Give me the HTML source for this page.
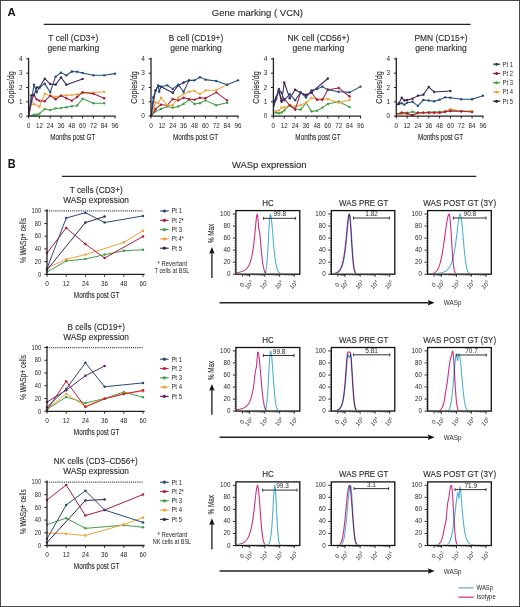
<!DOCTYPE html>
<html><head><meta charset="utf-8"><style>
html,body{margin:0;padding:0;background:#fff;}
svg{display:block;font-family:"Liberation Sans", sans-serif;}
text{opacity:0.999;}
text.b{stroke:#222;stroke-width:0.1px;}
</style></head><body>
<svg width="520" height="607" viewBox="0 0 520 607">
<rect width="520" height="607" fill="#fff"/>
<text x="7.60" y="16.10" font-size="11.2" text-anchor="start" fill="#111" font-weight="bold" textLength="8.20" lengthAdjust="spacingAndGlyphs" >A</text>
<text x="211.80" y="16.10" font-size="9.6" text-anchor="start" fill="#262626" textLength="91.20" lengthAdjust="spacingAndGlyphs" class="b" >Gene marking ( VCN)</text>
<line x1="43.80" y1="24.40" x2="470.60" y2="24.40" stroke="#222" stroke-width="1.2" />
<text x="73.30" y="41.00" font-size="9.0" text-anchor="middle" fill="#262626" textLength="50.00" lengthAdjust="spacingAndGlyphs" class="b" >T cell (CD3+)</text>
<text x="73.30" y="51.30" font-size="9.0" text-anchor="middle" fill="#262626" textLength="51.70" lengthAdjust="spacingAndGlyphs" class="b" >gene marking</text>
<polyline points="28.60,116.10 34.00,114.81 36.70,114.67 39.40,113.67 44.80,108.95 50.20,109.95 55.60,108.38 61.00,108.09 66.40,107.23 71.80,106.23 77.20,105.52 82.60,98.80 93.40,103.23 104.20,103.23" fill="none" stroke="#3f9f45" stroke-width="1.05" stroke-linejoin="round" />
<circle cx="34.00" cy="114.81" r="1.2" fill="#3f9f45"/>
<circle cx="36.70" cy="114.67" r="1.2" fill="#3f9f45"/>
<circle cx="39.40" cy="113.67" r="1.2" fill="#3f9f45"/>
<circle cx="44.80" cy="108.95" r="1.2" fill="#3f9f45"/>
<circle cx="50.20" cy="109.95" r="1.2" fill="#3f9f45"/>
<circle cx="55.60" cy="108.38" r="1.2" fill="#3f9f45"/>
<circle cx="61.00" cy="108.09" r="1.2" fill="#3f9f45"/>
<circle cx="66.40" cy="107.23" r="1.2" fill="#3f9f45"/>
<circle cx="71.80" cy="106.23" r="1.2" fill="#3f9f45"/>
<circle cx="77.20" cy="105.52" r="1.2" fill="#3f9f45"/>
<circle cx="82.60" cy="98.80" r="1.2" fill="#3f9f45"/>
<circle cx="93.40" cy="103.23" r="1.2" fill="#3f9f45"/>
<circle cx="104.20" cy="103.23" r="1.2" fill="#3f9f45"/>
<polyline points="28.60,116.10 31.30,104.66 34.00,103.94 39.40,106.80 44.80,93.79 50.20,95.65 55.60,96.65 61.00,95.65 66.40,95.36 71.80,95.08 77.20,94.22 82.60,93.22 104.20,91.79" fill="none" stroke="#f0a23a" stroke-width="1.05" stroke-linejoin="round" />
<circle cx="31.30" cy="104.66" r="1.2" fill="#f0a23a"/>
<circle cx="34.00" cy="103.94" r="1.2" fill="#f0a23a"/>
<circle cx="39.40" cy="106.80" r="1.2" fill="#f0a23a"/>
<circle cx="44.80" cy="93.79" r="1.2" fill="#f0a23a"/>
<circle cx="50.20" cy="95.65" r="1.2" fill="#f0a23a"/>
<circle cx="55.60" cy="96.65" r="1.2" fill="#f0a23a"/>
<circle cx="61.00" cy="95.65" r="1.2" fill="#f0a23a"/>
<circle cx="66.40" cy="95.36" r="1.2" fill="#f0a23a"/>
<circle cx="71.80" cy="95.08" r="1.2" fill="#f0a23a"/>
<circle cx="77.20" cy="94.22" r="1.2" fill="#f0a23a"/>
<circle cx="82.60" cy="93.22" r="1.2" fill="#f0a23a"/>
<circle cx="104.20" cy="91.79" r="1.2" fill="#f0a23a"/>
<polyline points="28.60,116.10 31.30,101.80 34.00,95.08 36.70,99.37 39.40,100.66 44.80,101.23 50.20,95.65 55.60,99.23 61.00,95.65 66.40,98.22 71.80,100.66 77.20,96.94 82.60,92.22 93.40,93.65 104.20,98.22" fill="none" stroke="#a81c3c" stroke-width="1.05" stroke-linejoin="round" />
<circle cx="31.30" cy="101.80" r="1.2" fill="#a81c3c"/>
<circle cx="34.00" cy="95.08" r="1.2" fill="#a81c3c"/>
<circle cx="36.70" cy="99.37" r="1.2" fill="#a81c3c"/>
<circle cx="39.40" cy="100.66" r="1.2" fill="#a81c3c"/>
<circle cx="44.80" cy="101.23" r="1.2" fill="#a81c3c"/>
<circle cx="50.20" cy="95.65" r="1.2" fill="#a81c3c"/>
<circle cx="55.60" cy="99.23" r="1.2" fill="#a81c3c"/>
<circle cx="61.00" cy="95.65" r="1.2" fill="#a81c3c"/>
<circle cx="66.40" cy="98.22" r="1.2" fill="#a81c3c"/>
<circle cx="71.80" cy="100.66" r="1.2" fill="#a81c3c"/>
<circle cx="77.20" cy="96.94" r="1.2" fill="#a81c3c"/>
<circle cx="82.60" cy="92.22" r="1.2" fill="#a81c3c"/>
<circle cx="93.40" cy="93.65" r="1.2" fill="#a81c3c"/>
<circle cx="104.20" cy="98.22" r="1.2" fill="#a81c3c"/>
<polyline points="28.60,116.10 31.30,95.36 34.00,95.08 36.70,87.50 39.40,87.50 44.80,78.63 50.20,84.07 55.60,84.64 61.00,77.49 66.40,84.64 82.60,78.92" fill="none" stroke="#3a2452" stroke-width="1.05" stroke-linejoin="round" />
<circle cx="31.30" cy="95.36" r="1.2" fill="#3a2452"/>
<circle cx="34.00" cy="95.08" r="1.2" fill="#3a2452"/>
<circle cx="36.70" cy="87.50" r="1.2" fill="#3a2452"/>
<circle cx="39.40" cy="87.50" r="1.2" fill="#3a2452"/>
<circle cx="44.80" cy="78.63" r="1.2" fill="#3a2452"/>
<circle cx="50.20" cy="84.07" r="1.2" fill="#3a2452"/>
<circle cx="55.60" cy="84.64" r="1.2" fill="#3a2452"/>
<circle cx="61.00" cy="77.49" r="1.2" fill="#3a2452"/>
<circle cx="66.40" cy="84.64" r="1.2" fill="#3a2452"/>
<circle cx="82.60" cy="78.92" r="1.2" fill="#3a2452"/>
<polyline points="28.60,116.10 31.30,101.80 34.00,84.64 36.70,92.22 39.40,87.50 44.80,83.64 50.20,92.22 55.60,76.63 61.00,72.63 66.40,75.34 71.80,71.48 77.20,71.77 82.60,72.91 93.40,75.34 104.20,75.34 115.00,73.63" fill="none" stroke="#264a7c" stroke-width="1.05" stroke-linejoin="round" />
<circle cx="31.30" cy="101.80" r="1.2" fill="#264a7c"/>
<circle cx="34.00" cy="84.64" r="1.2" fill="#264a7c"/>
<circle cx="36.70" cy="92.22" r="1.2" fill="#264a7c"/>
<circle cx="39.40" cy="87.50" r="1.2" fill="#264a7c"/>
<circle cx="44.80" cy="83.64" r="1.2" fill="#264a7c"/>
<circle cx="50.20" cy="92.22" r="1.2" fill="#264a7c"/>
<circle cx="55.60" cy="76.63" r="1.2" fill="#264a7c"/>
<circle cx="61.00" cy="72.63" r="1.2" fill="#264a7c"/>
<circle cx="66.40" cy="75.34" r="1.2" fill="#264a7c"/>
<circle cx="71.80" cy="71.48" r="1.2" fill="#264a7c"/>
<circle cx="77.20" cy="71.77" r="1.2" fill="#264a7c"/>
<circle cx="82.60" cy="72.91" r="1.2" fill="#264a7c"/>
<circle cx="93.40" cy="75.34" r="1.2" fill="#264a7c"/>
<circle cx="104.20" cy="75.34" r="1.2" fill="#264a7c"/>
<circle cx="115.00" cy="73.63" r="1.2" fill="#264a7c"/>
<line x1="28.60" y1="57.70" x2="28.60" y2="116.70" stroke="#222" stroke-width="1.3" />
<line x1="28.00" y1="116.10" x2="115.60" y2="116.10" stroke="#222" stroke-width="1.3" />
<line x1="26.20" y1="116.10" x2="28.60" y2="116.10" stroke="#222" stroke-width="1.0" />
<text x="20.70" y="118.10" font-size="6.6" text-anchor="middle" fill="#262626" textLength="3.60" lengthAdjust="spacingAndGlyphs" >0</text>
<line x1="26.20" y1="101.80" x2="28.60" y2="101.80" stroke="#222" stroke-width="1.0" />
<text x="20.70" y="103.80" font-size="6.6" text-anchor="middle" fill="#262626" textLength="3.60" lengthAdjust="spacingAndGlyphs" >1</text>
<line x1="26.20" y1="87.50" x2="28.60" y2="87.50" stroke="#222" stroke-width="1.0" />
<text x="20.70" y="89.50" font-size="6.6" text-anchor="middle" fill="#262626" textLength="3.60" lengthAdjust="spacingAndGlyphs" >2</text>
<line x1="26.20" y1="73.20" x2="28.60" y2="73.20" stroke="#222" stroke-width="1.0" />
<text x="20.70" y="75.20" font-size="6.6" text-anchor="middle" fill="#262626" textLength="3.60" lengthAdjust="spacingAndGlyphs" >3</text>
<line x1="26.20" y1="58.90" x2="28.60" y2="58.90" stroke="#222" stroke-width="1.0" />
<text x="20.70" y="60.90" font-size="6.6" text-anchor="middle" fill="#262626" textLength="3.60" lengthAdjust="spacingAndGlyphs" >4</text>
<line x1="28.60" y1="116.10" x2="28.60" y2="118.50" stroke="#222" stroke-width="1.0" />
<text x="28.60" y="127.90" font-size="6.6" text-anchor="middle" fill="#262626" textLength="3.60" lengthAdjust="spacingAndGlyphs" >0</text>
<line x1="39.40" y1="116.10" x2="39.40" y2="118.50" stroke="#222" stroke-width="1.0" />
<text x="39.40" y="127.90" font-size="6.6" text-anchor="middle" fill="#262626" textLength="7.00" lengthAdjust="spacingAndGlyphs" >12</text>
<line x1="50.20" y1="116.10" x2="50.20" y2="118.50" stroke="#222" stroke-width="1.0" />
<text x="50.20" y="127.90" font-size="6.6" text-anchor="middle" fill="#262626" textLength="7.00" lengthAdjust="spacingAndGlyphs" >24</text>
<line x1="61.00" y1="116.10" x2="61.00" y2="118.50" stroke="#222" stroke-width="1.0" />
<text x="61.00" y="127.90" font-size="6.6" text-anchor="middle" fill="#262626" textLength="7.00" lengthAdjust="spacingAndGlyphs" >36</text>
<line x1="71.80" y1="116.10" x2="71.80" y2="118.50" stroke="#222" stroke-width="1.0" />
<text x="71.80" y="127.90" font-size="6.6" text-anchor="middle" fill="#262626" textLength="7.00" lengthAdjust="spacingAndGlyphs" >48</text>
<line x1="82.60" y1="116.10" x2="82.60" y2="118.50" stroke="#222" stroke-width="1.0" />
<text x="82.60" y="127.90" font-size="6.6" text-anchor="middle" fill="#262626" textLength="7.00" lengthAdjust="spacingAndGlyphs" >60</text>
<line x1="93.40" y1="116.10" x2="93.40" y2="118.50" stroke="#222" stroke-width="1.0" />
<text x="93.40" y="127.90" font-size="6.6" text-anchor="middle" fill="#262626" textLength="7.00" lengthAdjust="spacingAndGlyphs" >72</text>
<line x1="104.20" y1="116.10" x2="104.20" y2="118.50" stroke="#222" stroke-width="1.0" />
<text x="104.20" y="127.90" font-size="6.6" text-anchor="middle" fill="#262626" textLength="7.00" lengthAdjust="spacingAndGlyphs" >84</text>
<line x1="115.00" y1="116.10" x2="115.00" y2="118.50" stroke="#222" stroke-width="1.0" />
<text x="115.00" y="127.90" font-size="6.6" text-anchor="middle" fill="#262626" textLength="7.00" lengthAdjust="spacingAndGlyphs" >96</text>
<text x="72.80" y="140.00" font-size="8.8" text-anchor="middle" fill="#262626" textLength="45.20" lengthAdjust="spacingAndGlyphs" class="b" >Months post GT</text>
<text x="14.20" y="87.40" font-size="8.6" text-anchor="middle" fill="#262626" textLength="32.60" lengthAdjust="spacingAndGlyphs" transform="rotate(-90 14.20 87.40)" class="b" >Copies/dg</text>
<text x="196.00" y="41.00" font-size="9.0" text-anchor="middle" fill="#262626" textLength="54.50" lengthAdjust="spacingAndGlyphs" class="b" >B cell (CD19+)</text>
<text x="196.00" y="51.30" font-size="9.0" text-anchor="middle" fill="#262626" textLength="51.70" lengthAdjust="spacingAndGlyphs" class="b" >gene marking</text>
<polyline points="151.00,116.10 155.53,111.38 160.97,108.95 167.31,106.52 172.75,107.66 178.19,106.52 183.62,103.94 189.06,99.66 194.50,103.94 199.94,103.23 205.38,100.37 216.25,105.23 227.12,102.80" fill="none" stroke="#3f9f45" stroke-width="1.05" stroke-linejoin="round" />
<circle cx="155.53" cy="111.38" r="1.2" fill="#3f9f45"/>
<circle cx="160.97" cy="108.95" r="1.2" fill="#3f9f45"/>
<circle cx="167.31" cy="106.52" r="1.2" fill="#3f9f45"/>
<circle cx="172.75" cy="107.66" r="1.2" fill="#3f9f45"/>
<circle cx="178.19" cy="106.52" r="1.2" fill="#3f9f45"/>
<circle cx="183.62" cy="103.94" r="1.2" fill="#3f9f45"/>
<circle cx="189.06" cy="99.66" r="1.2" fill="#3f9f45"/>
<circle cx="194.50" cy="103.94" r="1.2" fill="#3f9f45"/>
<circle cx="199.94" cy="103.23" r="1.2" fill="#3f9f45"/>
<circle cx="205.38" cy="100.37" r="1.2" fill="#3f9f45"/>
<circle cx="216.25" cy="105.23" r="1.2" fill="#3f9f45"/>
<circle cx="227.12" cy="102.80" r="1.2" fill="#3f9f45"/>
<polyline points="151.00,116.10 155.53,108.95 160.97,104.66 167.31,105.23 172.75,98.94 178.19,100.37 183.62,97.80 189.06,98.94 194.50,99.66 199.94,97.80 205.38,98.22 216.25,92.36 227.12,100.37" fill="none" stroke="#a81c3c" stroke-width="1.05" stroke-linejoin="round" />
<circle cx="155.53" cy="108.95" r="1.2" fill="#a81c3c"/>
<circle cx="160.97" cy="104.66" r="1.2" fill="#a81c3c"/>
<circle cx="167.31" cy="105.23" r="1.2" fill="#a81c3c"/>
<circle cx="172.75" cy="98.94" r="1.2" fill="#a81c3c"/>
<circle cx="178.19" cy="100.37" r="1.2" fill="#a81c3c"/>
<circle cx="183.62" cy="97.80" r="1.2" fill="#a81c3c"/>
<circle cx="189.06" cy="98.94" r="1.2" fill="#a81c3c"/>
<circle cx="194.50" cy="99.66" r="1.2" fill="#a81c3c"/>
<circle cx="199.94" cy="97.80" r="1.2" fill="#a81c3c"/>
<circle cx="205.38" cy="98.22" r="1.2" fill="#a81c3c"/>
<circle cx="216.25" cy="92.36" r="1.2" fill="#a81c3c"/>
<circle cx="227.12" cy="100.37" r="1.2" fill="#a81c3c"/>
<polyline points="151.00,116.10 153.72,107.52 155.53,102.23 158.25,103.23 160.97,97.80 167.31,105.23 172.75,105.23 178.19,97.80 183.62,94.08 189.06,91.65 194.50,90.79 199.94,94.08 205.38,90.36 216.25,89.93 227.12,84.64" fill="none" stroke="#f0a23a" stroke-width="1.05" stroke-linejoin="round" />
<circle cx="153.72" cy="107.52" r="1.2" fill="#f0a23a"/>
<circle cx="155.53" cy="102.23" r="1.2" fill="#f0a23a"/>
<circle cx="158.25" cy="103.23" r="1.2" fill="#f0a23a"/>
<circle cx="160.97" cy="97.80" r="1.2" fill="#f0a23a"/>
<circle cx="167.31" cy="105.23" r="1.2" fill="#f0a23a"/>
<circle cx="172.75" cy="105.23" r="1.2" fill="#f0a23a"/>
<circle cx="178.19" cy="97.80" r="1.2" fill="#f0a23a"/>
<circle cx="183.62" cy="94.08" r="1.2" fill="#f0a23a"/>
<circle cx="189.06" cy="91.65" r="1.2" fill="#f0a23a"/>
<circle cx="194.50" cy="90.79" r="1.2" fill="#f0a23a"/>
<circle cx="199.94" cy="94.08" r="1.2" fill="#f0a23a"/>
<circle cx="205.38" cy="90.36" r="1.2" fill="#f0a23a"/>
<circle cx="216.25" cy="89.93" r="1.2" fill="#f0a23a"/>
<circle cx="227.12" cy="84.64" r="1.2" fill="#f0a23a"/>
<polyline points="151.00,116.10 155.53,90.36 158.25,86.07 160.97,86.78 172.75,92.79 178.19,85.35 183.62,82.50 189.06,80.35" fill="none" stroke="#3a2452" stroke-width="1.05" stroke-linejoin="round" />
<circle cx="155.53" cy="90.36" r="1.2" fill="#3a2452"/>
<circle cx="158.25" cy="86.07" r="1.2" fill="#3a2452"/>
<circle cx="160.97" cy="86.78" r="1.2" fill="#3a2452"/>
<circle cx="172.75" cy="92.79" r="1.2" fill="#3a2452"/>
<circle cx="178.19" cy="85.35" r="1.2" fill="#3a2452"/>
<circle cx="183.62" cy="82.50" r="1.2" fill="#3a2452"/>
<circle cx="189.06" cy="80.35" r="1.2" fill="#3a2452"/>
<polyline points="151.00,116.10 153.27,97.51 155.53,90.79 158.25,85.35 159.16,91.79 160.97,86.78 167.31,85.35 172.75,88.93 178.19,84.64 183.62,91.79 189.06,80.35 194.50,80.35 199.94,77.20 205.38,79.63 216.25,81.06 227.12,84.64 238.00,80.35" fill="none" stroke="#264a7c" stroke-width="1.05" stroke-linejoin="round" />
<circle cx="153.27" cy="97.51" r="1.2" fill="#264a7c"/>
<circle cx="155.53" cy="90.79" r="1.2" fill="#264a7c"/>
<circle cx="158.25" cy="85.35" r="1.2" fill="#264a7c"/>
<circle cx="159.16" cy="91.79" r="1.2" fill="#264a7c"/>
<circle cx="160.97" cy="86.78" r="1.2" fill="#264a7c"/>
<circle cx="167.31" cy="85.35" r="1.2" fill="#264a7c"/>
<circle cx="172.75" cy="88.93" r="1.2" fill="#264a7c"/>
<circle cx="178.19" cy="84.64" r="1.2" fill="#264a7c"/>
<circle cx="183.62" cy="91.79" r="1.2" fill="#264a7c"/>
<circle cx="189.06" cy="80.35" r="1.2" fill="#264a7c"/>
<circle cx="194.50" cy="80.35" r="1.2" fill="#264a7c"/>
<circle cx="199.94" cy="77.20" r="1.2" fill="#264a7c"/>
<circle cx="205.38" cy="79.63" r="1.2" fill="#264a7c"/>
<circle cx="216.25" cy="81.06" r="1.2" fill="#264a7c"/>
<circle cx="227.12" cy="84.64" r="1.2" fill="#264a7c"/>
<circle cx="238.00" cy="80.35" r="1.2" fill="#264a7c"/>
<line x1="151.00" y1="57.70" x2="151.00" y2="116.70" stroke="#222" stroke-width="1.3" />
<line x1="150.40" y1="116.10" x2="238.60" y2="116.10" stroke="#222" stroke-width="1.3" />
<line x1="148.60" y1="116.10" x2="151.00" y2="116.10" stroke="#222" stroke-width="1.0" />
<text x="143.10" y="118.10" font-size="6.6" text-anchor="middle" fill="#262626" textLength="3.60" lengthAdjust="spacingAndGlyphs" >0</text>
<line x1="148.60" y1="101.80" x2="151.00" y2="101.80" stroke="#222" stroke-width="1.0" />
<text x="143.10" y="103.80" font-size="6.6" text-anchor="middle" fill="#262626" textLength="3.60" lengthAdjust="spacingAndGlyphs" >1</text>
<line x1="148.60" y1="87.50" x2="151.00" y2="87.50" stroke="#222" stroke-width="1.0" />
<text x="143.10" y="89.50" font-size="6.6" text-anchor="middle" fill="#262626" textLength="3.60" lengthAdjust="spacingAndGlyphs" >2</text>
<line x1="148.60" y1="73.20" x2="151.00" y2="73.20" stroke="#222" stroke-width="1.0" />
<text x="143.10" y="75.20" font-size="6.6" text-anchor="middle" fill="#262626" textLength="3.60" lengthAdjust="spacingAndGlyphs" >3</text>
<line x1="148.60" y1="58.90" x2="151.00" y2="58.90" stroke="#222" stroke-width="1.0" />
<text x="143.10" y="60.90" font-size="6.6" text-anchor="middle" fill="#262626" textLength="3.60" lengthAdjust="spacingAndGlyphs" >4</text>
<line x1="151.00" y1="116.10" x2="151.00" y2="118.50" stroke="#222" stroke-width="1.0" />
<text x="151.00" y="127.90" font-size="6.6" text-anchor="middle" fill="#262626" textLength="3.60" lengthAdjust="spacingAndGlyphs" >0</text>
<line x1="161.88" y1="116.10" x2="161.88" y2="118.50" stroke="#222" stroke-width="1.0" />
<text x="161.88" y="127.90" font-size="6.6" text-anchor="middle" fill="#262626" textLength="7.00" lengthAdjust="spacingAndGlyphs" >12</text>
<line x1="172.75" y1="116.10" x2="172.75" y2="118.50" stroke="#222" stroke-width="1.0" />
<text x="172.75" y="127.90" font-size="6.6" text-anchor="middle" fill="#262626" textLength="7.00" lengthAdjust="spacingAndGlyphs" >24</text>
<line x1="183.62" y1="116.10" x2="183.62" y2="118.50" stroke="#222" stroke-width="1.0" />
<text x="183.62" y="127.90" font-size="6.6" text-anchor="middle" fill="#262626" textLength="7.00" lengthAdjust="spacingAndGlyphs" >36</text>
<line x1="194.50" y1="116.10" x2="194.50" y2="118.50" stroke="#222" stroke-width="1.0" />
<text x="194.50" y="127.90" font-size="6.6" text-anchor="middle" fill="#262626" textLength="7.00" lengthAdjust="spacingAndGlyphs" >48</text>
<line x1="205.38" y1="116.10" x2="205.38" y2="118.50" stroke="#222" stroke-width="1.0" />
<text x="205.38" y="127.90" font-size="6.6" text-anchor="middle" fill="#262626" textLength="7.00" lengthAdjust="spacingAndGlyphs" >60</text>
<line x1="216.25" y1="116.10" x2="216.25" y2="118.50" stroke="#222" stroke-width="1.0" />
<text x="216.25" y="127.90" font-size="6.6" text-anchor="middle" fill="#262626" textLength="7.00" lengthAdjust="spacingAndGlyphs" >72</text>
<line x1="227.12" y1="116.10" x2="227.12" y2="118.50" stroke="#222" stroke-width="1.0" />
<text x="227.12" y="127.90" font-size="6.6" text-anchor="middle" fill="#262626" textLength="7.00" lengthAdjust="spacingAndGlyphs" >84</text>
<line x1="238.00" y1="116.10" x2="238.00" y2="118.50" stroke="#222" stroke-width="1.0" />
<text x="238.00" y="127.90" font-size="6.6" text-anchor="middle" fill="#262626" textLength="7.00" lengthAdjust="spacingAndGlyphs" >96</text>
<text x="195.50" y="140.00" font-size="8.8" text-anchor="middle" fill="#262626" textLength="45.20" lengthAdjust="spacingAndGlyphs" class="b" >Months post GT</text>
<text x="136.60" y="87.40" font-size="8.6" text-anchor="middle" fill="#262626" textLength="32.60" lengthAdjust="spacingAndGlyphs" transform="rotate(-90 136.60 87.40)" class="b" >Copies/dg</text>
<text x="318.40" y="41.00" font-size="9.0" text-anchor="middle" fill="#262626" textLength="62.00" lengthAdjust="spacingAndGlyphs" class="b" >NK cell (CD56+)</text>
<text x="318.40" y="51.30" font-size="9.0" text-anchor="middle" fill="#262626" textLength="51.70" lengthAdjust="spacingAndGlyphs" class="b" >gene marking</text>
<polyline points="273.40,113.24 276.12,112.52 278.84,113.24 281.57,112.52 284.29,110.38 289.73,105.23 295.17,108.95 300.62,109.66 306.06,102.80 311.51,111.38 316.95,110.67 322.39,107.66 327.84,103.94 338.73,101.51 349.61,106.95" fill="none" stroke="#3f9f45" stroke-width="1.05" stroke-linejoin="round" />
<circle cx="276.12" cy="112.52" r="1.2" fill="#3f9f45"/>
<circle cx="278.84" cy="113.24" r="1.2" fill="#3f9f45"/>
<circle cx="281.57" cy="112.52" r="1.2" fill="#3f9f45"/>
<circle cx="284.29" cy="110.38" r="1.2" fill="#3f9f45"/>
<circle cx="289.73" cy="105.23" r="1.2" fill="#3f9f45"/>
<circle cx="295.17" cy="108.95" r="1.2" fill="#3f9f45"/>
<circle cx="300.62" cy="109.66" r="1.2" fill="#3f9f45"/>
<circle cx="306.06" cy="102.80" r="1.2" fill="#3f9f45"/>
<circle cx="311.51" cy="111.38" r="1.2" fill="#3f9f45"/>
<circle cx="316.95" cy="110.67" r="1.2" fill="#3f9f45"/>
<circle cx="322.39" cy="107.66" r="1.2" fill="#3f9f45"/>
<circle cx="327.84" cy="103.94" r="1.2" fill="#3f9f45"/>
<circle cx="338.73" cy="101.51" r="1.2" fill="#3f9f45"/>
<circle cx="349.61" cy="106.95" r="1.2" fill="#3f9f45"/>
<polyline points="273.40,111.09 278.84,110.38 281.57,107.52 284.29,107.52 289.73,105.23 295.17,106.52 300.62,105.23 306.06,102.80 311.51,97.80 316.95,98.94 322.39,98.94 327.84,98.94 338.73,102.80 349.61,99.80" fill="none" stroke="#f0a23a" stroke-width="1.05" stroke-linejoin="round" />
<circle cx="278.84" cy="110.38" r="1.2" fill="#f0a23a"/>
<circle cx="281.57" cy="107.52" r="1.2" fill="#f0a23a"/>
<circle cx="284.29" cy="107.52" r="1.2" fill="#f0a23a"/>
<circle cx="289.73" cy="105.23" r="1.2" fill="#f0a23a"/>
<circle cx="295.17" cy="106.52" r="1.2" fill="#f0a23a"/>
<circle cx="300.62" cy="105.23" r="1.2" fill="#f0a23a"/>
<circle cx="306.06" cy="102.80" r="1.2" fill="#f0a23a"/>
<circle cx="311.51" cy="97.80" r="1.2" fill="#f0a23a"/>
<circle cx="316.95" cy="98.94" r="1.2" fill="#f0a23a"/>
<circle cx="322.39" cy="98.94" r="1.2" fill="#f0a23a"/>
<circle cx="327.84" cy="98.94" r="1.2" fill="#f0a23a"/>
<circle cx="338.73" cy="102.80" r="1.2" fill="#f0a23a"/>
<circle cx="349.61" cy="99.80" r="1.2" fill="#f0a23a"/>
<polyline points="273.40,107.52 276.12,98.94 278.84,90.36 281.57,100.37 284.29,98.94 289.73,105.23 295.17,109.66 300.62,92.79 306.06,94.79 311.51,92.79 316.95,99.80 322.39,99.80 327.84,89.79 338.73,87.93 349.61,96.51" fill="none" stroke="#a81c3c" stroke-width="1.05" stroke-linejoin="round" />
<circle cx="276.12" cy="98.94" r="1.2" fill="#a81c3c"/>
<circle cx="278.84" cy="90.36" r="1.2" fill="#a81c3c"/>
<circle cx="281.57" cy="100.37" r="1.2" fill="#a81c3c"/>
<circle cx="284.29" cy="98.94" r="1.2" fill="#a81c3c"/>
<circle cx="289.73" cy="105.23" r="1.2" fill="#a81c3c"/>
<circle cx="295.17" cy="109.66" r="1.2" fill="#a81c3c"/>
<circle cx="300.62" cy="92.79" r="1.2" fill="#a81c3c"/>
<circle cx="306.06" cy="94.79" r="1.2" fill="#a81c3c"/>
<circle cx="311.51" cy="92.79" r="1.2" fill="#a81c3c"/>
<circle cx="316.95" cy="99.80" r="1.2" fill="#a81c3c"/>
<circle cx="322.39" cy="99.80" r="1.2" fill="#a81c3c"/>
<circle cx="327.84" cy="89.79" r="1.2" fill="#a81c3c"/>
<circle cx="338.73" cy="87.93" r="1.2" fill="#a81c3c"/>
<circle cx="349.61" cy="96.51" r="1.2" fill="#a81c3c"/>
<polyline points="273.40,103.23 276.12,97.51 278.84,90.79 281.57,101.80 284.29,82.50 289.73,98.22 295.17,89.79 300.62,92.79 306.06,95.36 311.51,92.36 327.84,78.49" fill="none" stroke="#3a2452" stroke-width="1.05" stroke-linejoin="round" />
<circle cx="276.12" cy="97.51" r="1.2" fill="#3a2452"/>
<circle cx="278.84" cy="90.79" r="1.2" fill="#3a2452"/>
<circle cx="281.57" cy="101.80" r="1.2" fill="#3a2452"/>
<circle cx="284.29" cy="82.50" r="1.2" fill="#3a2452"/>
<circle cx="289.73" cy="98.22" r="1.2" fill="#3a2452"/>
<circle cx="295.17" cy="89.79" r="1.2" fill="#3a2452"/>
<circle cx="300.62" cy="92.79" r="1.2" fill="#3a2452"/>
<circle cx="306.06" cy="95.36" r="1.2" fill="#3a2452"/>
<circle cx="311.51" cy="92.36" r="1.2" fill="#3a2452"/>
<circle cx="327.84" cy="78.49" r="1.2" fill="#3a2452"/>
<polyline points="273.40,107.52 275.21,100.37 278.84,88.93 281.57,92.79 284.29,100.37 289.73,94.08 295.17,100.37 300.62,92.36 306.06,97.51 311.51,90.36 316.95,89.07 322.39,86.64 327.84,89.79 338.73,91.79 349.61,92.36 360.50,86.64" fill="none" stroke="#264a7c" stroke-width="1.05" stroke-linejoin="round" />
<circle cx="275.21" cy="100.37" r="1.2" fill="#264a7c"/>
<circle cx="278.84" cy="88.93" r="1.2" fill="#264a7c"/>
<circle cx="281.57" cy="92.79" r="1.2" fill="#264a7c"/>
<circle cx="284.29" cy="100.37" r="1.2" fill="#264a7c"/>
<circle cx="289.73" cy="94.08" r="1.2" fill="#264a7c"/>
<circle cx="295.17" cy="100.37" r="1.2" fill="#264a7c"/>
<circle cx="300.62" cy="92.36" r="1.2" fill="#264a7c"/>
<circle cx="306.06" cy="97.51" r="1.2" fill="#264a7c"/>
<circle cx="311.51" cy="90.36" r="1.2" fill="#264a7c"/>
<circle cx="316.95" cy="89.07" r="1.2" fill="#264a7c"/>
<circle cx="322.39" cy="86.64" r="1.2" fill="#264a7c"/>
<circle cx="327.84" cy="89.79" r="1.2" fill="#264a7c"/>
<circle cx="338.73" cy="91.79" r="1.2" fill="#264a7c"/>
<circle cx="349.61" cy="92.36" r="1.2" fill="#264a7c"/>
<circle cx="360.50" cy="86.64" r="1.2" fill="#264a7c"/>
<line x1="273.40" y1="57.70" x2="273.40" y2="116.70" stroke="#222" stroke-width="1.3" />
<line x1="272.80" y1="116.10" x2="361.10" y2="116.10" stroke="#222" stroke-width="1.3" />
<line x1="271.00" y1="116.10" x2="273.40" y2="116.10" stroke="#222" stroke-width="1.0" />
<text x="265.50" y="118.10" font-size="6.6" text-anchor="middle" fill="#262626" textLength="3.60" lengthAdjust="spacingAndGlyphs" >0</text>
<line x1="271.00" y1="101.80" x2="273.40" y2="101.80" stroke="#222" stroke-width="1.0" />
<text x="265.50" y="103.80" font-size="6.6" text-anchor="middle" fill="#262626" textLength="3.60" lengthAdjust="spacingAndGlyphs" >1</text>
<line x1="271.00" y1="87.50" x2="273.40" y2="87.50" stroke="#222" stroke-width="1.0" />
<text x="265.50" y="89.50" font-size="6.6" text-anchor="middle" fill="#262626" textLength="3.60" lengthAdjust="spacingAndGlyphs" >2</text>
<line x1="271.00" y1="73.20" x2="273.40" y2="73.20" stroke="#222" stroke-width="1.0" />
<text x="265.50" y="75.20" font-size="6.6" text-anchor="middle" fill="#262626" textLength="3.60" lengthAdjust="spacingAndGlyphs" >3</text>
<line x1="271.00" y1="58.90" x2="273.40" y2="58.90" stroke="#222" stroke-width="1.0" />
<text x="265.50" y="60.90" font-size="6.6" text-anchor="middle" fill="#262626" textLength="3.60" lengthAdjust="spacingAndGlyphs" >4</text>
<line x1="273.40" y1="116.10" x2="273.40" y2="118.50" stroke="#222" stroke-width="1.0" />
<text x="273.40" y="127.90" font-size="6.6" text-anchor="middle" fill="#262626" textLength="3.60" lengthAdjust="spacingAndGlyphs" >0</text>
<line x1="284.29" y1="116.10" x2="284.29" y2="118.50" stroke="#222" stroke-width="1.0" />
<text x="284.29" y="127.90" font-size="6.6" text-anchor="middle" fill="#262626" textLength="7.00" lengthAdjust="spacingAndGlyphs" >12</text>
<line x1="295.17" y1="116.10" x2="295.17" y2="118.50" stroke="#222" stroke-width="1.0" />
<text x="295.17" y="127.90" font-size="6.6" text-anchor="middle" fill="#262626" textLength="7.00" lengthAdjust="spacingAndGlyphs" >24</text>
<line x1="306.06" y1="116.10" x2="306.06" y2="118.50" stroke="#222" stroke-width="1.0" />
<text x="306.06" y="127.90" font-size="6.6" text-anchor="middle" fill="#262626" textLength="7.00" lengthAdjust="spacingAndGlyphs" >36</text>
<line x1="316.95" y1="116.10" x2="316.95" y2="118.50" stroke="#222" stroke-width="1.0" />
<text x="316.95" y="127.90" font-size="6.6" text-anchor="middle" fill="#262626" textLength="7.00" lengthAdjust="spacingAndGlyphs" >48</text>
<line x1="327.84" y1="116.10" x2="327.84" y2="118.50" stroke="#222" stroke-width="1.0" />
<text x="327.84" y="127.90" font-size="6.6" text-anchor="middle" fill="#262626" textLength="7.00" lengthAdjust="spacingAndGlyphs" >60</text>
<line x1="338.73" y1="116.10" x2="338.73" y2="118.50" stroke="#222" stroke-width="1.0" />
<text x="338.73" y="127.90" font-size="6.6" text-anchor="middle" fill="#262626" textLength="7.00" lengthAdjust="spacingAndGlyphs" >72</text>
<line x1="349.61" y1="116.10" x2="349.61" y2="118.50" stroke="#222" stroke-width="1.0" />
<text x="349.61" y="127.90" font-size="6.6" text-anchor="middle" fill="#262626" textLength="7.00" lengthAdjust="spacingAndGlyphs" >84</text>
<line x1="360.50" y1="116.10" x2="360.50" y2="118.50" stroke="#222" stroke-width="1.0" />
<text x="360.50" y="127.90" font-size="6.6" text-anchor="middle" fill="#262626" textLength="7.00" lengthAdjust="spacingAndGlyphs" >96</text>
<text x="317.95" y="140.00" font-size="8.8" text-anchor="middle" fill="#262626" textLength="45.20" lengthAdjust="spacingAndGlyphs" class="b" >Months post GT</text>
<text x="259.00" y="87.40" font-size="8.6" text-anchor="middle" fill="#262626" textLength="32.60" lengthAdjust="spacingAndGlyphs" transform="rotate(-90 259.00 87.40)" class="b" >Copies/dg</text>
<text x="441.00" y="41.00" font-size="9.0" text-anchor="middle" fill="#262626" textLength="53.00" lengthAdjust="spacingAndGlyphs" class="b" >PMN (CD15+)</text>
<text x="441.00" y="51.30" font-size="9.0" text-anchor="middle" fill="#262626" textLength="51.70" lengthAdjust="spacingAndGlyphs" class="b" >gene marking</text>
<polyline points="396.30,113.95 401.71,112.67 407.12,112.67 412.54,111.81 417.95,112.67 423.36,112.67 428.77,112.10 434.19,112.10 439.60,111.81 445.01,111.81 450.43,111.24 461.25,111.24 472.07,111.24" fill="none" stroke="#3f9f45" stroke-width="1.05" stroke-linejoin="round" />
<circle cx="401.71" cy="112.67" r="1.2" fill="#3f9f45"/>
<circle cx="407.12" cy="112.67" r="1.2" fill="#3f9f45"/>
<circle cx="412.54" cy="111.81" r="1.2" fill="#3f9f45"/>
<circle cx="417.95" cy="112.67" r="1.2" fill="#3f9f45"/>
<circle cx="423.36" cy="112.67" r="1.2" fill="#3f9f45"/>
<circle cx="428.77" cy="112.10" r="1.2" fill="#3f9f45"/>
<circle cx="434.19" cy="112.10" r="1.2" fill="#3f9f45"/>
<circle cx="439.60" cy="111.81" r="1.2" fill="#3f9f45"/>
<circle cx="445.01" cy="111.81" r="1.2" fill="#3f9f45"/>
<circle cx="450.43" cy="111.24" r="1.2" fill="#3f9f45"/>
<circle cx="461.25" cy="111.24" r="1.2" fill="#3f9f45"/>
<circle cx="472.07" cy="111.24" r="1.2" fill="#3f9f45"/>
<polyline points="396.30,115.24 401.71,113.95 407.12,113.95 412.54,114.81 417.95,113.38 423.36,112.67 428.77,112.67 434.19,112.67 439.60,112.67 445.01,111.24 450.43,109.09 461.25,111.24 472.07,110.81" fill="none" stroke="#f0a23a" stroke-width="1.05" stroke-linejoin="round" />
<circle cx="401.71" cy="113.95" r="1.2" fill="#f0a23a"/>
<circle cx="407.12" cy="113.95" r="1.2" fill="#f0a23a"/>
<circle cx="412.54" cy="114.81" r="1.2" fill="#f0a23a"/>
<circle cx="417.95" cy="113.38" r="1.2" fill="#f0a23a"/>
<circle cx="423.36" cy="112.67" r="1.2" fill="#f0a23a"/>
<circle cx="428.77" cy="112.67" r="1.2" fill="#f0a23a"/>
<circle cx="434.19" cy="112.67" r="1.2" fill="#f0a23a"/>
<circle cx="439.60" cy="112.67" r="1.2" fill="#f0a23a"/>
<circle cx="445.01" cy="111.24" r="1.2" fill="#f0a23a"/>
<circle cx="450.43" cy="109.09" r="1.2" fill="#f0a23a"/>
<circle cx="461.25" cy="111.24" r="1.2" fill="#f0a23a"/>
<circle cx="472.07" cy="110.81" r="1.2" fill="#f0a23a"/>
<polyline points="396.30,113.95 401.71,112.67 407.12,113.38 412.54,115.24 417.95,112.67 423.36,112.67 428.77,112.67 434.19,112.67 439.60,112.67 445.01,111.81 450.43,110.81 461.25,111.24 472.07,112.10" fill="none" stroke="#a81c3c" stroke-width="1.05" stroke-linejoin="round" />
<circle cx="401.71" cy="112.67" r="1.2" fill="#a81c3c"/>
<circle cx="407.12" cy="113.38" r="1.2" fill="#a81c3c"/>
<circle cx="412.54" cy="115.24" r="1.2" fill="#a81c3c"/>
<circle cx="417.95" cy="112.67" r="1.2" fill="#a81c3c"/>
<circle cx="423.36" cy="112.67" r="1.2" fill="#a81c3c"/>
<circle cx="428.77" cy="112.67" r="1.2" fill="#a81c3c"/>
<circle cx="434.19" cy="112.67" r="1.2" fill="#a81c3c"/>
<circle cx="439.60" cy="112.67" r="1.2" fill="#a81c3c"/>
<circle cx="445.01" cy="111.81" r="1.2" fill="#a81c3c"/>
<circle cx="450.43" cy="110.81" r="1.2" fill="#a81c3c"/>
<circle cx="461.25" cy="111.24" r="1.2" fill="#a81c3c"/>
<circle cx="472.07" cy="112.10" r="1.2" fill="#a81c3c"/>
<polyline points="396.30,104.66 399.01,103.94 401.71,103.23 404.42,104.66 407.12,102.66 412.54,101.80 417.95,105.95 423.36,99.94 428.77,100.51 434.19,101.37 439.60,99.66 445.01,97.37 450.43,97.80 461.25,99.23 472.07,99.23 482.90,95.65" fill="none" stroke="#264a7c" stroke-width="1.05" stroke-linejoin="round" />
<circle cx="399.01" cy="103.94" r="1.2" fill="#264a7c"/>
<circle cx="401.71" cy="103.23" r="1.2" fill="#264a7c"/>
<circle cx="404.42" cy="104.66" r="1.2" fill="#264a7c"/>
<circle cx="407.12" cy="102.66" r="1.2" fill="#264a7c"/>
<circle cx="412.54" cy="101.80" r="1.2" fill="#264a7c"/>
<circle cx="417.95" cy="105.95" r="1.2" fill="#264a7c"/>
<circle cx="423.36" cy="99.94" r="1.2" fill="#264a7c"/>
<circle cx="428.77" cy="100.51" r="1.2" fill="#264a7c"/>
<circle cx="434.19" cy="101.37" r="1.2" fill="#264a7c"/>
<circle cx="439.60" cy="99.66" r="1.2" fill="#264a7c"/>
<circle cx="445.01" cy="97.37" r="1.2" fill="#264a7c"/>
<circle cx="450.43" cy="97.80" r="1.2" fill="#264a7c"/>
<circle cx="461.25" cy="99.23" r="1.2" fill="#264a7c"/>
<circle cx="472.07" cy="99.23" r="1.2" fill="#264a7c"/>
<circle cx="482.90" cy="95.65" r="1.2" fill="#264a7c"/>
<polyline points="396.30,105.38 399.01,103.23 401.71,97.80 404.42,100.51 407.12,99.94 412.54,98.65 417.95,95.65 423.36,94.65 428.77,87.07 434.19,91.93 450.43,91.07" fill="none" stroke="#3a2452" stroke-width="1.05" stroke-linejoin="round" />
<circle cx="399.01" cy="103.23" r="1.2" fill="#3a2452"/>
<circle cx="401.71" cy="97.80" r="1.2" fill="#3a2452"/>
<circle cx="404.42" cy="100.51" r="1.2" fill="#3a2452"/>
<circle cx="407.12" cy="99.94" r="1.2" fill="#3a2452"/>
<circle cx="412.54" cy="98.65" r="1.2" fill="#3a2452"/>
<circle cx="417.95" cy="95.65" r="1.2" fill="#3a2452"/>
<circle cx="423.36" cy="94.65" r="1.2" fill="#3a2452"/>
<circle cx="428.77" cy="87.07" r="1.2" fill="#3a2452"/>
<circle cx="434.19" cy="91.93" r="1.2" fill="#3a2452"/>
<circle cx="450.43" cy="91.07" r="1.2" fill="#3a2452"/>
<line x1="396.30" y1="57.70" x2="396.30" y2="116.70" stroke="#222" stroke-width="1.3" />
<line x1="395.70" y1="116.10" x2="483.50" y2="116.10" stroke="#222" stroke-width="1.3" />
<line x1="393.90" y1="116.10" x2="396.30" y2="116.10" stroke="#222" stroke-width="1.0" />
<text x="388.40" y="118.10" font-size="6.6" text-anchor="middle" fill="#262626" textLength="3.60" lengthAdjust="spacingAndGlyphs" >0</text>
<line x1="393.90" y1="101.80" x2="396.30" y2="101.80" stroke="#222" stroke-width="1.0" />
<text x="388.40" y="103.80" font-size="6.6" text-anchor="middle" fill="#262626" textLength="3.60" lengthAdjust="spacingAndGlyphs" >1</text>
<line x1="393.90" y1="87.50" x2="396.30" y2="87.50" stroke="#222" stroke-width="1.0" />
<text x="388.40" y="89.50" font-size="6.6" text-anchor="middle" fill="#262626" textLength="3.60" lengthAdjust="spacingAndGlyphs" >2</text>
<line x1="393.90" y1="73.20" x2="396.30" y2="73.20" stroke="#222" stroke-width="1.0" />
<text x="388.40" y="75.20" font-size="6.6" text-anchor="middle" fill="#262626" textLength="3.60" lengthAdjust="spacingAndGlyphs" >3</text>
<line x1="393.90" y1="58.90" x2="396.30" y2="58.90" stroke="#222" stroke-width="1.0" />
<text x="388.40" y="60.90" font-size="6.6" text-anchor="middle" fill="#262626" textLength="3.60" lengthAdjust="spacingAndGlyphs" >4</text>
<line x1="396.30" y1="116.10" x2="396.30" y2="118.50" stroke="#222" stroke-width="1.0" />
<text x="396.30" y="127.90" font-size="6.6" text-anchor="middle" fill="#262626" textLength="3.60" lengthAdjust="spacingAndGlyphs" >0</text>
<line x1="407.12" y1="116.10" x2="407.12" y2="118.50" stroke="#222" stroke-width="1.0" />
<text x="407.12" y="127.90" font-size="6.6" text-anchor="middle" fill="#262626" textLength="7.00" lengthAdjust="spacingAndGlyphs" >12</text>
<line x1="417.95" y1="116.10" x2="417.95" y2="118.50" stroke="#222" stroke-width="1.0" />
<text x="417.95" y="127.90" font-size="6.6" text-anchor="middle" fill="#262626" textLength="7.00" lengthAdjust="spacingAndGlyphs" >24</text>
<line x1="428.77" y1="116.10" x2="428.77" y2="118.50" stroke="#222" stroke-width="1.0" />
<text x="428.77" y="127.90" font-size="6.6" text-anchor="middle" fill="#262626" textLength="7.00" lengthAdjust="spacingAndGlyphs" >36</text>
<line x1="439.60" y1="116.10" x2="439.60" y2="118.50" stroke="#222" stroke-width="1.0" />
<text x="439.60" y="127.90" font-size="6.6" text-anchor="middle" fill="#262626" textLength="7.00" lengthAdjust="spacingAndGlyphs" >48</text>
<line x1="450.43" y1="116.10" x2="450.43" y2="118.50" stroke="#222" stroke-width="1.0" />
<text x="450.43" y="127.90" font-size="6.6" text-anchor="middle" fill="#262626" textLength="7.00" lengthAdjust="spacingAndGlyphs" >60</text>
<line x1="461.25" y1="116.10" x2="461.25" y2="118.50" stroke="#222" stroke-width="1.0" />
<text x="461.25" y="127.90" font-size="6.6" text-anchor="middle" fill="#262626" textLength="7.00" lengthAdjust="spacingAndGlyphs" >72</text>
<line x1="472.07" y1="116.10" x2="472.07" y2="118.50" stroke="#222" stroke-width="1.0" />
<text x="472.07" y="127.90" font-size="6.6" text-anchor="middle" fill="#262626" textLength="7.00" lengthAdjust="spacingAndGlyphs" >84</text>
<line x1="482.90" y1="116.10" x2="482.90" y2="118.50" stroke="#222" stroke-width="1.0" />
<text x="482.90" y="127.90" font-size="6.6" text-anchor="middle" fill="#262626" textLength="7.00" lengthAdjust="spacingAndGlyphs" >96</text>
<text x="440.60" y="140.00" font-size="8.8" text-anchor="middle" fill="#262626" textLength="45.20" lengthAdjust="spacingAndGlyphs" class="b" >Months post GT</text>
<text x="381.90" y="87.40" font-size="8.6" text-anchor="middle" fill="#262626" textLength="32.60" lengthAdjust="spacingAndGlyphs" transform="rotate(-90 381.90 87.40)" class="b" >Copies/dg</text>
<line x1="493.00" y1="64.20" x2="500.20" y2="64.20" stroke="#1f3f5e" stroke-width="1.2" />
<circle cx="496.60" cy="64.20" r="1.5" fill="#1f3f5e"/>
<text x="502.60" y="66.50" font-size="7.0" text-anchor="start" fill="#262626" textLength="10.40" lengthAdjust="spacingAndGlyphs" >Pt 1</text>
<line x1="493.00" y1="73.45" x2="500.20" y2="73.45" stroke="#8c1c2c" stroke-width="1.2" />
<circle cx="496.60" cy="73.45" r="1.5" fill="#8c1c2c"/>
<text x="502.60" y="75.75" font-size="7.0" text-anchor="start" fill="#262626" textLength="10.40" lengthAdjust="spacingAndGlyphs" >Pt 2</text>
<line x1="493.00" y1="82.70" x2="500.20" y2="82.70" stroke="#3f9f45" stroke-width="1.2" />
<circle cx="496.60" cy="82.70" r="1.5" fill="#3f9f45"/>
<text x="502.60" y="85.00" font-size="7.0" text-anchor="start" fill="#262626" textLength="10.40" lengthAdjust="spacingAndGlyphs" >Pt 3</text>
<line x1="493.00" y1="91.95" x2="500.20" y2="91.95" stroke="#f0a23a" stroke-width="1.2" />
<circle cx="496.60" cy="91.95" r="1.5" fill="#f0a23a"/>
<text x="502.60" y="94.25" font-size="7.0" text-anchor="start" fill="#262626" textLength="10.40" lengthAdjust="spacingAndGlyphs" >Pt 4</text>
<line x1="493.00" y1="101.20" x2="500.20" y2="101.20" stroke="#231a33" stroke-width="1.2" />
<circle cx="496.60" cy="101.20" r="1.5" fill="#231a33"/>
<text x="502.60" y="103.50" font-size="7.0" text-anchor="start" fill="#262626" textLength="10.40" lengthAdjust="spacingAndGlyphs" >Pt 5</text>
<text x="7.70" y="168.00" font-size="13.0" text-anchor="start" fill="#111" font-weight="bold" textLength="7.90" lengthAdjust="spacingAndGlyphs" >B</text>
<text x="232.00" y="168.30" font-size="9.6" text-anchor="start" fill="#262626" textLength="74.50" lengthAdjust="spacingAndGlyphs" class="b" >WASp expression</text>
<line x1="62.00" y1="176.30" x2="476.20" y2="176.30" stroke="#222" stroke-width="1.2" />
<text x="96.30" y="193.00" font-size="9.0" text-anchor="middle" fill="#262626" textLength="53.10" lengthAdjust="spacingAndGlyphs" class="b" >T cells (CD3+)</text>
<text x="96.10" y="203.10" font-size="9.0" text-anchor="middle" fill="#262626" textLength="65.80" lengthAdjust="spacingAndGlyphs" class="b" >WASp expression</text>
<line x1="47.00" y1="210.80" x2="143.2" y2="210.80" stroke="#333" stroke-width="1.25" stroke-dasharray="1.0 1.1"/>
<polyline points="47.00,272.08 66.20,260.97 85.40,259.06 104.60,254.62 123.80,250.81 143.00,249.73" fill="none" stroke="#3f9f45" stroke-width="1.0" stroke-linejoin="round" />
<circle cx="47.00" cy="272.08" r="1.25" fill="#3f9f45"/>
<circle cx="66.20" cy="260.97" r="1.25" fill="#3f9f45"/>
<circle cx="85.40" cy="259.06" r="1.25" fill="#3f9f45"/>
<circle cx="104.60" cy="254.62" r="1.25" fill="#3f9f45"/>
<circle cx="123.80" cy="250.81" r="1.25" fill="#3f9f45"/>
<circle cx="143.00" cy="249.73" r="1.25" fill="#3f9f45"/>
<polyline points="47.00,267.95 66.20,259.31 85.40,254.62 123.80,242.36 143.00,230.74" fill="none" stroke="#f0a23a" stroke-width="1.0" stroke-linejoin="round" />
<circle cx="47.00" cy="267.95" r="1.25" fill="#f0a23a"/>
<circle cx="66.20" cy="259.31" r="1.25" fill="#f0a23a"/>
<circle cx="85.40" cy="254.62" r="1.25" fill="#f0a23a"/>
<circle cx="123.80" cy="242.36" r="1.25" fill="#f0a23a"/>
<circle cx="143.00" cy="230.74" r="1.25" fill="#f0a23a"/>
<polyline points="47.00,253.03 66.20,227.95 85.40,244.07 104.60,258.04 143.00,236.45" fill="none" stroke="#a81c3c" stroke-width="1.0" stroke-linejoin="round" />
<circle cx="47.00" cy="253.03" r="1.25" fill="#a81c3c"/>
<circle cx="66.20" cy="227.95" r="1.25" fill="#a81c3c"/>
<circle cx="85.40" cy="244.07" r="1.25" fill="#a81c3c"/>
<circle cx="104.60" cy="258.04" r="1.25" fill="#a81c3c"/>
<circle cx="143.00" cy="236.45" r="1.25" fill="#a81c3c"/>
<polyline points="47.00,269.86 85.40,222.55 104.60,216.52" fill="none" stroke="#3a2452" stroke-width="1.0" stroke-linejoin="round" />
<circle cx="47.00" cy="269.86" r="1.25" fill="#3a2452"/>
<circle cx="85.40" cy="222.55" r="1.25" fill="#3a2452"/>
<circle cx="104.60" cy="216.52" r="1.25" fill="#3a2452"/>
<polyline points="47.00,268.59 66.20,218.04 85.40,212.71 104.60,222.55 143.00,215.94" fill="none" stroke="#264a7c" stroke-width="1.0" stroke-linejoin="round" />
<circle cx="47.00" cy="268.59" r="1.25" fill="#264a7c"/>
<circle cx="66.20" cy="218.04" r="1.25" fill="#264a7c"/>
<circle cx="85.40" cy="212.71" r="1.25" fill="#264a7c"/>
<circle cx="104.60" cy="222.55" r="1.25" fill="#264a7c"/>
<circle cx="143.00" cy="215.94" r="1.25" fill="#264a7c"/>
<line x1="47.00" y1="209.30" x2="47.00" y2="274.90" stroke="#222" stroke-width="1.3" />
<line x1="46.40" y1="274.30" x2="144.60" y2="274.30" stroke="#222" stroke-width="1.3" />
<line x1="44.40" y1="274.30" x2="47.00" y2="274.30" stroke="#222" stroke-width="1.0" />
<text x="41.20" y="276.50" font-size="6.3" text-anchor="end" fill="#262626" textLength="3.20" lengthAdjust="spacingAndGlyphs" >0</text>
<line x1="44.40" y1="261.60" x2="47.00" y2="261.60" stroke="#222" stroke-width="1.0" />
<text x="41.20" y="263.80" font-size="6.3" text-anchor="end" fill="#262626" textLength="6.40" lengthAdjust="spacingAndGlyphs" >20</text>
<line x1="44.40" y1="248.90" x2="47.00" y2="248.90" stroke="#222" stroke-width="1.0" />
<text x="41.20" y="251.10" font-size="6.3" text-anchor="end" fill="#262626" textLength="6.40" lengthAdjust="spacingAndGlyphs" >40</text>
<line x1="44.40" y1="236.20" x2="47.00" y2="236.20" stroke="#222" stroke-width="1.0" />
<text x="41.20" y="238.40" font-size="6.3" text-anchor="end" fill="#262626" textLength="6.40" lengthAdjust="spacingAndGlyphs" >60</text>
<line x1="44.40" y1="223.50" x2="47.00" y2="223.50" stroke="#222" stroke-width="1.0" />
<text x="41.20" y="225.70" font-size="6.3" text-anchor="end" fill="#262626" textLength="6.40" lengthAdjust="spacingAndGlyphs" >80</text>
<line x1="44.40" y1="210.80" x2="47.00" y2="210.80" stroke="#222" stroke-width="1.0" />
<text x="41.20" y="213.00" font-size="6.3" text-anchor="end" fill="#262626" textLength="9.60" lengthAdjust="spacingAndGlyphs" >100</text>
<line x1="47.00" y1="274.30" x2="47.00" y2="276.70" stroke="#222" stroke-width="1.0" />
<text x="47.00" y="285.90" font-size="6.5" text-anchor="middle" fill="#262626" textLength="3.60" lengthAdjust="spacingAndGlyphs" >0</text>
<line x1="66.20" y1="274.30" x2="66.20" y2="276.70" stroke="#222" stroke-width="1.0" />
<text x="66.20" y="285.90" font-size="6.5" text-anchor="middle" fill="#262626" textLength="7.00" lengthAdjust="spacingAndGlyphs" >12</text>
<line x1="85.40" y1="274.30" x2="85.40" y2="276.70" stroke="#222" stroke-width="1.0" />
<text x="85.40" y="285.90" font-size="6.5" text-anchor="middle" fill="#262626" textLength="7.00" lengthAdjust="spacingAndGlyphs" >24</text>
<line x1="104.60" y1="274.30" x2="104.60" y2="276.70" stroke="#222" stroke-width="1.0" />
<text x="104.60" y="285.90" font-size="6.5" text-anchor="middle" fill="#262626" textLength="7.00" lengthAdjust="spacingAndGlyphs" >36</text>
<line x1="123.80" y1="274.30" x2="123.80" y2="276.70" stroke="#222" stroke-width="1.0" />
<text x="123.80" y="285.90" font-size="6.5" text-anchor="middle" fill="#262626" textLength="7.00" lengthAdjust="spacingAndGlyphs" >48</text>
<line x1="143.00" y1="274.30" x2="143.00" y2="276.70" stroke="#222" stroke-width="1.0" />
<text x="143.00" y="285.90" font-size="6.5" text-anchor="middle" fill="#262626" textLength="7.00" lengthAdjust="spacingAndGlyphs" >60</text>
<text x="96.60" y="297.90" font-size="8.8" text-anchor="middle" fill="#262626" textLength="45.60" lengthAdjust="spacingAndGlyphs" class="b" >Months post GT</text>
<text x="25.60" y="240.55" font-size="8.6" text-anchor="middle" fill="#262626" textLength="45.00" lengthAdjust="spacingAndGlyphs" transform="rotate(-90 25.60 240.55)" class="b" >% WASp+ cells</text>
<line x1="160.20" y1="211.00" x2="168.60" y2="211.00" stroke="#264a7c" stroke-width="1.2" />
<circle cx="164.40" cy="211.00" r="1.6" fill="#264a7c"/>
<text x="171.40" y="213.30" font-size="7.0" text-anchor="start" fill="#262626" textLength="10.60" lengthAdjust="spacingAndGlyphs" >Pt 1</text>
<line x1="160.20" y1="220.30" x2="168.60" y2="220.30" stroke="#a81c3c" stroke-width="1.2" />
<circle cx="164.40" cy="220.30" r="1.6" fill="#a81c3c"/>
<text x="171.40" y="222.60" font-size="7.0" text-anchor="start" fill="#262626" textLength="12.40" lengthAdjust="spacingAndGlyphs" >Pt 2*</text>
<line x1="160.20" y1="229.60" x2="168.60" y2="229.60" stroke="#3f9f45" stroke-width="1.2" />
<circle cx="164.40" cy="229.60" r="1.6" fill="#3f9f45"/>
<text x="171.40" y="231.90" font-size="7.0" text-anchor="start" fill="#262626" textLength="10.60" lengthAdjust="spacingAndGlyphs" >Pt 3</text>
<line x1="160.20" y1="238.90" x2="168.60" y2="238.90" stroke="#f0a23a" stroke-width="1.2" />
<circle cx="164.40" cy="238.90" r="1.6" fill="#f0a23a"/>
<text x="171.40" y="241.20" font-size="7.0" text-anchor="start" fill="#262626" textLength="12.40" lengthAdjust="spacingAndGlyphs" >Pt 4*</text>
<line x1="160.20" y1="248.20" x2="168.60" y2="248.20" stroke="#3a2452" stroke-width="1.2" />
<circle cx="164.40" cy="248.20" r="1.6" fill="#3a2452"/>
<text x="171.40" y="250.50" font-size="7.0" text-anchor="start" fill="#262626" textLength="10.60" lengthAdjust="spacingAndGlyphs" >Pt 5</text>
<text x="172.40" y="265.80" font-size="6.9" text-anchor="middle" fill="#262626" textLength="29.60" lengthAdjust="spacingAndGlyphs" >* Revertant</text>
<text x="172.00" y="272.60" font-size="6.9" text-anchor="middle" fill="#262626" textLength="35.00" lengthAdjust="spacingAndGlyphs" >T cells at BSL</text>
<text x="96.30" y="329.80" font-size="9.0" text-anchor="middle" fill="#262626" textLength="57.50" lengthAdjust="spacingAndGlyphs" class="b" >B cells (CD19+)</text>
<text x="96.10" y="339.90" font-size="9.0" text-anchor="middle" fill="#262626" textLength="65.80" lengthAdjust="spacingAndGlyphs" class="b" >WASp expression</text>
<line x1="47.00" y1="347.50" x2="143.2" y2="347.50" stroke="#333" stroke-width="1.25" stroke-dasharray="1.0 1.1"/>
<polyline points="47.00,409.39 66.20,396.94 85.40,403.01 104.60,398.54 123.80,392.03 143.00,397.33" fill="none" stroke="#3f9f45" stroke-width="1.0" stroke-linejoin="round" />
<circle cx="47.00" cy="409.39" r="1.25" fill="#3f9f45"/>
<circle cx="66.20" cy="396.94" r="1.25" fill="#3f9f45"/>
<circle cx="85.40" cy="403.01" r="1.25" fill="#3f9f45"/>
<circle cx="104.60" cy="398.54" r="1.25" fill="#3f9f45"/>
<circle cx="123.80" cy="392.03" r="1.25" fill="#3f9f45"/>
<circle cx="143.00" cy="397.33" r="1.25" fill="#3f9f45"/>
<polyline points="47.00,408.75 66.20,393.75 85.40,406.20 104.60,398.54 123.80,393.44 143.00,391.20" fill="none" stroke="#f0a23a" stroke-width="1.0" stroke-linejoin="round" />
<circle cx="47.00" cy="408.75" r="1.25" fill="#f0a23a"/>
<circle cx="66.20" cy="393.75" r="1.25" fill="#f0a23a"/>
<circle cx="85.40" cy="406.20" r="1.25" fill="#f0a23a"/>
<circle cx="104.60" cy="398.54" r="1.25" fill="#f0a23a"/>
<circle cx="123.80" cy="393.44" r="1.25" fill="#f0a23a"/>
<circle cx="143.00" cy="391.20" r="1.25" fill="#f0a23a"/>
<polyline points="47.00,410.02 66.20,381.31 85.40,407.03 104.60,398.80 123.80,394.07 143.00,390.31" fill="none" stroke="#c41e34" stroke-width="1.0" stroke-linejoin="round" />
<circle cx="47.00" cy="410.02" r="1.25" fill="#c41e34"/>
<circle cx="66.20" cy="381.31" r="1.25" fill="#c41e34"/>
<circle cx="85.40" cy="407.03" r="1.25" fill="#c41e34"/>
<circle cx="104.60" cy="398.80" r="1.25" fill="#c41e34"/>
<circle cx="123.80" cy="394.07" r="1.25" fill="#c41e34"/>
<circle cx="143.00" cy="390.31" r="1.25" fill="#c41e34"/>
<polyline points="47.00,402.05 66.20,390.25 85.40,375.76 104.60,366.00" fill="none" stroke="#58286e" stroke-width="1.0" stroke-linejoin="round" />
<circle cx="47.00" cy="402.05" r="1.25" fill="#58286e"/>
<circle cx="66.20" cy="390.25" r="1.25" fill="#58286e"/>
<circle cx="85.40" cy="375.76" r="1.25" fill="#58286e"/>
<circle cx="104.60" cy="366.00" r="1.25" fill="#58286e"/>
<polyline points="47.00,407.15 66.20,388.97 85.40,362.81 104.60,386.74 143.00,382.91" fill="none" stroke="#264a7c" stroke-width="1.0" stroke-linejoin="round" />
<circle cx="47.00" cy="407.15" r="1.25" fill="#264a7c"/>
<circle cx="66.20" cy="388.97" r="1.25" fill="#264a7c"/>
<circle cx="85.40" cy="362.81" r="1.25" fill="#264a7c"/>
<circle cx="104.60" cy="386.74" r="1.25" fill="#264a7c"/>
<circle cx="143.00" cy="382.91" r="1.25" fill="#264a7c"/>
<line x1="47.00" y1="346.00" x2="47.00" y2="411.90" stroke="#222" stroke-width="1.3" />
<line x1="46.40" y1="411.30" x2="144.60" y2="411.30" stroke="#222" stroke-width="1.3" />
<line x1="44.40" y1="411.30" x2="47.00" y2="411.30" stroke="#222" stroke-width="1.0" />
<text x="41.20" y="413.50" font-size="6.3" text-anchor="end" fill="#262626" textLength="3.20" lengthAdjust="spacingAndGlyphs" >0</text>
<line x1="44.40" y1="398.54" x2="47.00" y2="398.54" stroke="#222" stroke-width="1.0" />
<text x="41.20" y="400.74" font-size="6.3" text-anchor="end" fill="#262626" textLength="6.40" lengthAdjust="spacingAndGlyphs" >20</text>
<line x1="44.40" y1="385.78" x2="47.00" y2="385.78" stroke="#222" stroke-width="1.0" />
<text x="41.20" y="387.98" font-size="6.3" text-anchor="end" fill="#262626" textLength="6.40" lengthAdjust="spacingAndGlyphs" >40</text>
<line x1="44.40" y1="373.02" x2="47.00" y2="373.02" stroke="#222" stroke-width="1.0" />
<text x="41.20" y="375.22" font-size="6.3" text-anchor="end" fill="#262626" textLength="6.40" lengthAdjust="spacingAndGlyphs" >60</text>
<line x1="44.40" y1="360.26" x2="47.00" y2="360.26" stroke="#222" stroke-width="1.0" />
<text x="41.20" y="362.46" font-size="6.3" text-anchor="end" fill="#262626" textLength="6.40" lengthAdjust="spacingAndGlyphs" >80</text>
<line x1="44.40" y1="347.50" x2="47.00" y2="347.50" stroke="#222" stroke-width="1.0" />
<text x="41.20" y="349.70" font-size="6.3" text-anchor="end" fill="#262626" textLength="9.60" lengthAdjust="spacingAndGlyphs" >100</text>
<line x1="47.00" y1="411.30" x2="47.00" y2="413.70" stroke="#222" stroke-width="1.0" />
<text x="47.00" y="422.90" font-size="6.5" text-anchor="middle" fill="#262626" textLength="3.60" lengthAdjust="spacingAndGlyphs" >0</text>
<line x1="66.20" y1="411.30" x2="66.20" y2="413.70" stroke="#222" stroke-width="1.0" />
<text x="66.20" y="422.90" font-size="6.5" text-anchor="middle" fill="#262626" textLength="7.00" lengthAdjust="spacingAndGlyphs" >12</text>
<line x1="85.40" y1="411.30" x2="85.40" y2="413.70" stroke="#222" stroke-width="1.0" />
<text x="85.40" y="422.90" font-size="6.5" text-anchor="middle" fill="#262626" textLength="7.00" lengthAdjust="spacingAndGlyphs" >24</text>
<line x1="104.60" y1="411.30" x2="104.60" y2="413.70" stroke="#222" stroke-width="1.0" />
<text x="104.60" y="422.90" font-size="6.5" text-anchor="middle" fill="#262626" textLength="7.00" lengthAdjust="spacingAndGlyphs" >36</text>
<line x1="123.80" y1="411.30" x2="123.80" y2="413.70" stroke="#222" stroke-width="1.0" />
<text x="123.80" y="422.90" font-size="6.5" text-anchor="middle" fill="#262626" textLength="7.00" lengthAdjust="spacingAndGlyphs" >48</text>
<line x1="143.00" y1="411.30" x2="143.00" y2="413.70" stroke="#222" stroke-width="1.0" />
<text x="143.00" y="422.90" font-size="6.5" text-anchor="middle" fill="#262626" textLength="7.00" lengthAdjust="spacingAndGlyphs" >60</text>
<text x="96.60" y="434.90" font-size="8.8" text-anchor="middle" fill="#262626" textLength="45.60" lengthAdjust="spacingAndGlyphs" class="b" >Months post GT</text>
<text x="25.60" y="377.40" font-size="8.6" text-anchor="middle" fill="#262626" textLength="45.00" lengthAdjust="spacingAndGlyphs" transform="rotate(-90 25.60 377.40)" class="b" >% WASp+ cells</text>
<line x1="160.20" y1="359.20" x2="168.60" y2="359.20" stroke="#264a7c" stroke-width="1.2" />
<circle cx="164.40" cy="359.20" r="1.6" fill="#264a7c"/>
<text x="171.40" y="361.50" font-size="7.0" text-anchor="start" fill="#262626" textLength="10.60" lengthAdjust="spacingAndGlyphs" >Pt 1</text>
<line x1="160.20" y1="368.50" x2="168.60" y2="368.50" stroke="#c41e34" stroke-width="1.2" />
<circle cx="164.40" cy="368.50" r="1.6" fill="#c41e34"/>
<text x="171.40" y="370.80" font-size="7.0" text-anchor="start" fill="#262626" textLength="10.60" lengthAdjust="spacingAndGlyphs" >Pt 2</text>
<line x1="160.20" y1="377.80" x2="168.60" y2="377.80" stroke="#3f9f45" stroke-width="1.2" />
<circle cx="164.40" cy="377.80" r="1.6" fill="#3f9f45"/>
<text x="171.40" y="380.10" font-size="7.0" text-anchor="start" fill="#262626" textLength="10.60" lengthAdjust="spacingAndGlyphs" >Pt 3</text>
<line x1="160.20" y1="387.10" x2="168.60" y2="387.10" stroke="#f0a23a" stroke-width="1.2" />
<circle cx="164.40" cy="387.10" r="1.6" fill="#f0a23a"/>
<text x="171.40" y="389.40" font-size="7.0" text-anchor="start" fill="#262626" textLength="10.60" lengthAdjust="spacingAndGlyphs" >Pt 4</text>
<line x1="160.20" y1="396.40" x2="168.60" y2="396.40" stroke="#58286e" stroke-width="1.2" />
<circle cx="164.40" cy="396.40" r="1.6" fill="#58286e"/>
<text x="171.40" y="398.70" font-size="7.0" text-anchor="start" fill="#262626" textLength="10.60" lengthAdjust="spacingAndGlyphs" >Pt 5</text>
<text x="53.80" y="464.20" font-size="9.0" text-anchor="start" fill="#262626" textLength="84.00" lengthAdjust="spacingAndGlyphs" class="b" >NK cells (CD3–CD56+)</text>
<text x="96.10" y="474.30" font-size="9.0" text-anchor="middle" fill="#262626" textLength="65.80" lengthAdjust="spacingAndGlyphs" class="b" >WASp expression</text>
<line x1="47.00" y1="482.00" x2="143.2" y2="482.00" stroke="#333" stroke-width="1.25" stroke-dasharray="1.0 1.1"/>
<polyline points="47.00,524.54 66.20,518.20 85.40,528.36 123.80,525.18 143.00,527.28" fill="none" stroke="#3f9f45" stroke-width="1.0" stroke-linejoin="round" />
<circle cx="47.00" cy="524.54" r="1.25" fill="#3f9f45"/>
<circle cx="66.20" cy="518.20" r="1.25" fill="#3f9f45"/>
<circle cx="85.40" cy="528.36" r="1.25" fill="#3f9f45"/>
<circle cx="123.80" cy="525.18" r="1.25" fill="#3f9f45"/>
<circle cx="143.00" cy="527.28" r="1.25" fill="#3f9f45"/>
<polyline points="47.00,532.99 66.20,533.75 85.40,535.53 123.80,524.54 143.00,517.56" fill="none" stroke="#f0a23a" stroke-width="1.0" stroke-linejoin="round" />
<circle cx="47.00" cy="532.99" r="1.25" fill="#f0a23a"/>
<circle cx="66.20" cy="533.75" r="1.25" fill="#f0a23a"/>
<circle cx="85.40" cy="535.53" r="1.25" fill="#f0a23a"/>
<circle cx="123.80" cy="524.54" r="1.25" fill="#f0a23a"/>
<circle cx="143.00" cy="517.56" r="1.25" fill="#f0a23a"/>
<polyline points="47.00,500.03 66.20,484.98 85.40,515.53 104.60,510.00 143.00,494.51" fill="none" stroke="#a81c3c" stroke-width="1.0" stroke-linejoin="round" />
<circle cx="47.00" cy="500.03" r="1.25" fill="#a81c3c"/>
<circle cx="66.20" cy="484.98" r="1.25" fill="#a81c3c"/>
<circle cx="85.40" cy="515.53" r="1.25" fill="#a81c3c"/>
<circle cx="104.60" cy="510.00" r="1.25" fill="#a81c3c"/>
<circle cx="143.00" cy="494.51" r="1.25" fill="#a81c3c"/>
<polyline points="47.00,542.52 85.40,500.48 104.60,499.53" fill="none" stroke="#3a2452" stroke-width="1.0" stroke-linejoin="round" />
<circle cx="47.00" cy="542.52" r="1.25" fill="#3a2452"/>
<circle cx="85.40" cy="500.48" r="1.25" fill="#3a2452"/>
<circle cx="104.60" cy="499.53" r="1.25" fill="#3a2452"/>
<polyline points="47.00,538.77 66.20,504.99 85.40,490.76 104.60,510.00 143.00,522.39" fill="none" stroke="#264a7c" stroke-width="1.0" stroke-linejoin="round" />
<circle cx="47.00" cy="538.77" r="1.25" fill="#264a7c"/>
<circle cx="66.20" cy="504.99" r="1.25" fill="#264a7c"/>
<circle cx="85.40" cy="490.76" r="1.25" fill="#264a7c"/>
<circle cx="104.60" cy="510.00" r="1.25" fill="#264a7c"/>
<circle cx="143.00" cy="522.39" r="1.25" fill="#264a7c"/>
<line x1="47.00" y1="480.50" x2="47.00" y2="546.10" stroke="#222" stroke-width="1.3" />
<line x1="46.40" y1="545.50" x2="144.60" y2="545.50" stroke="#222" stroke-width="1.3" />
<line x1="44.40" y1="545.50" x2="47.00" y2="545.50" stroke="#222" stroke-width="1.0" />
<text x="41.20" y="547.70" font-size="6.3" text-anchor="end" fill="#262626" textLength="3.20" lengthAdjust="spacingAndGlyphs" >0</text>
<line x1="44.40" y1="532.80" x2="47.00" y2="532.80" stroke="#222" stroke-width="1.0" />
<text x="41.20" y="535.00" font-size="6.3" text-anchor="end" fill="#262626" textLength="6.40" lengthAdjust="spacingAndGlyphs" >20</text>
<line x1="44.40" y1="520.10" x2="47.00" y2="520.10" stroke="#222" stroke-width="1.0" />
<text x="41.20" y="522.30" font-size="6.3" text-anchor="end" fill="#262626" textLength="6.40" lengthAdjust="spacingAndGlyphs" >40</text>
<line x1="44.40" y1="507.40" x2="47.00" y2="507.40" stroke="#222" stroke-width="1.0" />
<text x="41.20" y="509.60" font-size="6.3" text-anchor="end" fill="#262626" textLength="6.40" lengthAdjust="spacingAndGlyphs" >60</text>
<line x1="44.40" y1="494.70" x2="47.00" y2="494.70" stroke="#222" stroke-width="1.0" />
<text x="41.20" y="496.90" font-size="6.3" text-anchor="end" fill="#262626" textLength="6.40" lengthAdjust="spacingAndGlyphs" >80</text>
<line x1="44.40" y1="482.00" x2="47.00" y2="482.00" stroke="#222" stroke-width="1.0" />
<text x="41.20" y="484.20" font-size="6.3" text-anchor="end" fill="#262626" textLength="9.60" lengthAdjust="spacingAndGlyphs" >100</text>
<line x1="47.00" y1="545.50" x2="47.00" y2="547.90" stroke="#222" stroke-width="1.0" />
<text x="47.00" y="557.10" font-size="6.5" text-anchor="middle" fill="#262626" textLength="3.60" lengthAdjust="spacingAndGlyphs" >0</text>
<line x1="66.20" y1="545.50" x2="66.20" y2="547.90" stroke="#222" stroke-width="1.0" />
<text x="66.20" y="557.10" font-size="6.5" text-anchor="middle" fill="#262626" textLength="7.00" lengthAdjust="spacingAndGlyphs" >12</text>
<line x1="85.40" y1="545.50" x2="85.40" y2="547.90" stroke="#222" stroke-width="1.0" />
<text x="85.40" y="557.10" font-size="6.5" text-anchor="middle" fill="#262626" textLength="7.00" lengthAdjust="spacingAndGlyphs" >24</text>
<line x1="104.60" y1="545.50" x2="104.60" y2="547.90" stroke="#222" stroke-width="1.0" />
<text x="104.60" y="557.10" font-size="6.5" text-anchor="middle" fill="#262626" textLength="7.00" lengthAdjust="spacingAndGlyphs" >36</text>
<line x1="123.80" y1="545.50" x2="123.80" y2="547.90" stroke="#222" stroke-width="1.0" />
<text x="123.80" y="557.10" font-size="6.5" text-anchor="middle" fill="#262626" textLength="7.00" lengthAdjust="spacingAndGlyphs" >48</text>
<line x1="143.00" y1="545.50" x2="143.00" y2="547.90" stroke="#222" stroke-width="1.0" />
<text x="143.00" y="557.10" font-size="6.5" text-anchor="middle" fill="#262626" textLength="7.00" lengthAdjust="spacingAndGlyphs" >60</text>
<text x="96.60" y="569.10" font-size="8.8" text-anchor="middle" fill="#262626" textLength="45.60" lengthAdjust="spacingAndGlyphs" class="b" >Months post GT</text>
<text x="25.60" y="511.75" font-size="8.6" text-anchor="middle" fill="#262626" textLength="45.00" lengthAdjust="spacingAndGlyphs" transform="rotate(-90 25.60 511.75)" class="b" >% WASp+ cells</text>
<line x1="160.20" y1="482.20" x2="168.60" y2="482.20" stroke="#264a7c" stroke-width="1.2" />
<circle cx="164.40" cy="482.20" r="1.6" fill="#264a7c"/>
<text x="171.40" y="484.50" font-size="7.0" text-anchor="start" fill="#262626" textLength="10.60" lengthAdjust="spacingAndGlyphs" >Pt 1</text>
<line x1="160.20" y1="491.50" x2="168.60" y2="491.50" stroke="#a81c3c" stroke-width="1.2" />
<circle cx="164.40" cy="491.50" r="1.6" fill="#a81c3c"/>
<text x="171.40" y="493.80" font-size="7.0" text-anchor="start" fill="#262626" textLength="12.40" lengthAdjust="spacingAndGlyphs" >Pt 2*</text>
<line x1="160.20" y1="500.80" x2="168.60" y2="500.80" stroke="#3f9f45" stroke-width="1.2" />
<circle cx="164.40" cy="500.80" r="1.6" fill="#3f9f45"/>
<text x="171.40" y="503.10" font-size="7.0" text-anchor="start" fill="#262626" textLength="10.60" lengthAdjust="spacingAndGlyphs" >Pt 3</text>
<line x1="160.20" y1="510.10" x2="168.60" y2="510.10" stroke="#f0a23a" stroke-width="1.2" />
<circle cx="164.40" cy="510.10" r="1.6" fill="#f0a23a"/>
<text x="171.40" y="512.40" font-size="7.0" text-anchor="start" fill="#262626" textLength="10.60" lengthAdjust="spacingAndGlyphs" >Pt 4</text>
<line x1="160.20" y1="519.40" x2="168.60" y2="519.40" stroke="#3a2452" stroke-width="1.2" />
<circle cx="164.40" cy="519.40" r="1.6" fill="#3a2452"/>
<text x="171.40" y="521.70" font-size="7.0" text-anchor="start" fill="#262626" textLength="10.60" lengthAdjust="spacingAndGlyphs" >Pt 5</text>
<text x="172.40" y="536.80" font-size="6.9" text-anchor="middle" fill="#262626" textLength="29.60" lengthAdjust="spacingAndGlyphs" >* Revertant</text>
<text x="172.00" y="543.60" font-size="6.9" text-anchor="middle" fill="#262626" textLength="38.40" lengthAdjust="spacingAndGlyphs" >NK cells at BSL</text>
<text x="262.20" y="205.60" font-size="8.3" text-anchor="start" fill="#262626" textLength="11.60" lengthAdjust="spacingAndGlyphs" class="b" >HC</text>
<clipPath id="clip00"><rect x="235.90" y="210.60" width="63.90" height="62.70"/></clipPath>
<g clip-path="url(#clip00)">
<polyline points="236.70,272.71 237.27,272.63 237.83,272.54 238.40,272.44 238.97,272.32 239.53,272.20 240.10,272.07 240.66,271.92 241.23,271.75 241.80,271.56 242.36,271.35 242.93,271.12 243.50,270.85 244.06,270.56 244.63,270.22 245.20,269.83 245.76,269.39 246.33,268.88 246.89,268.29 247.46,267.61 248.03,266.82 248.59,265.90 249.16,264.81 249.73,263.53 250.29,262.01 250.86,260.20 251.43,258.06 251.99,255.50 252.56,252.45 253.12,248.83 253.69,244.56 254.26,239.62 254.82,234.03 255.39,227.99 255.96,221.96 256.52,216.83 257.09,214.13 257.66,215.50 258.22,221.97 258.79,228.98 259.35,230.75 259.92,234.67 260.49,241.18 261.05,247.82 261.62,253.87 262.19,259.08 262.75,263.34 263.32,266.68 263.89,269.17 264.45,270.96 265.02,272.18 265.58,272.99 266.15,273.50 266.72,273.81 267.28,273.99 267.85,274.09 268.42,274.14 268.98,274.17 269.55,274.19 270.12,274.19 270.68,274.20 271.25,274.20 271.81,274.20 272.38,274.20 272.95,274.20 273.51,274.20 274.08,274.20 274.65,274.20 275.21,274.20 275.78,274.20 276.35,274.20 276.91,274.20 277.48,274.20 278.04,274.20 278.61,274.20 279.18,274.20 279.74,274.20 280.31,274.20 280.88,274.20 281.44,274.20 282.01,274.20 282.58,274.20 283.14,274.20 283.71,274.20 284.27,274.20 284.84,274.20 285.41,274.20 285.97,274.20 286.54,274.20 287.11,274.20 287.67,274.20 288.24,274.20 288.81,274.20 289.37,274.20 289.94,274.20 290.50,274.20 291.07,274.20 291.64,274.20 292.20,274.20 292.77,274.20 293.34,274.20 293.90,274.20 294.47,274.20 295.04,274.20 295.60,274.20 296.17,274.20 296.73,274.20 297.30,274.20 297.87,274.20 298.43,274.20 299.00,274.20" fill="none" stroke="#cf2f7e" stroke-width="1.1" stroke-linejoin="round" />
<polyline points="236.70,274.20 237.27,274.20 237.83,274.20 238.40,274.20 238.97,274.20 239.53,274.20 240.10,274.20 240.66,274.20 241.23,274.20 241.80,274.20 242.36,274.20 242.93,274.20 243.50,274.20 244.06,274.20 244.63,274.20 245.20,274.20 245.76,274.20 246.33,274.20 246.89,274.20 247.46,274.20 248.03,274.20 248.59,274.20 249.16,274.20 249.73,274.20 250.29,274.20 250.86,274.20 251.43,274.20 251.99,274.20 252.56,274.20 253.12,274.20 253.69,274.20 254.26,274.20 254.82,274.20 255.39,274.20 255.96,274.20 256.52,274.20 257.09,274.20 257.66,274.20 258.22,274.20 258.79,274.20 259.35,274.20 259.92,274.20 260.49,274.20 261.05,274.20 261.62,274.20 262.19,274.19 262.75,274.18 263.32,274.14 263.89,274.03 264.45,273.75 265.02,273.11 265.58,271.77 266.15,269.26 266.72,265.00 267.28,258.52 267.85,249.74 268.42,239.29 268.98,228.62 269.55,219.74 270.12,214.67 270.68,214.40 271.25,217.41 271.81,222.64 272.38,229.18 272.95,236.21 273.51,243.07 274.08,249.32 274.65,254.75 275.21,259.28 275.78,262.94 276.35,265.81 276.91,268.03 277.48,269.70 278.04,270.95 278.61,271.86 279.18,272.53 279.74,273.01 280.31,273.36 280.88,273.61 281.44,273.78 282.01,273.90 282.58,273.99 283.14,274.05 283.71,274.10 284.27,274.13 284.84,274.15 285.41,274.16 285.97,274.17 286.54,274.18 287.11,274.19 287.67,274.19 288.24,274.19 288.81,274.20 289.37,274.20 289.94,274.20 290.50,274.20 291.07,274.20 291.64,274.20 292.20,274.20 292.77,274.20 293.34,274.20 293.90,274.20 294.47,274.20 295.04,274.20 295.60,274.20 296.17,274.20 296.73,274.20 297.30,274.20 297.87,274.20 298.43,274.20 299.00,274.20" fill="none" stroke="#4fb0d6" stroke-width="1.1" stroke-linejoin="round" style="mix-blend-mode:multiply"/>
</g>
<rect x="235.90" y="210.60" width="63.90" height="63.60" fill="none" stroke="#111" stroke-width="1.3"/>
<line x1="232.90" y1="274.20" x2="235.90" y2="274.20" stroke="#222" stroke-width="1.0" />
<text x="230.40" y="276.20" font-size="6.5" text-anchor="end" fill="#262626" textLength="3.50" lengthAdjust="spacingAndGlyphs" >0</text>
<line x1="234.50" y1="271.79" x2="235.90" y2="271.79" stroke="#333" stroke-width="0.8" />
<line x1="234.50" y1="269.38" x2="235.90" y2="269.38" stroke="#333" stroke-width="0.8" />
<line x1="234.50" y1="266.98" x2="235.90" y2="266.98" stroke="#333" stroke-width="0.8" />
<line x1="234.50" y1="264.57" x2="235.90" y2="264.57" stroke="#333" stroke-width="0.8" />
<line x1="232.90" y1="262.16" x2="235.90" y2="262.16" stroke="#222" stroke-width="1.0" />
<text x="230.40" y="264.16" font-size="6.5" text-anchor="end" fill="#262626" textLength="7.00" lengthAdjust="spacingAndGlyphs" >20</text>
<line x1="234.50" y1="259.75" x2="235.90" y2="259.75" stroke="#333" stroke-width="0.8" />
<line x1="234.50" y1="257.34" x2="235.90" y2="257.34" stroke="#333" stroke-width="0.8" />
<line x1="234.50" y1="254.94" x2="235.90" y2="254.94" stroke="#333" stroke-width="0.8" />
<line x1="234.50" y1="252.53" x2="235.90" y2="252.53" stroke="#333" stroke-width="0.8" />
<line x1="232.90" y1="250.12" x2="235.90" y2="250.12" stroke="#222" stroke-width="1.0" />
<text x="230.40" y="252.12" font-size="6.5" text-anchor="end" fill="#262626" textLength="7.00" lengthAdjust="spacingAndGlyphs" >40</text>
<line x1="234.50" y1="247.71" x2="235.90" y2="247.71" stroke="#333" stroke-width="0.8" />
<line x1="234.50" y1="245.30" x2="235.90" y2="245.30" stroke="#333" stroke-width="0.8" />
<line x1="234.50" y1="242.90" x2="235.90" y2="242.90" stroke="#333" stroke-width="0.8" />
<line x1="234.50" y1="240.49" x2="235.90" y2="240.49" stroke="#333" stroke-width="0.8" />
<line x1="232.90" y1="238.08" x2="235.90" y2="238.08" stroke="#222" stroke-width="1.0" />
<text x="230.40" y="240.08" font-size="6.5" text-anchor="end" fill="#262626" textLength="7.00" lengthAdjust="spacingAndGlyphs" >60</text>
<line x1="234.50" y1="235.67" x2="235.90" y2="235.67" stroke="#333" stroke-width="0.8" />
<line x1="234.50" y1="233.26" x2="235.90" y2="233.26" stroke="#333" stroke-width="0.8" />
<line x1="234.50" y1="230.86" x2="235.90" y2="230.86" stroke="#333" stroke-width="0.8" />
<line x1="234.50" y1="228.45" x2="235.90" y2="228.45" stroke="#333" stroke-width="0.8" />
<line x1="232.90" y1="226.04" x2="235.90" y2="226.04" stroke="#222" stroke-width="1.0" />
<text x="230.40" y="228.04" font-size="6.5" text-anchor="end" fill="#262626" textLength="7.00" lengthAdjust="spacingAndGlyphs" >80</text>
<line x1="234.50" y1="223.63" x2="235.90" y2="223.63" stroke="#333" stroke-width="0.8" />
<line x1="234.50" y1="221.22" x2="235.90" y2="221.22" stroke="#333" stroke-width="0.8" />
<line x1="234.50" y1="218.82" x2="235.90" y2="218.82" stroke="#333" stroke-width="0.8" />
<line x1="234.50" y1="216.41" x2="235.90" y2="216.41" stroke="#333" stroke-width="0.8" />
<line x1="232.90" y1="214.00" x2="235.90" y2="214.00" stroke="#222" stroke-width="1.0" />
<text x="230.40" y="216.00" font-size="6.5" text-anchor="end" fill="#262626" textLength="10.50" lengthAdjust="spacingAndGlyphs" >100</text>
<line x1="242.40" y1="274.20" x2="242.40" y2="276.60" stroke="#222" stroke-width="0.9" />
<line x1="249.70" y1="274.20" x2="249.70" y2="276.80" stroke="#222" stroke-width="0.9" />
<line x1="254.22" y1="274.20" x2="254.22" y2="275.60" stroke="#333" stroke-width="0.7" />
<line x1="256.86" y1="274.20" x2="256.86" y2="275.60" stroke="#333" stroke-width="0.7" />
<line x1="258.73" y1="274.20" x2="258.73" y2="275.60" stroke="#333" stroke-width="0.7" />
<line x1="260.18" y1="274.20" x2="260.18" y2="275.60" stroke="#333" stroke-width="0.7" />
<line x1="261.37" y1="274.20" x2="261.37" y2="275.60" stroke="#333" stroke-width="0.7" />
<line x1="262.38" y1="274.20" x2="262.38" y2="275.60" stroke="#333" stroke-width="0.7" />
<line x1="263.25" y1="274.20" x2="263.25" y2="275.60" stroke="#333" stroke-width="0.7" />
<line x1="264.01" y1="274.20" x2="264.01" y2="275.60" stroke="#333" stroke-width="0.7" />
<line x1="264.80" y1="274.20" x2="264.80" y2="276.80" stroke="#222" stroke-width="0.9" />
<line x1="269.32" y1="274.20" x2="269.32" y2="275.60" stroke="#333" stroke-width="0.7" />
<line x1="271.96" y1="274.20" x2="271.96" y2="275.60" stroke="#333" stroke-width="0.7" />
<line x1="273.83" y1="274.20" x2="273.83" y2="275.60" stroke="#333" stroke-width="0.7" />
<line x1="275.28" y1="274.20" x2="275.28" y2="275.60" stroke="#333" stroke-width="0.7" />
<line x1="276.47" y1="274.20" x2="276.47" y2="275.60" stroke="#333" stroke-width="0.7" />
<line x1="277.48" y1="274.20" x2="277.48" y2="275.60" stroke="#333" stroke-width="0.7" />
<line x1="278.35" y1="274.20" x2="278.35" y2="275.60" stroke="#333" stroke-width="0.7" />
<line x1="279.11" y1="274.20" x2="279.11" y2="275.60" stroke="#333" stroke-width="0.7" />
<line x1="279.70" y1="274.20" x2="279.70" y2="276.80" stroke="#222" stroke-width="0.9" />
<line x1="284.22" y1="274.20" x2="284.22" y2="275.60" stroke="#333" stroke-width="0.7" />
<line x1="286.86" y1="274.20" x2="286.86" y2="275.60" stroke="#333" stroke-width="0.7" />
<line x1="288.73" y1="274.20" x2="288.73" y2="275.60" stroke="#333" stroke-width="0.7" />
<line x1="290.18" y1="274.20" x2="290.18" y2="275.60" stroke="#333" stroke-width="0.7" />
<line x1="291.37" y1="274.20" x2="291.37" y2="275.60" stroke="#333" stroke-width="0.7" />
<line x1="292.38" y1="274.20" x2="292.38" y2="275.60" stroke="#333" stroke-width="0.7" />
<line x1="293.25" y1="274.20" x2="293.25" y2="275.60" stroke="#333" stroke-width="0.7" />
<line x1="294.01" y1="274.20" x2="294.01" y2="275.60" stroke="#333" stroke-width="0.7" />
<line x1="294.30" y1="274.20" x2="294.30" y2="276.80" stroke="#222" stroke-width="0.9" />
<line x1="244.60" y1="274.20" x2="244.60" y2="275.60" stroke="#333" stroke-width="0.7" />
<line x1="245.88" y1="274.20" x2="245.88" y2="275.60" stroke="#333" stroke-width="0.7" />
<line x1="246.80" y1="274.20" x2="246.80" y2="275.60" stroke="#333" stroke-width="0.7" />
<line x1="247.50" y1="274.20" x2="247.50" y2="275.60" stroke="#333" stroke-width="0.7" />
<line x1="248.08" y1="274.20" x2="248.08" y2="275.60" stroke="#333" stroke-width="0.7" />
<line x1="248.57" y1="274.20" x2="248.57" y2="275.60" stroke="#333" stroke-width="0.7" />
<line x1="248.99" y1="274.20" x2="248.99" y2="275.60" stroke="#333" stroke-width="0.7" />
<line x1="249.37" y1="274.20" x2="249.37" y2="275.60" stroke="#333" stroke-width="0.7" />
<text transform="translate(241.30 285.60) rotate(-45)" font-size="6.0" text-anchor="end" fill="#262626" x="2.6" y="2">0</text>
<text transform="translate(250.40 283.80) rotate(-45)" font-size="6.0" text-anchor="end" fill="#262626" x="2.8" y="2">10<tspan font-size="4.0" dy="-2.6">2</tspan></text>
<text transform="translate(265.50 283.80) rotate(-45)" font-size="6.0" text-anchor="end" fill="#262626" x="2.8" y="2">10<tspan font-size="4.0" dy="-2.6">3</tspan></text>
<text transform="translate(280.40 283.80) rotate(-45)" font-size="6.0" text-anchor="end" fill="#262626" x="2.8" y="2">10<tspan font-size="4.0" dy="-2.6">4</tspan></text>
<text transform="translate(295.00 283.80) rotate(-45)" font-size="6.0" text-anchor="end" fill="#262626" x="2.8" y="2">10<tspan font-size="4.0" dy="-2.6">5</tspan></text>
<line x1="263.60" y1="218.30" x2="295.60" y2="218.30" stroke="#333" stroke-width="1.0" />
<line x1="263.60" y1="216.90" x2="263.60" y2="219.70" stroke="#333" stroke-width="1.0" />
<line x1="295.60" y1="216.90" x2="295.60" y2="219.70" stroke="#333" stroke-width="1.0" />
<text x="279.80" y="216.40" font-size="6.3" text-anchor="middle" fill="#262626" textLength="12.60" lengthAdjust="spacingAndGlyphs" >99.8</text>
<text x="339.00" y="205.60" font-size="8.3" text-anchor="start" fill="#262626" textLength="49.30" lengthAdjust="spacingAndGlyphs" class="b" >WAS PRE GT</text>
<clipPath id="clip01"><rect x="331.30" y="210.60" width="63.50" height="62.70"/></clipPath>
<g clip-path="url(#clip01)">
<polyline points="332.10,273.73 332.66,273.65 333.23,273.57 333.79,273.47 334.35,273.35 334.91,273.20 335.48,273.03 336.04,272.82 336.60,272.58 337.16,272.28 337.73,271.91 338.29,271.47 338.85,270.93 339.42,270.28 339.98,269.48 340.54,268.51 341.10,267.32 341.67,265.87 342.23,264.10 342.79,261.95 343.35,259.35 343.92,256.23 344.48,252.53 345.04,248.21 345.61,243.26 346.17,237.74 346.73,231.83 347.29,225.87 347.86,220.40 348.42,216.15 348.98,214.07 349.54,215.22 350.11,219.99 350.67,227.53 351.23,236.57 351.80,245.78 352.36,254.09 352.92,260.88 353.48,265.93 354.05,269.39 354.61,271.58 355.17,272.86 355.73,273.56 356.30,273.91 356.86,274.08 357.42,274.15 357.99,274.18 358.55,274.19 359.11,274.20 359.67,274.20 360.24,274.20 360.80,274.20 361.36,274.20 361.92,274.20 362.49,274.20 363.05,274.20 363.61,274.20 364.18,274.20 364.74,274.20 365.30,274.20 365.86,274.20 366.43,274.20 366.99,274.20 367.55,274.20 368.11,274.20 368.68,274.20 369.24,274.20 369.80,274.20 370.37,274.20 370.93,274.20 371.49,274.20 372.05,274.20 372.62,274.20 373.18,274.20 373.74,274.20 374.30,274.20 374.87,274.20 375.43,274.20 375.99,274.20 376.56,274.20 377.12,274.20 377.68,274.20 378.24,274.20 378.81,274.20 379.37,274.20 379.93,274.20 380.49,274.20 381.06,274.20 381.62,274.20 382.18,274.20 382.75,274.20 383.31,274.20 383.87,274.20 384.43,274.20 385.00,274.20 385.56,274.20 386.12,274.20 386.68,274.20 387.25,274.20 387.81,274.20 388.37,274.20 388.94,274.20 389.50,274.20 390.06,274.20 390.62,274.20 391.19,274.20 391.75,274.20 392.31,274.20 392.87,274.20 393.44,274.20 394.00,274.20" fill="none" stroke="#cf2f7e" stroke-width="1.1" stroke-linejoin="round" />
<polyline points="332.10,273.84 332.66,273.79 333.23,273.73 333.79,273.65 334.35,273.56 334.91,273.45 335.48,273.32 336.04,273.16 336.60,272.97 337.16,272.75 337.73,272.47 338.29,272.13 338.85,271.72 339.42,271.21 339.98,270.59 340.54,269.82 341.10,268.88 341.67,267.72 342.23,266.29 342.79,264.53 343.35,262.38 343.92,259.75 344.48,256.56 345.04,252.75 345.61,248.26 346.17,243.09 346.73,237.30 347.29,231.12 347.86,224.93 348.42,219.39 348.98,215.39 349.54,214.01 350.11,216.25 350.67,221.94 351.23,230.05 351.80,239.27 352.36,248.31 352.92,256.23 353.48,262.52 354.05,267.08 354.61,270.14 355.17,272.03 355.73,273.11 356.30,273.69 356.86,273.98 357.42,274.11 357.99,274.16 358.55,274.19 359.11,274.20 359.67,274.20 360.24,274.20 360.80,274.20 361.36,274.20 361.92,274.20 362.49,274.20 363.05,274.20 363.61,274.20 364.18,274.20 364.74,274.20 365.30,274.20 365.86,274.20 366.43,274.20 366.99,274.20 367.55,274.20 368.11,274.20 368.68,274.20 369.24,274.20 369.80,274.20 370.37,274.20 370.93,274.20 371.49,274.20 372.05,274.20 372.62,274.20 373.18,274.20 373.74,274.20 374.30,274.20 374.87,274.20 375.43,274.20 375.99,274.20 376.56,274.20 377.12,274.20 377.68,274.20 378.24,274.20 378.81,274.20 379.37,274.20 379.93,274.20 380.49,274.20 381.06,274.20 381.62,274.20 382.18,274.20 382.75,274.20 383.31,274.20 383.87,274.20 384.43,274.20 385.00,274.20 385.56,274.20 386.12,274.20 386.68,274.20 387.25,274.20 387.81,274.20 388.37,274.20 388.94,274.20 389.50,274.20 390.06,274.20 390.62,274.20 391.19,274.20 391.75,274.20 392.31,274.20 392.87,274.20 393.44,274.20 394.00,274.20" fill="none" stroke="#4fb0d6" stroke-width="1.1" stroke-linejoin="round" style="mix-blend-mode:multiply"/>
</g>
<rect x="331.30" y="210.60" width="63.50" height="63.60" fill="none" stroke="#111" stroke-width="1.3"/>
<line x1="328.30" y1="274.20" x2="331.30" y2="274.20" stroke="#222" stroke-width="1.0" />
<text x="325.80" y="276.20" font-size="6.5" text-anchor="end" fill="#262626" textLength="3.50" lengthAdjust="spacingAndGlyphs" >0</text>
<line x1="329.90" y1="271.79" x2="331.30" y2="271.79" stroke="#333" stroke-width="0.8" />
<line x1="329.90" y1="269.38" x2="331.30" y2="269.38" stroke="#333" stroke-width="0.8" />
<line x1="329.90" y1="266.98" x2="331.30" y2="266.98" stroke="#333" stroke-width="0.8" />
<line x1="329.90" y1="264.57" x2="331.30" y2="264.57" stroke="#333" stroke-width="0.8" />
<line x1="328.30" y1="262.16" x2="331.30" y2="262.16" stroke="#222" stroke-width="1.0" />
<text x="325.80" y="264.16" font-size="6.5" text-anchor="end" fill="#262626" textLength="7.00" lengthAdjust="spacingAndGlyphs" >20</text>
<line x1="329.90" y1="259.75" x2="331.30" y2="259.75" stroke="#333" stroke-width="0.8" />
<line x1="329.90" y1="257.34" x2="331.30" y2="257.34" stroke="#333" stroke-width="0.8" />
<line x1="329.90" y1="254.94" x2="331.30" y2="254.94" stroke="#333" stroke-width="0.8" />
<line x1="329.90" y1="252.53" x2="331.30" y2="252.53" stroke="#333" stroke-width="0.8" />
<line x1="328.30" y1="250.12" x2="331.30" y2="250.12" stroke="#222" stroke-width="1.0" />
<text x="325.80" y="252.12" font-size="6.5" text-anchor="end" fill="#262626" textLength="7.00" lengthAdjust="spacingAndGlyphs" >40</text>
<line x1="329.90" y1="247.71" x2="331.30" y2="247.71" stroke="#333" stroke-width="0.8" />
<line x1="329.90" y1="245.30" x2="331.30" y2="245.30" stroke="#333" stroke-width="0.8" />
<line x1="329.90" y1="242.90" x2="331.30" y2="242.90" stroke="#333" stroke-width="0.8" />
<line x1="329.90" y1="240.49" x2="331.30" y2="240.49" stroke="#333" stroke-width="0.8" />
<line x1="328.30" y1="238.08" x2="331.30" y2="238.08" stroke="#222" stroke-width="1.0" />
<text x="325.80" y="240.08" font-size="6.5" text-anchor="end" fill="#262626" textLength="7.00" lengthAdjust="spacingAndGlyphs" >60</text>
<line x1="329.90" y1="235.67" x2="331.30" y2="235.67" stroke="#333" stroke-width="0.8" />
<line x1="329.90" y1="233.26" x2="331.30" y2="233.26" stroke="#333" stroke-width="0.8" />
<line x1="329.90" y1="230.86" x2="331.30" y2="230.86" stroke="#333" stroke-width="0.8" />
<line x1="329.90" y1="228.45" x2="331.30" y2="228.45" stroke="#333" stroke-width="0.8" />
<line x1="328.30" y1="226.04" x2="331.30" y2="226.04" stroke="#222" stroke-width="1.0" />
<text x="325.80" y="228.04" font-size="6.5" text-anchor="end" fill="#262626" textLength="7.00" lengthAdjust="spacingAndGlyphs" >80</text>
<line x1="329.90" y1="223.63" x2="331.30" y2="223.63" stroke="#333" stroke-width="0.8" />
<line x1="329.90" y1="221.22" x2="331.30" y2="221.22" stroke="#333" stroke-width="0.8" />
<line x1="329.90" y1="218.82" x2="331.30" y2="218.82" stroke="#333" stroke-width="0.8" />
<line x1="329.90" y1="216.41" x2="331.30" y2="216.41" stroke="#333" stroke-width="0.8" />
<line x1="328.30" y1="214.00" x2="331.30" y2="214.00" stroke="#222" stroke-width="1.0" />
<text x="325.80" y="216.00" font-size="6.5" text-anchor="end" fill="#262626" textLength="10.50" lengthAdjust="spacingAndGlyphs" >100</text>
<line x1="337.80" y1="274.20" x2="337.80" y2="276.60" stroke="#222" stroke-width="0.9" />
<line x1="345.10" y1="274.20" x2="345.10" y2="276.80" stroke="#222" stroke-width="0.9" />
<line x1="349.62" y1="274.20" x2="349.62" y2="275.60" stroke="#333" stroke-width="0.7" />
<line x1="352.26" y1="274.20" x2="352.26" y2="275.60" stroke="#333" stroke-width="0.7" />
<line x1="354.13" y1="274.20" x2="354.13" y2="275.60" stroke="#333" stroke-width="0.7" />
<line x1="355.58" y1="274.20" x2="355.58" y2="275.60" stroke="#333" stroke-width="0.7" />
<line x1="356.77" y1="274.20" x2="356.77" y2="275.60" stroke="#333" stroke-width="0.7" />
<line x1="357.78" y1="274.20" x2="357.78" y2="275.60" stroke="#333" stroke-width="0.7" />
<line x1="358.65" y1="274.20" x2="358.65" y2="275.60" stroke="#333" stroke-width="0.7" />
<line x1="359.41" y1="274.20" x2="359.41" y2="275.60" stroke="#333" stroke-width="0.7" />
<line x1="360.20" y1="274.20" x2="360.20" y2="276.80" stroke="#222" stroke-width="0.9" />
<line x1="364.72" y1="274.20" x2="364.72" y2="275.60" stroke="#333" stroke-width="0.7" />
<line x1="367.36" y1="274.20" x2="367.36" y2="275.60" stroke="#333" stroke-width="0.7" />
<line x1="369.23" y1="274.20" x2="369.23" y2="275.60" stroke="#333" stroke-width="0.7" />
<line x1="370.68" y1="274.20" x2="370.68" y2="275.60" stroke="#333" stroke-width="0.7" />
<line x1="371.87" y1="274.20" x2="371.87" y2="275.60" stroke="#333" stroke-width="0.7" />
<line x1="372.88" y1="274.20" x2="372.88" y2="275.60" stroke="#333" stroke-width="0.7" />
<line x1="373.75" y1="274.20" x2="373.75" y2="275.60" stroke="#333" stroke-width="0.7" />
<line x1="374.51" y1="274.20" x2="374.51" y2="275.60" stroke="#333" stroke-width="0.7" />
<line x1="375.10" y1="274.20" x2="375.10" y2="276.80" stroke="#222" stroke-width="0.9" />
<line x1="379.62" y1="274.20" x2="379.62" y2="275.60" stroke="#333" stroke-width="0.7" />
<line x1="382.26" y1="274.20" x2="382.26" y2="275.60" stroke="#333" stroke-width="0.7" />
<line x1="384.13" y1="274.20" x2="384.13" y2="275.60" stroke="#333" stroke-width="0.7" />
<line x1="385.58" y1="274.20" x2="385.58" y2="275.60" stroke="#333" stroke-width="0.7" />
<line x1="386.77" y1="274.20" x2="386.77" y2="275.60" stroke="#333" stroke-width="0.7" />
<line x1="387.78" y1="274.20" x2="387.78" y2="275.60" stroke="#333" stroke-width="0.7" />
<line x1="388.65" y1="274.20" x2="388.65" y2="275.60" stroke="#333" stroke-width="0.7" />
<line x1="389.41" y1="274.20" x2="389.41" y2="275.60" stroke="#333" stroke-width="0.7" />
<line x1="389.70" y1="274.20" x2="389.70" y2="276.80" stroke="#222" stroke-width="0.9" />
<line x1="340.00" y1="274.20" x2="340.00" y2="275.60" stroke="#333" stroke-width="0.7" />
<line x1="341.28" y1="274.20" x2="341.28" y2="275.60" stroke="#333" stroke-width="0.7" />
<line x1="342.20" y1="274.20" x2="342.20" y2="275.60" stroke="#333" stroke-width="0.7" />
<line x1="342.90" y1="274.20" x2="342.90" y2="275.60" stroke="#333" stroke-width="0.7" />
<line x1="343.48" y1="274.20" x2="343.48" y2="275.60" stroke="#333" stroke-width="0.7" />
<line x1="343.97" y1="274.20" x2="343.97" y2="275.60" stroke="#333" stroke-width="0.7" />
<line x1="344.39" y1="274.20" x2="344.39" y2="275.60" stroke="#333" stroke-width="0.7" />
<line x1="344.77" y1="274.20" x2="344.77" y2="275.60" stroke="#333" stroke-width="0.7" />
<text transform="translate(336.70 285.60) rotate(-45)" font-size="6.0" text-anchor="end" fill="#262626" x="2.6" y="2">0</text>
<text transform="translate(345.80 283.80) rotate(-45)" font-size="6.0" text-anchor="end" fill="#262626" x="2.8" y="2">10<tspan font-size="4.0" dy="-2.6">2</tspan></text>
<text transform="translate(360.90 283.80) rotate(-45)" font-size="6.0" text-anchor="end" fill="#262626" x="2.8" y="2">10<tspan font-size="4.0" dy="-2.6">3</tspan></text>
<text transform="translate(375.80 283.80) rotate(-45)" font-size="6.0" text-anchor="end" fill="#262626" x="2.8" y="2">10<tspan font-size="4.0" dy="-2.6">4</tspan></text>
<text transform="translate(390.40 283.80) rotate(-45)" font-size="6.0" text-anchor="end" fill="#262626" x="2.8" y="2">10<tspan font-size="4.0" dy="-2.6">5</tspan></text>
<line x1="353.50" y1="218.00" x2="389.40" y2="218.00" stroke="#333" stroke-width="1.0" />
<line x1="353.50" y1="216.60" x2="353.50" y2="219.40" stroke="#333" stroke-width="1.0" />
<line x1="389.40" y1="216.60" x2="389.40" y2="219.40" stroke="#333" stroke-width="1.0" />
<text x="371.65" y="216.10" font-size="6.3" text-anchor="middle" fill="#262626" textLength="12.60" lengthAdjust="spacingAndGlyphs" >1.82</text>
<text x="423.30" y="205.60" font-size="8.3" text-anchor="start" fill="#262626" textLength="72.80" lengthAdjust="spacingAndGlyphs" class="b" >WAS POST GT (3Y)</text>
<clipPath id="clip02"><rect x="427.60" y="210.60" width="63.70" height="62.70"/></clipPath>
<g clip-path="url(#clip02)">
<polyline points="428.40,274.09 428.96,274.06 429.53,274.02 430.09,273.97 430.66,273.91 431.22,273.83 431.79,273.73 432.35,273.60 432.92,273.44 433.48,273.25 434.05,273.01 434.61,272.70 435.17,272.33 435.74,271.87 436.30,271.32 436.87,270.64 437.43,269.81 438.00,268.83 438.56,267.65 439.13,266.25 439.69,264.61 440.26,262.70 440.82,260.50 441.38,257.98 441.95,255.15 442.51,251.99 443.08,248.52 443.64,244.77 444.21,240.80 444.77,236.68 445.34,232.50 445.90,228.39 446.47,224.49 447.03,220.97 447.59,218.00 448.16,215.75 448.72,214.38 449.29,214.05 449.85,216.59 450.42,222.54 450.98,230.83 451.55,240.11 452.11,249.11 452.68,256.91 453.24,263.05 453.80,267.46 454.37,270.39 454.93,272.18 455.50,273.20 456.06,273.74 456.63,274.00 457.19,274.12 457.76,274.17 458.32,274.19 458.89,274.20 459.45,274.20 460.01,274.20 460.58,274.20 461.14,274.20 461.71,274.20 462.27,274.20 462.84,274.20 463.40,274.20 463.97,274.20 464.53,274.20 465.10,274.20 465.66,274.20 466.22,274.20 466.79,274.20 467.35,274.20 467.92,274.20 468.48,274.20 469.05,274.20 469.61,274.20 470.18,274.20 470.74,274.20 471.31,274.20 471.87,274.20 472.43,274.20 473.00,274.20 473.56,274.20 474.13,274.20 474.69,274.20 475.26,274.20 475.82,274.20 476.39,274.20 476.95,274.20 477.52,274.20 478.08,274.20 478.64,274.20 479.21,274.20 479.77,274.20 480.34,274.20 480.90,274.20 481.47,274.20 482.03,274.20 482.60,274.20 483.16,274.20 483.73,274.20 484.29,274.20 484.85,274.20 485.42,274.20 485.98,274.20 486.55,274.20 487.11,274.20 487.68,274.20 488.24,274.20 488.81,274.20 489.37,274.20 489.94,274.20 490.50,274.20" fill="none" stroke="#cf2f7e" stroke-width="1.1" stroke-linejoin="round" />
<polyline points="428.40,273.95 428.96,273.94 429.53,273.92 430.09,273.90 430.66,273.89 431.22,273.86 431.79,273.84 432.35,273.82 432.92,273.79 433.48,273.76 434.05,273.73 434.61,273.69 435.17,273.65 435.74,273.61 436.30,273.56 436.87,273.50 437.43,273.44 438.00,273.38 438.56,273.31 439.13,273.22 439.69,273.13 440.26,273.03 440.82,272.92 441.38,272.79 441.95,272.65 442.51,272.48 443.08,272.30 443.64,272.09 444.21,271.86 444.77,271.59 445.34,271.28 445.90,270.93 446.47,270.53 447.03,270.08 447.59,269.55 448.16,268.94 448.72,268.24 449.29,267.44 449.85,266.51 450.42,265.43 450.98,264.18 451.55,262.74 452.11,261.07 452.68,259.15 453.24,256.93 453.80,254.39 454.37,251.50 454.93,248.22 455.50,244.55 456.06,240.50 456.63,236.11 457.19,231.48 457.76,226.78 458.32,222.26 458.89,218.30 459.45,215.36 460.01,214.03 460.58,214.71 461.14,217.32 461.71,221.58 462.27,227.11 462.84,233.43 463.40,240.06 463.97,246.54 464.53,252.52 465.10,257.77 465.66,262.15 466.22,265.65 466.79,268.33 467.35,270.30 467.92,271.70 468.48,272.64 469.05,273.27 469.61,273.66 470.18,273.89 470.74,274.03 471.31,274.11 471.87,274.16 472.43,274.18 473.00,274.19 473.56,274.20 474.13,274.20 474.69,274.20 475.26,274.20 475.82,274.20 476.39,274.20 476.95,274.20 477.52,274.20 478.08,274.20 478.64,274.20 479.21,274.20 479.77,274.20 480.34,274.20 480.90,274.20 481.47,274.20 482.03,274.20 482.60,274.20 483.16,274.20 483.73,274.20 484.29,274.20 484.85,274.20 485.42,274.20 485.98,274.20 486.55,274.20 487.11,274.20 487.68,274.20 488.24,274.20 488.81,274.20 489.37,274.20 489.94,274.20 490.50,274.20" fill="none" stroke="#4fb0d6" stroke-width="1.1" stroke-linejoin="round" style="mix-blend-mode:multiply"/>
</g>
<rect x="427.60" y="210.60" width="63.70" height="63.60" fill="none" stroke="#111" stroke-width="1.3"/>
<line x1="424.60" y1="274.20" x2="427.60" y2="274.20" stroke="#222" stroke-width="1.0" />
<text x="422.10" y="276.20" font-size="6.5" text-anchor="end" fill="#262626" textLength="3.50" lengthAdjust="spacingAndGlyphs" >0</text>
<line x1="426.20" y1="271.79" x2="427.60" y2="271.79" stroke="#333" stroke-width="0.8" />
<line x1="426.20" y1="269.38" x2="427.60" y2="269.38" stroke="#333" stroke-width="0.8" />
<line x1="426.20" y1="266.98" x2="427.60" y2="266.98" stroke="#333" stroke-width="0.8" />
<line x1="426.20" y1="264.57" x2="427.60" y2="264.57" stroke="#333" stroke-width="0.8" />
<line x1="424.60" y1="262.16" x2="427.60" y2="262.16" stroke="#222" stroke-width="1.0" />
<text x="422.10" y="264.16" font-size="6.5" text-anchor="end" fill="#262626" textLength="7.00" lengthAdjust="spacingAndGlyphs" >20</text>
<line x1="426.20" y1="259.75" x2="427.60" y2="259.75" stroke="#333" stroke-width="0.8" />
<line x1="426.20" y1="257.34" x2="427.60" y2="257.34" stroke="#333" stroke-width="0.8" />
<line x1="426.20" y1="254.94" x2="427.60" y2="254.94" stroke="#333" stroke-width="0.8" />
<line x1="426.20" y1="252.53" x2="427.60" y2="252.53" stroke="#333" stroke-width="0.8" />
<line x1="424.60" y1="250.12" x2="427.60" y2="250.12" stroke="#222" stroke-width="1.0" />
<text x="422.10" y="252.12" font-size="6.5" text-anchor="end" fill="#262626" textLength="7.00" lengthAdjust="spacingAndGlyphs" >40</text>
<line x1="426.20" y1="247.71" x2="427.60" y2="247.71" stroke="#333" stroke-width="0.8" />
<line x1="426.20" y1="245.30" x2="427.60" y2="245.30" stroke="#333" stroke-width="0.8" />
<line x1="426.20" y1="242.90" x2="427.60" y2="242.90" stroke="#333" stroke-width="0.8" />
<line x1="426.20" y1="240.49" x2="427.60" y2="240.49" stroke="#333" stroke-width="0.8" />
<line x1="424.60" y1="238.08" x2="427.60" y2="238.08" stroke="#222" stroke-width="1.0" />
<text x="422.10" y="240.08" font-size="6.5" text-anchor="end" fill="#262626" textLength="7.00" lengthAdjust="spacingAndGlyphs" >60</text>
<line x1="426.20" y1="235.67" x2="427.60" y2="235.67" stroke="#333" stroke-width="0.8" />
<line x1="426.20" y1="233.26" x2="427.60" y2="233.26" stroke="#333" stroke-width="0.8" />
<line x1="426.20" y1="230.86" x2="427.60" y2="230.86" stroke="#333" stroke-width="0.8" />
<line x1="426.20" y1="228.45" x2="427.60" y2="228.45" stroke="#333" stroke-width="0.8" />
<line x1="424.60" y1="226.04" x2="427.60" y2="226.04" stroke="#222" stroke-width="1.0" />
<text x="422.10" y="228.04" font-size="6.5" text-anchor="end" fill="#262626" textLength="7.00" lengthAdjust="spacingAndGlyphs" >80</text>
<line x1="426.20" y1="223.63" x2="427.60" y2="223.63" stroke="#333" stroke-width="0.8" />
<line x1="426.20" y1="221.22" x2="427.60" y2="221.22" stroke="#333" stroke-width="0.8" />
<line x1="426.20" y1="218.82" x2="427.60" y2="218.82" stroke="#333" stroke-width="0.8" />
<line x1="426.20" y1="216.41" x2="427.60" y2="216.41" stroke="#333" stroke-width="0.8" />
<line x1="424.60" y1="214.00" x2="427.60" y2="214.00" stroke="#222" stroke-width="1.0" />
<text x="422.10" y="216.00" font-size="6.5" text-anchor="end" fill="#262626" textLength="10.50" lengthAdjust="spacingAndGlyphs" >100</text>
<line x1="434.10" y1="274.20" x2="434.10" y2="276.60" stroke="#222" stroke-width="0.9" />
<line x1="441.40" y1="274.20" x2="441.40" y2="276.80" stroke="#222" stroke-width="0.9" />
<line x1="445.92" y1="274.20" x2="445.92" y2="275.60" stroke="#333" stroke-width="0.7" />
<line x1="448.56" y1="274.20" x2="448.56" y2="275.60" stroke="#333" stroke-width="0.7" />
<line x1="450.43" y1="274.20" x2="450.43" y2="275.60" stroke="#333" stroke-width="0.7" />
<line x1="451.88" y1="274.20" x2="451.88" y2="275.60" stroke="#333" stroke-width="0.7" />
<line x1="453.07" y1="274.20" x2="453.07" y2="275.60" stroke="#333" stroke-width="0.7" />
<line x1="454.08" y1="274.20" x2="454.08" y2="275.60" stroke="#333" stroke-width="0.7" />
<line x1="454.95" y1="274.20" x2="454.95" y2="275.60" stroke="#333" stroke-width="0.7" />
<line x1="455.71" y1="274.20" x2="455.71" y2="275.60" stroke="#333" stroke-width="0.7" />
<line x1="456.50" y1="274.20" x2="456.50" y2="276.80" stroke="#222" stroke-width="0.9" />
<line x1="461.02" y1="274.20" x2="461.02" y2="275.60" stroke="#333" stroke-width="0.7" />
<line x1="463.66" y1="274.20" x2="463.66" y2="275.60" stroke="#333" stroke-width="0.7" />
<line x1="465.53" y1="274.20" x2="465.53" y2="275.60" stroke="#333" stroke-width="0.7" />
<line x1="466.98" y1="274.20" x2="466.98" y2="275.60" stroke="#333" stroke-width="0.7" />
<line x1="468.17" y1="274.20" x2="468.17" y2="275.60" stroke="#333" stroke-width="0.7" />
<line x1="469.18" y1="274.20" x2="469.18" y2="275.60" stroke="#333" stroke-width="0.7" />
<line x1="470.05" y1="274.20" x2="470.05" y2="275.60" stroke="#333" stroke-width="0.7" />
<line x1="470.81" y1="274.20" x2="470.81" y2="275.60" stroke="#333" stroke-width="0.7" />
<line x1="471.40" y1="274.20" x2="471.40" y2="276.80" stroke="#222" stroke-width="0.9" />
<line x1="475.92" y1="274.20" x2="475.92" y2="275.60" stroke="#333" stroke-width="0.7" />
<line x1="478.56" y1="274.20" x2="478.56" y2="275.60" stroke="#333" stroke-width="0.7" />
<line x1="480.43" y1="274.20" x2="480.43" y2="275.60" stroke="#333" stroke-width="0.7" />
<line x1="481.88" y1="274.20" x2="481.88" y2="275.60" stroke="#333" stroke-width="0.7" />
<line x1="483.07" y1="274.20" x2="483.07" y2="275.60" stroke="#333" stroke-width="0.7" />
<line x1="484.08" y1="274.20" x2="484.08" y2="275.60" stroke="#333" stroke-width="0.7" />
<line x1="484.95" y1="274.20" x2="484.95" y2="275.60" stroke="#333" stroke-width="0.7" />
<line x1="485.71" y1="274.20" x2="485.71" y2="275.60" stroke="#333" stroke-width="0.7" />
<line x1="486.00" y1="274.20" x2="486.00" y2="276.80" stroke="#222" stroke-width="0.9" />
<line x1="436.30" y1="274.20" x2="436.30" y2="275.60" stroke="#333" stroke-width="0.7" />
<line x1="437.58" y1="274.20" x2="437.58" y2="275.60" stroke="#333" stroke-width="0.7" />
<line x1="438.50" y1="274.20" x2="438.50" y2="275.60" stroke="#333" stroke-width="0.7" />
<line x1="439.20" y1="274.20" x2="439.20" y2="275.60" stroke="#333" stroke-width="0.7" />
<line x1="439.78" y1="274.20" x2="439.78" y2="275.60" stroke="#333" stroke-width="0.7" />
<line x1="440.27" y1="274.20" x2="440.27" y2="275.60" stroke="#333" stroke-width="0.7" />
<line x1="440.69" y1="274.20" x2="440.69" y2="275.60" stroke="#333" stroke-width="0.7" />
<line x1="441.07" y1="274.20" x2="441.07" y2="275.60" stroke="#333" stroke-width="0.7" />
<text transform="translate(433.00 285.60) rotate(-45)" font-size="6.0" text-anchor="end" fill="#262626" x="2.6" y="2">0</text>
<text transform="translate(442.10 283.80) rotate(-45)" font-size="6.0" text-anchor="end" fill="#262626" x="2.8" y="2">10<tspan font-size="4.0" dy="-2.6">2</tspan></text>
<text transform="translate(457.20 283.80) rotate(-45)" font-size="6.0" text-anchor="end" fill="#262626" x="2.8" y="2">10<tspan font-size="4.0" dy="-2.6">3</tspan></text>
<text transform="translate(472.10 283.80) rotate(-45)" font-size="6.0" text-anchor="end" fill="#262626" x="2.8" y="2">10<tspan font-size="4.0" dy="-2.6">4</tspan></text>
<text transform="translate(486.70 283.80) rotate(-45)" font-size="6.0" text-anchor="end" fill="#262626" x="2.8" y="2">10<tspan font-size="4.0" dy="-2.6">5</tspan></text>
<line x1="453.40" y1="218.00" x2="486.00" y2="218.00" stroke="#333" stroke-width="1.0" />
<line x1="453.40" y1="216.60" x2="453.40" y2="219.40" stroke="#333" stroke-width="1.0" />
<line x1="486.00" y1="216.60" x2="486.00" y2="219.40" stroke="#333" stroke-width="1.0" />
<text x="469.90" y="216.10" font-size="6.3" text-anchor="middle" fill="#262626" textLength="12.60" lengthAdjust="spacingAndGlyphs" >90.8</text>
<line x1="211.9" y1="277.90" x2="211.9" y2="252.10" stroke="#222" stroke-width="1.35"/>
<path d="M211.9 247.00 L214.6 253.80 L211.9 252.80 L209.2 253.80 Z" fill="#111"/>
<text x="214.00" y="233.50" font-size="8.4" text-anchor="middle" fill="#262626" textLength="19.20" lengthAdjust="spacingAndGlyphs" transform="rotate(-90 214.00 233.50)" class="b" >% Max</text>
<line x1="219.60" y1="302.70" x2="430.00" y2="302.70" stroke="#222" stroke-width="1.35" />
<path d="M434.6 302.70 L427.8 299.90 L428.9 302.70 L427.8 305.50 Z" fill="#111"/>
<text x="443.80" y="305.30" font-size="7.3" text-anchor="start" fill="#262626" textLength="17.60" lengthAdjust="spacingAndGlyphs" >WASp</text>
<text x="262.20" y="342.50" font-size="8.3" text-anchor="start" fill="#262626" textLength="11.60" lengthAdjust="spacingAndGlyphs" class="b" >HC</text>
<clipPath id="clip10"><rect x="235.90" y="347.50" width="63.90" height="62.70"/></clipPath>
<g clip-path="url(#clip10)">
<polyline points="236.70,409.68 237.27,409.60 237.83,409.52 238.40,409.42 238.97,409.32 239.53,409.21 240.10,409.09 240.66,408.95 241.23,408.80 241.80,408.63 242.36,408.44 242.93,408.23 243.50,407.99 244.06,407.72 244.63,407.42 245.20,407.07 245.76,406.68 246.33,406.23 246.89,405.72 247.46,405.12 248.03,404.43 248.59,403.62 249.16,402.68 249.73,401.57 250.29,400.26 250.86,398.71 251.43,396.87 251.99,394.68 252.56,392.07 253.12,388.95 253.69,385.26 254.26,380.92 254.82,376.00 255.39,371.35 255.96,368.91 256.52,366.54 257.09,359.30 257.66,352.71 258.22,352.02 258.79,354.74 259.35,359.39 259.92,365.33 260.49,372.00 261.05,378.87 261.62,385.46 262.19,391.42 262.75,396.52 263.32,400.68 263.89,403.91 264.45,406.32 265.02,408.03 265.58,409.20 266.15,409.96 266.72,410.44 267.28,410.73 267.85,410.90 268.42,411.00 268.98,411.05 269.55,411.08 270.12,411.09 270.68,411.09 271.25,411.10 271.81,411.10 272.38,411.10 272.95,411.10 273.51,411.10 274.08,411.10 274.65,411.10 275.21,411.10 275.78,411.10 276.35,411.10 276.91,411.10 277.48,411.10 278.04,411.10 278.61,411.10 279.18,411.10 279.74,411.10 280.31,411.10 280.88,411.10 281.44,411.10 282.01,411.10 282.58,411.10 283.14,411.10 283.71,411.10 284.27,411.10 284.84,411.10 285.41,411.10 285.97,411.10 286.54,411.10 287.11,411.10 287.67,411.10 288.24,411.10 288.81,411.10 289.37,411.10 289.94,411.10 290.50,411.10 291.07,411.10 291.64,411.10 292.20,411.10 292.77,411.10 293.34,411.10 293.90,411.10 294.47,411.10 295.04,411.10 295.60,411.10 296.17,411.10 296.73,411.10 297.30,411.10 297.87,411.10 298.43,411.10 299.00,411.10" fill="none" stroke="#cf2f7e" stroke-width="1.1" stroke-linejoin="round" />
<polyline points="236.70,411.10 237.27,411.10 237.83,411.10 238.40,411.10 238.97,411.10 239.53,411.10 240.10,411.10 240.66,411.10 241.23,411.10 241.80,411.10 242.36,411.10 242.93,411.10 243.50,411.10 244.06,411.10 244.63,411.10 245.20,411.10 245.76,411.10 246.33,411.10 246.89,411.10 247.46,411.10 248.03,411.10 248.59,411.10 249.16,411.10 249.73,411.10 250.29,411.10 250.86,411.10 251.43,411.10 251.99,411.10 252.56,411.10 253.12,411.10 253.69,411.10 254.26,411.10 254.82,411.10 255.39,411.10 255.96,411.10 256.52,411.10 257.09,411.10 257.66,411.10 258.22,411.10 258.79,411.10 259.35,411.10 259.92,411.10 260.49,411.10 261.05,411.10 261.62,411.10 262.19,411.10 262.75,411.09 263.32,411.06 263.89,410.98 264.45,410.78 265.02,410.30 265.58,409.25 266.15,407.22 266.72,403.64 267.28,397.98 267.85,389.98 268.42,380.00 268.98,369.20 269.55,359.44 270.12,352.83 270.68,350.93 271.25,352.89 271.81,357.60 272.38,364.39 272.95,372.36 273.51,380.58 274.08,388.25 274.65,394.85 275.21,400.13 275.78,404.06 276.35,406.81 276.91,408.61 277.48,409.73 278.04,410.39 278.61,410.75 279.18,410.93 279.74,411.03 280.31,411.07 280.88,411.09 281.44,411.10 282.01,411.10 282.58,411.10 283.14,411.10 283.71,411.10 284.27,411.10 284.84,411.10 285.41,411.10 285.97,411.10 286.54,411.10 287.11,411.10 287.67,411.10 288.24,411.10 288.81,411.10 289.37,411.10 289.94,411.10 290.50,411.10 291.07,411.10 291.64,411.10 292.20,411.10 292.77,411.10 293.34,411.10 293.90,411.10 294.47,411.10 295.04,411.10 295.60,411.10 296.17,411.10 296.73,411.10 297.30,411.10 297.87,411.10 298.43,411.10 299.00,411.10" fill="none" stroke="#4fb0d6" stroke-width="1.1" stroke-linejoin="round" style="mix-blend-mode:multiply"/>
</g>
<rect x="235.90" y="347.50" width="63.90" height="63.60" fill="none" stroke="#111" stroke-width="1.3"/>
<line x1="232.90" y1="411.10" x2="235.90" y2="411.10" stroke="#222" stroke-width="1.0" />
<text x="230.40" y="413.10" font-size="6.5" text-anchor="end" fill="#262626" textLength="3.50" lengthAdjust="spacingAndGlyphs" >0</text>
<line x1="234.50" y1="408.69" x2="235.90" y2="408.69" stroke="#333" stroke-width="0.8" />
<line x1="234.50" y1="406.28" x2="235.90" y2="406.28" stroke="#333" stroke-width="0.8" />
<line x1="234.50" y1="403.88" x2="235.90" y2="403.88" stroke="#333" stroke-width="0.8" />
<line x1="234.50" y1="401.47" x2="235.90" y2="401.47" stroke="#333" stroke-width="0.8" />
<line x1="232.90" y1="399.06" x2="235.90" y2="399.06" stroke="#222" stroke-width="1.0" />
<text x="230.40" y="401.06" font-size="6.5" text-anchor="end" fill="#262626" textLength="7.00" lengthAdjust="spacingAndGlyphs" >20</text>
<line x1="234.50" y1="396.65" x2="235.90" y2="396.65" stroke="#333" stroke-width="0.8" />
<line x1="234.50" y1="394.24" x2="235.90" y2="394.24" stroke="#333" stroke-width="0.8" />
<line x1="234.50" y1="391.84" x2="235.90" y2="391.84" stroke="#333" stroke-width="0.8" />
<line x1="234.50" y1="389.43" x2="235.90" y2="389.43" stroke="#333" stroke-width="0.8" />
<line x1="232.90" y1="387.02" x2="235.90" y2="387.02" stroke="#222" stroke-width="1.0" />
<text x="230.40" y="389.02" font-size="6.5" text-anchor="end" fill="#262626" textLength="7.00" lengthAdjust="spacingAndGlyphs" >40</text>
<line x1="234.50" y1="384.61" x2="235.90" y2="384.61" stroke="#333" stroke-width="0.8" />
<line x1="234.50" y1="382.20" x2="235.90" y2="382.20" stroke="#333" stroke-width="0.8" />
<line x1="234.50" y1="379.80" x2="235.90" y2="379.80" stroke="#333" stroke-width="0.8" />
<line x1="234.50" y1="377.39" x2="235.90" y2="377.39" stroke="#333" stroke-width="0.8" />
<line x1="232.90" y1="374.98" x2="235.90" y2="374.98" stroke="#222" stroke-width="1.0" />
<text x="230.40" y="376.98" font-size="6.5" text-anchor="end" fill="#262626" textLength="7.00" lengthAdjust="spacingAndGlyphs" >60</text>
<line x1="234.50" y1="372.57" x2="235.90" y2="372.57" stroke="#333" stroke-width="0.8" />
<line x1="234.50" y1="370.16" x2="235.90" y2="370.16" stroke="#333" stroke-width="0.8" />
<line x1="234.50" y1="367.76" x2="235.90" y2="367.76" stroke="#333" stroke-width="0.8" />
<line x1="234.50" y1="365.35" x2="235.90" y2="365.35" stroke="#333" stroke-width="0.8" />
<line x1="232.90" y1="362.94" x2="235.90" y2="362.94" stroke="#222" stroke-width="1.0" />
<text x="230.40" y="364.94" font-size="6.5" text-anchor="end" fill="#262626" textLength="7.00" lengthAdjust="spacingAndGlyphs" >80</text>
<line x1="234.50" y1="360.53" x2="235.90" y2="360.53" stroke="#333" stroke-width="0.8" />
<line x1="234.50" y1="358.12" x2="235.90" y2="358.12" stroke="#333" stroke-width="0.8" />
<line x1="234.50" y1="355.72" x2="235.90" y2="355.72" stroke="#333" stroke-width="0.8" />
<line x1="234.50" y1="353.31" x2="235.90" y2="353.31" stroke="#333" stroke-width="0.8" />
<line x1="232.90" y1="350.90" x2="235.90" y2="350.90" stroke="#222" stroke-width="1.0" />
<text x="230.40" y="352.90" font-size="6.5" text-anchor="end" fill="#262626" textLength="10.50" lengthAdjust="spacingAndGlyphs" >100</text>
<line x1="242.40" y1="411.10" x2="242.40" y2="413.50" stroke="#222" stroke-width="0.9" />
<line x1="249.70" y1="411.10" x2="249.70" y2="413.70" stroke="#222" stroke-width="0.9" />
<line x1="254.22" y1="411.10" x2="254.22" y2="412.50" stroke="#333" stroke-width="0.7" />
<line x1="256.86" y1="411.10" x2="256.86" y2="412.50" stroke="#333" stroke-width="0.7" />
<line x1="258.73" y1="411.10" x2="258.73" y2="412.50" stroke="#333" stroke-width="0.7" />
<line x1="260.18" y1="411.10" x2="260.18" y2="412.50" stroke="#333" stroke-width="0.7" />
<line x1="261.37" y1="411.10" x2="261.37" y2="412.50" stroke="#333" stroke-width="0.7" />
<line x1="262.38" y1="411.10" x2="262.38" y2="412.50" stroke="#333" stroke-width="0.7" />
<line x1="263.25" y1="411.10" x2="263.25" y2="412.50" stroke="#333" stroke-width="0.7" />
<line x1="264.01" y1="411.10" x2="264.01" y2="412.50" stroke="#333" stroke-width="0.7" />
<line x1="264.80" y1="411.10" x2="264.80" y2="413.70" stroke="#222" stroke-width="0.9" />
<line x1="269.32" y1="411.10" x2="269.32" y2="412.50" stroke="#333" stroke-width="0.7" />
<line x1="271.96" y1="411.10" x2="271.96" y2="412.50" stroke="#333" stroke-width="0.7" />
<line x1="273.83" y1="411.10" x2="273.83" y2="412.50" stroke="#333" stroke-width="0.7" />
<line x1="275.28" y1="411.10" x2="275.28" y2="412.50" stroke="#333" stroke-width="0.7" />
<line x1="276.47" y1="411.10" x2="276.47" y2="412.50" stroke="#333" stroke-width="0.7" />
<line x1="277.48" y1="411.10" x2="277.48" y2="412.50" stroke="#333" stroke-width="0.7" />
<line x1="278.35" y1="411.10" x2="278.35" y2="412.50" stroke="#333" stroke-width="0.7" />
<line x1="279.11" y1="411.10" x2="279.11" y2="412.50" stroke="#333" stroke-width="0.7" />
<line x1="279.70" y1="411.10" x2="279.70" y2="413.70" stroke="#222" stroke-width="0.9" />
<line x1="284.22" y1="411.10" x2="284.22" y2="412.50" stroke="#333" stroke-width="0.7" />
<line x1="286.86" y1="411.10" x2="286.86" y2="412.50" stroke="#333" stroke-width="0.7" />
<line x1="288.73" y1="411.10" x2="288.73" y2="412.50" stroke="#333" stroke-width="0.7" />
<line x1="290.18" y1="411.10" x2="290.18" y2="412.50" stroke="#333" stroke-width="0.7" />
<line x1="291.37" y1="411.10" x2="291.37" y2="412.50" stroke="#333" stroke-width="0.7" />
<line x1="292.38" y1="411.10" x2="292.38" y2="412.50" stroke="#333" stroke-width="0.7" />
<line x1="293.25" y1="411.10" x2="293.25" y2="412.50" stroke="#333" stroke-width="0.7" />
<line x1="294.01" y1="411.10" x2="294.01" y2="412.50" stroke="#333" stroke-width="0.7" />
<line x1="294.30" y1="411.10" x2="294.30" y2="413.70" stroke="#222" stroke-width="0.9" />
<line x1="244.60" y1="411.10" x2="244.60" y2="412.50" stroke="#333" stroke-width="0.7" />
<line x1="245.88" y1="411.10" x2="245.88" y2="412.50" stroke="#333" stroke-width="0.7" />
<line x1="246.80" y1="411.10" x2="246.80" y2="412.50" stroke="#333" stroke-width="0.7" />
<line x1="247.50" y1="411.10" x2="247.50" y2="412.50" stroke="#333" stroke-width="0.7" />
<line x1="248.08" y1="411.10" x2="248.08" y2="412.50" stroke="#333" stroke-width="0.7" />
<line x1="248.57" y1="411.10" x2="248.57" y2="412.50" stroke="#333" stroke-width="0.7" />
<line x1="248.99" y1="411.10" x2="248.99" y2="412.50" stroke="#333" stroke-width="0.7" />
<line x1="249.37" y1="411.10" x2="249.37" y2="412.50" stroke="#333" stroke-width="0.7" />
<text transform="translate(241.30 422.50) rotate(-45)" font-size="6.0" text-anchor="end" fill="#262626" x="2.6" y="2">0</text>
<text transform="translate(250.40 420.70) rotate(-45)" font-size="6.0" text-anchor="end" fill="#262626" x="2.8" y="2">10<tspan font-size="4.0" dy="-2.6">2</tspan></text>
<text transform="translate(265.50 420.70) rotate(-45)" font-size="6.0" text-anchor="end" fill="#262626" x="2.8" y="2">10<tspan font-size="4.0" dy="-2.6">3</tspan></text>
<text transform="translate(280.40 420.70) rotate(-45)" font-size="6.0" text-anchor="end" fill="#262626" x="2.8" y="2">10<tspan font-size="4.0" dy="-2.6">4</tspan></text>
<text transform="translate(295.00 420.70) rotate(-45)" font-size="6.0" text-anchor="end" fill="#262626" x="2.8" y="2">10<tspan font-size="4.0" dy="-2.6">5</tspan></text>
<line x1="263.50" y1="355.50" x2="294.00" y2="355.50" stroke="#333" stroke-width="1.0" />
<line x1="263.50" y1="354.10" x2="263.50" y2="356.90" stroke="#333" stroke-width="1.0" />
<line x1="294.00" y1="354.10" x2="294.00" y2="356.90" stroke="#333" stroke-width="1.0" />
<text x="279.15" y="353.60" font-size="6.3" text-anchor="middle" fill="#262626" textLength="12.60" lengthAdjust="spacingAndGlyphs" >99.8</text>
<text x="339.00" y="342.50" font-size="8.3" text-anchor="start" fill="#262626" textLength="49.30" lengthAdjust="spacingAndGlyphs" class="b" >WAS PRE GT</text>
<clipPath id="clip11"><rect x="331.30" y="347.50" width="63.50" height="62.70"/></clipPath>
<g clip-path="url(#clip11)">
<polyline points="332.10,410.91 332.66,410.88 333.23,410.84 333.79,410.79 334.35,410.73 334.91,410.66 335.48,410.57 336.04,410.45 336.60,410.30 337.16,410.12 337.73,409.89 338.29,409.59 338.85,409.21 339.42,408.72 339.98,408.08 340.54,407.25 341.10,406.17 341.67,404.76 342.23,402.92 342.79,400.52 343.35,397.42 343.92,393.46 344.48,388.48 345.04,382.41 345.61,375.31 346.17,367.56 346.73,360.01 347.29,354.18 347.86,352.10 348.42,352.10 348.98,352.10 349.54,352.10 350.11,352.18 350.67,355.03 351.23,361.44 351.80,370.17 352.36,379.69 352.92,388.68 353.48,396.20 354.05,401.88 354.61,405.79 355.17,408.26 355.73,409.68 356.30,410.44 356.86,410.82 357.42,410.99 357.99,411.06 358.55,411.09 359.11,411.10 359.67,411.10 360.24,411.10 360.80,411.10 361.36,411.10 361.92,411.10 362.49,411.10 363.05,411.10 363.61,411.10 364.18,411.10 364.74,411.10 365.30,411.10 365.86,411.10 366.43,411.10 366.99,411.10 367.55,411.10 368.11,411.10 368.68,411.10 369.24,411.10 369.80,411.10 370.37,411.10 370.93,411.10 371.49,411.10 372.05,411.10 372.62,411.10 373.18,411.10 373.74,411.10 374.30,411.10 374.87,411.10 375.43,411.10 375.99,411.10 376.56,411.10 377.12,411.10 377.68,411.10 378.24,411.10 378.81,411.10 379.37,411.10 379.93,411.10 380.49,411.10 381.06,411.10 381.62,411.10 382.18,411.10 382.75,411.10 383.31,411.10 383.87,411.10 384.43,411.10 385.00,411.10 385.56,411.10 386.12,411.10 386.68,411.10 387.25,411.10 387.81,411.10 388.37,411.10 388.94,411.10 389.50,411.10 390.06,411.10 390.62,411.10 391.19,411.10 391.75,411.10 392.31,411.10 392.87,411.10 393.44,411.10 394.00,411.10" fill="none" stroke="#cf2f7e" stroke-width="1.1" stroke-linejoin="round" />
<polyline points="332.10,410.94 332.66,410.91 333.23,410.87 333.79,410.83 334.35,410.78 334.91,410.72 335.48,410.64 336.04,410.55 336.60,410.43 337.16,410.27 337.73,410.08 338.29,409.84 338.85,409.52 339.42,409.12 339.98,408.60 340.54,407.93 341.10,407.05 341.67,405.91 342.23,404.41 342.79,402.47 343.35,399.93 343.92,396.67 344.48,392.51 345.04,387.33 345.61,381.08 346.17,373.88 346.73,366.24 347.29,359.17 347.86,354.54 348.42,354.88 348.98,357.32 349.54,357.56 350.11,355.18 350.67,354.12 351.23,357.70 351.80,364.76 352.36,373.68 352.92,382.98 353.48,391.44 354.05,398.30 354.61,403.35 355.17,406.73 355.73,408.81 356.30,409.98 356.86,410.59 357.42,410.88 357.99,411.02 358.55,411.07 359.11,411.09 359.67,411.10 360.24,411.10 360.80,411.10 361.36,411.10 361.92,411.10 362.49,411.10 363.05,411.10 363.61,411.10 364.18,411.10 364.74,411.10 365.30,411.10 365.86,411.10 366.43,411.10 366.99,411.10 367.55,411.10 368.11,411.10 368.68,411.10 369.24,411.10 369.80,411.10 370.37,411.10 370.93,411.10 371.49,411.10 372.05,411.10 372.62,411.10 373.18,411.10 373.74,411.10 374.30,411.10 374.87,411.10 375.43,411.10 375.99,411.10 376.56,411.10 377.12,411.10 377.68,411.10 378.24,411.10 378.81,411.10 379.37,411.10 379.93,411.10 380.49,411.10 381.06,411.10 381.62,411.10 382.18,411.10 382.75,411.10 383.31,411.10 383.87,411.10 384.43,411.10 385.00,411.10 385.56,411.10 386.12,411.10 386.68,411.10 387.25,411.10 387.81,411.10 388.37,411.10 388.94,411.10 389.50,411.10 390.06,411.10 390.62,411.10 391.19,411.10 391.75,411.10 392.31,411.10 392.87,411.10 393.44,411.10 394.00,411.10" fill="none" stroke="#4fb0d6" stroke-width="1.1" stroke-linejoin="round" style="mix-blend-mode:multiply"/>
</g>
<rect x="331.30" y="347.50" width="63.50" height="63.60" fill="none" stroke="#111" stroke-width="1.3"/>
<line x1="328.30" y1="411.10" x2="331.30" y2="411.10" stroke="#222" stroke-width="1.0" />
<text x="325.80" y="413.10" font-size="6.5" text-anchor="end" fill="#262626" textLength="3.50" lengthAdjust="spacingAndGlyphs" >0</text>
<line x1="329.90" y1="408.69" x2="331.30" y2="408.69" stroke="#333" stroke-width="0.8" />
<line x1="329.90" y1="406.28" x2="331.30" y2="406.28" stroke="#333" stroke-width="0.8" />
<line x1="329.90" y1="403.88" x2="331.30" y2="403.88" stroke="#333" stroke-width="0.8" />
<line x1="329.90" y1="401.47" x2="331.30" y2="401.47" stroke="#333" stroke-width="0.8" />
<line x1="328.30" y1="399.06" x2="331.30" y2="399.06" stroke="#222" stroke-width="1.0" />
<text x="325.80" y="401.06" font-size="6.5" text-anchor="end" fill="#262626" textLength="7.00" lengthAdjust="spacingAndGlyphs" >20</text>
<line x1="329.90" y1="396.65" x2="331.30" y2="396.65" stroke="#333" stroke-width="0.8" />
<line x1="329.90" y1="394.24" x2="331.30" y2="394.24" stroke="#333" stroke-width="0.8" />
<line x1="329.90" y1="391.84" x2="331.30" y2="391.84" stroke="#333" stroke-width="0.8" />
<line x1="329.90" y1="389.43" x2="331.30" y2="389.43" stroke="#333" stroke-width="0.8" />
<line x1="328.30" y1="387.02" x2="331.30" y2="387.02" stroke="#222" stroke-width="1.0" />
<text x="325.80" y="389.02" font-size="6.5" text-anchor="end" fill="#262626" textLength="7.00" lengthAdjust="spacingAndGlyphs" >40</text>
<line x1="329.90" y1="384.61" x2="331.30" y2="384.61" stroke="#333" stroke-width="0.8" />
<line x1="329.90" y1="382.20" x2="331.30" y2="382.20" stroke="#333" stroke-width="0.8" />
<line x1="329.90" y1="379.80" x2="331.30" y2="379.80" stroke="#333" stroke-width="0.8" />
<line x1="329.90" y1="377.39" x2="331.30" y2="377.39" stroke="#333" stroke-width="0.8" />
<line x1="328.30" y1="374.98" x2="331.30" y2="374.98" stroke="#222" stroke-width="1.0" />
<text x="325.80" y="376.98" font-size="6.5" text-anchor="end" fill="#262626" textLength="7.00" lengthAdjust="spacingAndGlyphs" >60</text>
<line x1="329.90" y1="372.57" x2="331.30" y2="372.57" stroke="#333" stroke-width="0.8" />
<line x1="329.90" y1="370.16" x2="331.30" y2="370.16" stroke="#333" stroke-width="0.8" />
<line x1="329.90" y1="367.76" x2="331.30" y2="367.76" stroke="#333" stroke-width="0.8" />
<line x1="329.90" y1="365.35" x2="331.30" y2="365.35" stroke="#333" stroke-width="0.8" />
<line x1="328.30" y1="362.94" x2="331.30" y2="362.94" stroke="#222" stroke-width="1.0" />
<text x="325.80" y="364.94" font-size="6.5" text-anchor="end" fill="#262626" textLength="7.00" lengthAdjust="spacingAndGlyphs" >80</text>
<line x1="329.90" y1="360.53" x2="331.30" y2="360.53" stroke="#333" stroke-width="0.8" />
<line x1="329.90" y1="358.12" x2="331.30" y2="358.12" stroke="#333" stroke-width="0.8" />
<line x1="329.90" y1="355.72" x2="331.30" y2="355.72" stroke="#333" stroke-width="0.8" />
<line x1="329.90" y1="353.31" x2="331.30" y2="353.31" stroke="#333" stroke-width="0.8" />
<line x1="328.30" y1="350.90" x2="331.30" y2="350.90" stroke="#222" stroke-width="1.0" />
<text x="325.80" y="352.90" font-size="6.5" text-anchor="end" fill="#262626" textLength="10.50" lengthAdjust="spacingAndGlyphs" >100</text>
<line x1="337.80" y1="411.10" x2="337.80" y2="413.50" stroke="#222" stroke-width="0.9" />
<line x1="345.10" y1="411.10" x2="345.10" y2="413.70" stroke="#222" stroke-width="0.9" />
<line x1="349.62" y1="411.10" x2="349.62" y2="412.50" stroke="#333" stroke-width="0.7" />
<line x1="352.26" y1="411.10" x2="352.26" y2="412.50" stroke="#333" stroke-width="0.7" />
<line x1="354.13" y1="411.10" x2="354.13" y2="412.50" stroke="#333" stroke-width="0.7" />
<line x1="355.58" y1="411.10" x2="355.58" y2="412.50" stroke="#333" stroke-width="0.7" />
<line x1="356.77" y1="411.10" x2="356.77" y2="412.50" stroke="#333" stroke-width="0.7" />
<line x1="357.78" y1="411.10" x2="357.78" y2="412.50" stroke="#333" stroke-width="0.7" />
<line x1="358.65" y1="411.10" x2="358.65" y2="412.50" stroke="#333" stroke-width="0.7" />
<line x1="359.41" y1="411.10" x2="359.41" y2="412.50" stroke="#333" stroke-width="0.7" />
<line x1="360.20" y1="411.10" x2="360.20" y2="413.70" stroke="#222" stroke-width="0.9" />
<line x1="364.72" y1="411.10" x2="364.72" y2="412.50" stroke="#333" stroke-width="0.7" />
<line x1="367.36" y1="411.10" x2="367.36" y2="412.50" stroke="#333" stroke-width="0.7" />
<line x1="369.23" y1="411.10" x2="369.23" y2="412.50" stroke="#333" stroke-width="0.7" />
<line x1="370.68" y1="411.10" x2="370.68" y2="412.50" stroke="#333" stroke-width="0.7" />
<line x1="371.87" y1="411.10" x2="371.87" y2="412.50" stroke="#333" stroke-width="0.7" />
<line x1="372.88" y1="411.10" x2="372.88" y2="412.50" stroke="#333" stroke-width="0.7" />
<line x1="373.75" y1="411.10" x2="373.75" y2="412.50" stroke="#333" stroke-width="0.7" />
<line x1="374.51" y1="411.10" x2="374.51" y2="412.50" stroke="#333" stroke-width="0.7" />
<line x1="375.10" y1="411.10" x2="375.10" y2="413.70" stroke="#222" stroke-width="0.9" />
<line x1="379.62" y1="411.10" x2="379.62" y2="412.50" stroke="#333" stroke-width="0.7" />
<line x1="382.26" y1="411.10" x2="382.26" y2="412.50" stroke="#333" stroke-width="0.7" />
<line x1="384.13" y1="411.10" x2="384.13" y2="412.50" stroke="#333" stroke-width="0.7" />
<line x1="385.58" y1="411.10" x2="385.58" y2="412.50" stroke="#333" stroke-width="0.7" />
<line x1="386.77" y1="411.10" x2="386.77" y2="412.50" stroke="#333" stroke-width="0.7" />
<line x1="387.78" y1="411.10" x2="387.78" y2="412.50" stroke="#333" stroke-width="0.7" />
<line x1="388.65" y1="411.10" x2="388.65" y2="412.50" stroke="#333" stroke-width="0.7" />
<line x1="389.41" y1="411.10" x2="389.41" y2="412.50" stroke="#333" stroke-width="0.7" />
<line x1="389.70" y1="411.10" x2="389.70" y2="413.70" stroke="#222" stroke-width="0.9" />
<line x1="340.00" y1="411.10" x2="340.00" y2="412.50" stroke="#333" stroke-width="0.7" />
<line x1="341.28" y1="411.10" x2="341.28" y2="412.50" stroke="#333" stroke-width="0.7" />
<line x1="342.20" y1="411.10" x2="342.20" y2="412.50" stroke="#333" stroke-width="0.7" />
<line x1="342.90" y1="411.10" x2="342.90" y2="412.50" stroke="#333" stroke-width="0.7" />
<line x1="343.48" y1="411.10" x2="343.48" y2="412.50" stroke="#333" stroke-width="0.7" />
<line x1="343.97" y1="411.10" x2="343.97" y2="412.50" stroke="#333" stroke-width="0.7" />
<line x1="344.39" y1="411.10" x2="344.39" y2="412.50" stroke="#333" stroke-width="0.7" />
<line x1="344.77" y1="411.10" x2="344.77" y2="412.50" stroke="#333" stroke-width="0.7" />
<text transform="translate(336.70 422.50) rotate(-45)" font-size="6.0" text-anchor="end" fill="#262626" x="2.6" y="2">0</text>
<text transform="translate(345.80 420.70) rotate(-45)" font-size="6.0" text-anchor="end" fill="#262626" x="2.8" y="2">10<tspan font-size="4.0" dy="-2.6">2</tspan></text>
<text transform="translate(360.90 420.70) rotate(-45)" font-size="6.0" text-anchor="end" fill="#262626" x="2.8" y="2">10<tspan font-size="4.0" dy="-2.6">3</tspan></text>
<text transform="translate(375.80 420.70) rotate(-45)" font-size="6.0" text-anchor="end" fill="#262626" x="2.8" y="2">10<tspan font-size="4.0" dy="-2.6">4</tspan></text>
<text transform="translate(390.40 420.70) rotate(-45)" font-size="6.0" text-anchor="end" fill="#262626" x="2.8" y="2">10<tspan font-size="4.0" dy="-2.6">5</tspan></text>
<line x1="353.40" y1="354.80" x2="389.80" y2="354.80" stroke="#333" stroke-width="1.0" />
<line x1="353.40" y1="353.40" x2="353.40" y2="356.20" stroke="#333" stroke-width="1.0" />
<line x1="389.80" y1="353.40" x2="389.80" y2="356.20" stroke="#333" stroke-width="1.0" />
<text x="371.60" y="352.90" font-size="6.3" text-anchor="middle" fill="#262626" textLength="12.60" lengthAdjust="spacingAndGlyphs" >5.81</text>
<text x="423.30" y="342.50" font-size="8.3" text-anchor="start" fill="#262626" textLength="72.80" lengthAdjust="spacingAndGlyphs" class="b" >WAS POST GT (3Y)</text>
<clipPath id="clip12"><rect x="427.60" y="347.50" width="63.70" height="62.70"/></clipPath>
<g clip-path="url(#clip12)">
<polyline points="428.40,411.10 428.96,411.10 429.53,411.10 430.09,411.10 430.66,411.10 431.22,411.10 431.79,411.10 432.35,411.10 432.92,411.10 433.48,411.10 434.05,411.09 434.61,411.09 435.17,411.08 435.74,411.06 436.30,411.04 436.87,411.00 437.43,410.94 438.00,410.86 438.56,410.73 439.13,410.55 439.69,410.29 440.26,409.92 440.82,409.43 441.38,408.76 441.95,407.88 442.51,406.75 443.08,405.31 443.64,403.47 444.21,401.01 444.77,397.54 445.34,393.45 445.90,390.01 446.47,387.20 447.03,383.79 447.59,379.54 448.16,374.92 448.72,370.26 449.29,365.75 449.85,361.61 450.42,358.50 450.98,357.29 451.55,355.27 452.11,352.08 452.68,351.01 453.24,353.91 453.80,360.89 454.37,370.39 454.93,380.62 455.50,390.03 456.06,397.65 456.63,403.17 457.19,406.79 457.76,408.93 458.32,410.09 458.89,410.67 459.45,410.93 460.01,411.04 460.58,411.08 461.14,411.09 461.71,411.10 462.27,411.10 462.84,411.10 463.40,411.10 463.97,411.10 464.53,411.10 465.10,411.10 465.66,411.10 466.22,411.10 466.79,411.10 467.35,411.10 467.92,411.10 468.48,411.10 469.05,411.10 469.61,411.10 470.18,411.10 470.74,411.10 471.31,411.10 471.87,411.10 472.43,411.10 473.00,411.10 473.56,411.10 474.13,411.10 474.69,411.10 475.26,411.10 475.82,411.10 476.39,411.10 476.95,411.10 477.52,411.10 478.08,411.10 478.64,411.10 479.21,411.10 479.77,411.10 480.34,411.10 480.90,411.10 481.47,411.10 482.03,411.10 482.60,411.10 483.16,411.10 483.73,411.10 484.29,411.10 484.85,411.10 485.42,411.10 485.98,411.10 486.55,411.10 487.11,411.10 487.68,411.10 488.24,411.10 488.81,411.10 489.37,411.10 489.94,411.10 490.50,411.10" fill="none" stroke="#cf2f7e" stroke-width="1.1" stroke-linejoin="round" />
<polyline points="428.40,411.10 428.96,411.10 429.53,411.10 430.09,411.10 430.66,411.10 431.22,411.10 431.79,411.10 432.35,411.10 432.92,411.10 433.48,411.10 434.05,411.10 434.61,411.10 435.17,411.10 435.74,411.10 436.30,411.10 436.87,411.10 437.43,411.10 438.00,411.10 438.56,411.10 439.13,411.10 439.69,411.10 440.26,411.10 440.82,411.10 441.38,411.10 441.95,411.10 442.51,411.10 443.08,411.10 443.64,411.10 444.21,411.10 444.77,411.09 445.34,411.08 445.90,411.05 446.47,411.00 447.03,410.90 447.59,410.72 448.16,410.41 448.72,409.89 449.29,409.06 449.85,407.79 450.42,405.92 450.98,403.30 451.55,399.78 452.11,395.30 452.68,389.86 453.24,383.61 453.80,376.85 454.37,370.01 454.93,363.63 455.50,358.32 456.06,354.87 456.63,355.01 457.19,359.19 457.76,360.61 458.32,356.68 458.89,353.55 459.45,354.13 460.01,357.30 460.58,362.12 461.14,368.06 461.71,374.60 462.27,381.22 462.84,387.49 463.40,393.09 463.97,397.85 464.53,401.68 465.10,404.64 465.66,406.82 466.22,408.37 466.79,409.42 467.35,410.10 467.92,410.52 468.48,410.78 469.05,410.93 469.61,411.01 470.18,411.06 470.74,411.08 471.31,411.09 471.87,411.10 472.43,411.10 473.00,411.10 473.56,411.10 474.13,411.10 474.69,411.10 475.26,411.10 475.82,411.10 476.39,411.10 476.95,411.10 477.52,411.10 478.08,411.10 478.64,411.10 479.21,411.10 479.77,411.10 480.34,411.10 480.90,411.10 481.47,411.10 482.03,411.10 482.60,411.10 483.16,411.10 483.73,411.10 484.29,411.10 484.85,411.10 485.42,411.10 485.98,411.10 486.55,411.10 487.11,411.10 487.68,411.10 488.24,411.10 488.81,411.10 489.37,411.10 489.94,411.10 490.50,411.10" fill="none" stroke="#4fb0d6" stroke-width="1.1" stroke-linejoin="round" style="mix-blend-mode:multiply"/>
</g>
<rect x="427.60" y="347.50" width="63.70" height="63.60" fill="none" stroke="#111" stroke-width="1.3"/>
<line x1="424.60" y1="411.10" x2="427.60" y2="411.10" stroke="#222" stroke-width="1.0" />
<text x="422.10" y="413.10" font-size="6.5" text-anchor="end" fill="#262626" textLength="3.50" lengthAdjust="spacingAndGlyphs" >0</text>
<line x1="426.20" y1="408.69" x2="427.60" y2="408.69" stroke="#333" stroke-width="0.8" />
<line x1="426.20" y1="406.28" x2="427.60" y2="406.28" stroke="#333" stroke-width="0.8" />
<line x1="426.20" y1="403.88" x2="427.60" y2="403.88" stroke="#333" stroke-width="0.8" />
<line x1="426.20" y1="401.47" x2="427.60" y2="401.47" stroke="#333" stroke-width="0.8" />
<line x1="424.60" y1="399.06" x2="427.60" y2="399.06" stroke="#222" stroke-width="1.0" />
<text x="422.10" y="401.06" font-size="6.5" text-anchor="end" fill="#262626" textLength="7.00" lengthAdjust="spacingAndGlyphs" >20</text>
<line x1="426.20" y1="396.65" x2="427.60" y2="396.65" stroke="#333" stroke-width="0.8" />
<line x1="426.20" y1="394.24" x2="427.60" y2="394.24" stroke="#333" stroke-width="0.8" />
<line x1="426.20" y1="391.84" x2="427.60" y2="391.84" stroke="#333" stroke-width="0.8" />
<line x1="426.20" y1="389.43" x2="427.60" y2="389.43" stroke="#333" stroke-width="0.8" />
<line x1="424.60" y1="387.02" x2="427.60" y2="387.02" stroke="#222" stroke-width="1.0" />
<text x="422.10" y="389.02" font-size="6.5" text-anchor="end" fill="#262626" textLength="7.00" lengthAdjust="spacingAndGlyphs" >40</text>
<line x1="426.20" y1="384.61" x2="427.60" y2="384.61" stroke="#333" stroke-width="0.8" />
<line x1="426.20" y1="382.20" x2="427.60" y2="382.20" stroke="#333" stroke-width="0.8" />
<line x1="426.20" y1="379.80" x2="427.60" y2="379.80" stroke="#333" stroke-width="0.8" />
<line x1="426.20" y1="377.39" x2="427.60" y2="377.39" stroke="#333" stroke-width="0.8" />
<line x1="424.60" y1="374.98" x2="427.60" y2="374.98" stroke="#222" stroke-width="1.0" />
<text x="422.10" y="376.98" font-size="6.5" text-anchor="end" fill="#262626" textLength="7.00" lengthAdjust="spacingAndGlyphs" >60</text>
<line x1="426.20" y1="372.57" x2="427.60" y2="372.57" stroke="#333" stroke-width="0.8" />
<line x1="426.20" y1="370.16" x2="427.60" y2="370.16" stroke="#333" stroke-width="0.8" />
<line x1="426.20" y1="367.76" x2="427.60" y2="367.76" stroke="#333" stroke-width="0.8" />
<line x1="426.20" y1="365.35" x2="427.60" y2="365.35" stroke="#333" stroke-width="0.8" />
<line x1="424.60" y1="362.94" x2="427.60" y2="362.94" stroke="#222" stroke-width="1.0" />
<text x="422.10" y="364.94" font-size="6.5" text-anchor="end" fill="#262626" textLength="7.00" lengthAdjust="spacingAndGlyphs" >80</text>
<line x1="426.20" y1="360.53" x2="427.60" y2="360.53" stroke="#333" stroke-width="0.8" />
<line x1="426.20" y1="358.12" x2="427.60" y2="358.12" stroke="#333" stroke-width="0.8" />
<line x1="426.20" y1="355.72" x2="427.60" y2="355.72" stroke="#333" stroke-width="0.8" />
<line x1="426.20" y1="353.31" x2="427.60" y2="353.31" stroke="#333" stroke-width="0.8" />
<line x1="424.60" y1="350.90" x2="427.60" y2="350.90" stroke="#222" stroke-width="1.0" />
<text x="422.10" y="352.90" font-size="6.5" text-anchor="end" fill="#262626" textLength="10.50" lengthAdjust="spacingAndGlyphs" >100</text>
<line x1="434.10" y1="411.10" x2="434.10" y2="413.50" stroke="#222" stroke-width="0.9" />
<line x1="441.40" y1="411.10" x2="441.40" y2="413.70" stroke="#222" stroke-width="0.9" />
<line x1="445.92" y1="411.10" x2="445.92" y2="412.50" stroke="#333" stroke-width="0.7" />
<line x1="448.56" y1="411.10" x2="448.56" y2="412.50" stroke="#333" stroke-width="0.7" />
<line x1="450.43" y1="411.10" x2="450.43" y2="412.50" stroke="#333" stroke-width="0.7" />
<line x1="451.88" y1="411.10" x2="451.88" y2="412.50" stroke="#333" stroke-width="0.7" />
<line x1="453.07" y1="411.10" x2="453.07" y2="412.50" stroke="#333" stroke-width="0.7" />
<line x1="454.08" y1="411.10" x2="454.08" y2="412.50" stroke="#333" stroke-width="0.7" />
<line x1="454.95" y1="411.10" x2="454.95" y2="412.50" stroke="#333" stroke-width="0.7" />
<line x1="455.71" y1="411.10" x2="455.71" y2="412.50" stroke="#333" stroke-width="0.7" />
<line x1="456.50" y1="411.10" x2="456.50" y2="413.70" stroke="#222" stroke-width="0.9" />
<line x1="461.02" y1="411.10" x2="461.02" y2="412.50" stroke="#333" stroke-width="0.7" />
<line x1="463.66" y1="411.10" x2="463.66" y2="412.50" stroke="#333" stroke-width="0.7" />
<line x1="465.53" y1="411.10" x2="465.53" y2="412.50" stroke="#333" stroke-width="0.7" />
<line x1="466.98" y1="411.10" x2="466.98" y2="412.50" stroke="#333" stroke-width="0.7" />
<line x1="468.17" y1="411.10" x2="468.17" y2="412.50" stroke="#333" stroke-width="0.7" />
<line x1="469.18" y1="411.10" x2="469.18" y2="412.50" stroke="#333" stroke-width="0.7" />
<line x1="470.05" y1="411.10" x2="470.05" y2="412.50" stroke="#333" stroke-width="0.7" />
<line x1="470.81" y1="411.10" x2="470.81" y2="412.50" stroke="#333" stroke-width="0.7" />
<line x1="471.40" y1="411.10" x2="471.40" y2="413.70" stroke="#222" stroke-width="0.9" />
<line x1="475.92" y1="411.10" x2="475.92" y2="412.50" stroke="#333" stroke-width="0.7" />
<line x1="478.56" y1="411.10" x2="478.56" y2="412.50" stroke="#333" stroke-width="0.7" />
<line x1="480.43" y1="411.10" x2="480.43" y2="412.50" stroke="#333" stroke-width="0.7" />
<line x1="481.88" y1="411.10" x2="481.88" y2="412.50" stroke="#333" stroke-width="0.7" />
<line x1="483.07" y1="411.10" x2="483.07" y2="412.50" stroke="#333" stroke-width="0.7" />
<line x1="484.08" y1="411.10" x2="484.08" y2="412.50" stroke="#333" stroke-width="0.7" />
<line x1="484.95" y1="411.10" x2="484.95" y2="412.50" stroke="#333" stroke-width="0.7" />
<line x1="485.71" y1="411.10" x2="485.71" y2="412.50" stroke="#333" stroke-width="0.7" />
<line x1="486.00" y1="411.10" x2="486.00" y2="413.70" stroke="#222" stroke-width="0.9" />
<line x1="436.30" y1="411.10" x2="436.30" y2="412.50" stroke="#333" stroke-width="0.7" />
<line x1="437.58" y1="411.10" x2="437.58" y2="412.50" stroke="#333" stroke-width="0.7" />
<line x1="438.50" y1="411.10" x2="438.50" y2="412.50" stroke="#333" stroke-width="0.7" />
<line x1="439.20" y1="411.10" x2="439.20" y2="412.50" stroke="#333" stroke-width="0.7" />
<line x1="439.78" y1="411.10" x2="439.78" y2="412.50" stroke="#333" stroke-width="0.7" />
<line x1="440.27" y1="411.10" x2="440.27" y2="412.50" stroke="#333" stroke-width="0.7" />
<line x1="440.69" y1="411.10" x2="440.69" y2="412.50" stroke="#333" stroke-width="0.7" />
<line x1="441.07" y1="411.10" x2="441.07" y2="412.50" stroke="#333" stroke-width="0.7" />
<text transform="translate(433.00 422.50) rotate(-45)" font-size="6.0" text-anchor="end" fill="#262626" x="2.6" y="2">0</text>
<text transform="translate(442.10 420.70) rotate(-45)" font-size="6.0" text-anchor="end" fill="#262626" x="2.8" y="2">10<tspan font-size="4.0" dy="-2.6">2</tspan></text>
<text transform="translate(457.20 420.70) rotate(-45)" font-size="6.0" text-anchor="end" fill="#262626" x="2.8" y="2">10<tspan font-size="4.0" dy="-2.6">3</tspan></text>
<text transform="translate(472.10 420.70) rotate(-45)" font-size="6.0" text-anchor="end" fill="#262626" x="2.8" y="2">10<tspan font-size="4.0" dy="-2.6">4</tspan></text>
<text transform="translate(486.70 420.70) rotate(-45)" font-size="6.0" text-anchor="end" fill="#262626" x="2.8" y="2">10<tspan font-size="4.0" dy="-2.6">5</tspan></text>
<line x1="456.30" y1="355.00" x2="486.30" y2="355.00" stroke="#333" stroke-width="1.0" />
<line x1="456.30" y1="353.60" x2="456.30" y2="356.40" stroke="#333" stroke-width="1.0" />
<line x1="486.30" y1="353.60" x2="486.30" y2="356.40" stroke="#333" stroke-width="1.0" />
<text x="471.50" y="353.10" font-size="6.3" text-anchor="middle" fill="#262626" textLength="12.60" lengthAdjust="spacingAndGlyphs" >70.7</text>
<line x1="211.9" y1="414.80" x2="211.9" y2="389.00" stroke="#222" stroke-width="1.35"/>
<path d="M211.9 383.90 L214.6 390.70 L211.9 389.70 L209.2 390.70 Z" fill="#111"/>
<text x="214.00" y="370.40" font-size="8.4" text-anchor="middle" fill="#262626" textLength="19.20" lengthAdjust="spacingAndGlyphs" transform="rotate(-90 214.00 370.40)" class="b" >% Max</text>
<line x1="219.60" y1="437.20" x2="430.00" y2="437.20" stroke="#222" stroke-width="1.35" />
<path d="M434.6 437.20 L427.8 434.40 L428.9 437.20 L427.8 440.00 Z" fill="#111"/>
<text x="443.80" y="439.80" font-size="7.3" text-anchor="start" fill="#262626" textLength="17.60" lengthAdjust="spacingAndGlyphs" >WASp</text>
<text x="262.20" y="476.90" font-size="8.3" text-anchor="start" fill="#262626" textLength="11.60" lengthAdjust="spacingAndGlyphs" class="b" >HC</text>
<clipPath id="clip20"><rect x="235.90" y="481.90" width="63.90" height="62.70"/></clipPath>
<g clip-path="url(#clip20)">
<polyline points="236.70,544.60 237.27,544.52 237.83,544.43 238.40,544.33 238.97,544.22 239.53,544.10 240.10,543.96 240.66,543.80 241.23,543.62 241.80,543.42 242.36,543.18 242.93,542.92 243.50,542.62 244.06,542.27 244.63,541.87 245.20,541.40 245.76,540.87 246.33,540.25 246.89,539.53 247.46,538.69 248.03,537.71 248.59,536.57 249.16,535.23 249.73,533.66 250.29,531.83 250.86,529.69 251.43,527.20 251.99,524.31 252.56,520.98 253.12,517.18 253.69,512.91 254.26,508.21 254.82,503.17 255.39,498.01 255.96,493.05 256.52,488.82 257.09,486.00 257.66,485.41 258.22,487.58 258.79,492.25 259.35,498.82 259.92,506.48 260.49,514.39 261.05,521.84 261.62,528.35 262.19,533.64 262.75,537.68 263.32,540.58 263.89,542.55 264.45,543.81 265.02,544.58 265.58,545.02 266.15,545.26 266.72,545.39 267.28,545.45 267.85,545.48 268.42,545.49 268.98,545.50 269.55,545.50 270.12,545.50 270.68,545.50 271.25,545.50 271.81,545.50 272.38,545.50 272.95,545.50 273.51,545.50 274.08,545.50 274.65,545.50 275.21,545.50 275.78,545.50 276.35,545.50 276.91,545.50 277.48,545.50 278.04,545.50 278.61,545.50 279.18,545.50 279.74,545.50 280.31,545.50 280.88,545.50 281.44,545.50 282.01,545.50 282.58,545.50 283.14,545.50 283.71,545.50 284.27,545.50 284.84,545.50 285.41,545.50 285.97,545.50 286.54,545.50 287.11,545.50 287.67,545.50 288.24,545.50 288.81,545.50 289.37,545.50 289.94,545.50 290.50,545.50 291.07,545.50 291.64,545.50 292.20,545.50 292.77,545.50 293.34,545.50 293.90,545.50 294.47,545.50 295.04,545.50 295.60,545.50 296.17,545.50 296.73,545.50 297.30,545.50 297.87,545.50 298.43,545.50 299.00,545.50" fill="none" stroke="#cf2f7e" stroke-width="1.1" stroke-linejoin="round" />
<polyline points="236.70,545.50 237.27,545.50 237.83,545.50 238.40,545.50 238.97,545.50 239.53,545.50 240.10,545.50 240.66,545.50 241.23,545.50 241.80,545.50 242.36,545.50 242.93,545.50 243.50,545.50 244.06,545.50 244.63,545.50 245.20,545.50 245.76,545.50 246.33,545.50 246.89,545.50 247.46,545.50 248.03,545.50 248.59,545.50 249.16,545.50 249.73,545.50 250.29,545.50 250.86,545.50 251.43,545.50 251.99,545.50 252.56,545.50 253.12,545.50 253.69,545.50 254.26,545.50 254.82,545.50 255.39,545.50 255.96,545.50 256.52,545.50 257.09,545.50 257.66,545.50 258.22,545.50 258.79,545.50 259.35,545.50 259.92,545.50 260.49,545.50 261.05,545.50 261.62,545.50 262.19,545.50 262.75,545.49 263.32,545.49 263.89,545.48 264.45,545.47 265.02,545.45 265.58,545.42 266.15,545.37 266.72,545.27 267.28,545.12 267.85,544.86 268.42,544.42 268.98,543.70 269.55,542.53 270.12,540.67 270.68,537.79 271.25,533.49 271.81,527.40 272.38,519.29 272.95,509.45 273.51,498.96 274.08,489.97 274.65,485.42 275.21,487.37 275.78,494.86 276.35,505.77 276.91,517.43 277.48,527.64 278.04,535.27 278.61,540.22 279.18,543.05 279.74,544.47 280.31,545.11 280.88,545.37 281.44,545.46 282.01,545.49 282.58,545.50 283.14,545.50 283.71,545.50 284.27,545.50 284.84,545.50 285.41,545.50 285.97,545.50 286.54,545.50 287.11,545.50 287.67,545.50 288.24,545.50 288.81,545.50 289.37,545.50 289.94,545.50 290.50,545.50 291.07,545.50 291.64,545.50 292.20,545.50 292.77,545.50 293.34,545.50 293.90,545.50 294.47,545.50 295.04,545.50 295.60,545.50 296.17,545.50 296.73,545.50 297.30,545.50 297.87,545.50 298.43,545.50 299.00,545.50" fill="none" stroke="#4fb0d6" stroke-width="1.1" stroke-linejoin="round" style="mix-blend-mode:multiply"/>
</g>
<rect x="235.90" y="481.90" width="63.90" height="63.60" fill="none" stroke="#111" stroke-width="1.3"/>
<line x1="232.90" y1="545.50" x2="235.90" y2="545.50" stroke="#222" stroke-width="1.0" />
<text x="230.40" y="547.50" font-size="6.5" text-anchor="end" fill="#262626" textLength="3.50" lengthAdjust="spacingAndGlyphs" >0</text>
<line x1="234.50" y1="543.09" x2="235.90" y2="543.09" stroke="#333" stroke-width="0.8" />
<line x1="234.50" y1="540.68" x2="235.90" y2="540.68" stroke="#333" stroke-width="0.8" />
<line x1="234.50" y1="538.28" x2="235.90" y2="538.28" stroke="#333" stroke-width="0.8" />
<line x1="234.50" y1="535.87" x2="235.90" y2="535.87" stroke="#333" stroke-width="0.8" />
<line x1="232.90" y1="533.46" x2="235.90" y2="533.46" stroke="#222" stroke-width="1.0" />
<text x="230.40" y="535.46" font-size="6.5" text-anchor="end" fill="#262626" textLength="7.00" lengthAdjust="spacingAndGlyphs" >20</text>
<line x1="234.50" y1="531.05" x2="235.90" y2="531.05" stroke="#333" stroke-width="0.8" />
<line x1="234.50" y1="528.64" x2="235.90" y2="528.64" stroke="#333" stroke-width="0.8" />
<line x1="234.50" y1="526.24" x2="235.90" y2="526.24" stroke="#333" stroke-width="0.8" />
<line x1="234.50" y1="523.83" x2="235.90" y2="523.83" stroke="#333" stroke-width="0.8" />
<line x1="232.90" y1="521.42" x2="235.90" y2="521.42" stroke="#222" stroke-width="1.0" />
<text x="230.40" y="523.42" font-size="6.5" text-anchor="end" fill="#262626" textLength="7.00" lengthAdjust="spacingAndGlyphs" >40</text>
<line x1="234.50" y1="519.01" x2="235.90" y2="519.01" stroke="#333" stroke-width="0.8" />
<line x1="234.50" y1="516.60" x2="235.90" y2="516.60" stroke="#333" stroke-width="0.8" />
<line x1="234.50" y1="514.20" x2="235.90" y2="514.20" stroke="#333" stroke-width="0.8" />
<line x1="234.50" y1="511.79" x2="235.90" y2="511.79" stroke="#333" stroke-width="0.8" />
<line x1="232.90" y1="509.38" x2="235.90" y2="509.38" stroke="#222" stroke-width="1.0" />
<text x="230.40" y="511.38" font-size="6.5" text-anchor="end" fill="#262626" textLength="7.00" lengthAdjust="spacingAndGlyphs" >60</text>
<line x1="234.50" y1="506.97" x2="235.90" y2="506.97" stroke="#333" stroke-width="0.8" />
<line x1="234.50" y1="504.56" x2="235.90" y2="504.56" stroke="#333" stroke-width="0.8" />
<line x1="234.50" y1="502.16" x2="235.90" y2="502.16" stroke="#333" stroke-width="0.8" />
<line x1="234.50" y1="499.75" x2="235.90" y2="499.75" stroke="#333" stroke-width="0.8" />
<line x1="232.90" y1="497.34" x2="235.90" y2="497.34" stroke="#222" stroke-width="1.0" />
<text x="230.40" y="499.34" font-size="6.5" text-anchor="end" fill="#262626" textLength="7.00" lengthAdjust="spacingAndGlyphs" >80</text>
<line x1="234.50" y1="494.93" x2="235.90" y2="494.93" stroke="#333" stroke-width="0.8" />
<line x1="234.50" y1="492.52" x2="235.90" y2="492.52" stroke="#333" stroke-width="0.8" />
<line x1="234.50" y1="490.12" x2="235.90" y2="490.12" stroke="#333" stroke-width="0.8" />
<line x1="234.50" y1="487.71" x2="235.90" y2="487.71" stroke="#333" stroke-width="0.8" />
<line x1="232.90" y1="485.30" x2="235.90" y2="485.30" stroke="#222" stroke-width="1.0" />
<text x="230.40" y="487.30" font-size="6.5" text-anchor="end" fill="#262626" textLength="10.50" lengthAdjust="spacingAndGlyphs" >100</text>
<line x1="242.40" y1="545.50" x2="242.40" y2="547.90" stroke="#222" stroke-width="0.9" />
<line x1="249.70" y1="545.50" x2="249.70" y2="548.10" stroke="#222" stroke-width="0.9" />
<line x1="254.22" y1="545.50" x2="254.22" y2="546.90" stroke="#333" stroke-width="0.7" />
<line x1="256.86" y1="545.50" x2="256.86" y2="546.90" stroke="#333" stroke-width="0.7" />
<line x1="258.73" y1="545.50" x2="258.73" y2="546.90" stroke="#333" stroke-width="0.7" />
<line x1="260.18" y1="545.50" x2="260.18" y2="546.90" stroke="#333" stroke-width="0.7" />
<line x1="261.37" y1="545.50" x2="261.37" y2="546.90" stroke="#333" stroke-width="0.7" />
<line x1="262.38" y1="545.50" x2="262.38" y2="546.90" stroke="#333" stroke-width="0.7" />
<line x1="263.25" y1="545.50" x2="263.25" y2="546.90" stroke="#333" stroke-width="0.7" />
<line x1="264.01" y1="545.50" x2="264.01" y2="546.90" stroke="#333" stroke-width="0.7" />
<line x1="264.80" y1="545.50" x2="264.80" y2="548.10" stroke="#222" stroke-width="0.9" />
<line x1="269.32" y1="545.50" x2="269.32" y2="546.90" stroke="#333" stroke-width="0.7" />
<line x1="271.96" y1="545.50" x2="271.96" y2="546.90" stroke="#333" stroke-width="0.7" />
<line x1="273.83" y1="545.50" x2="273.83" y2="546.90" stroke="#333" stroke-width="0.7" />
<line x1="275.28" y1="545.50" x2="275.28" y2="546.90" stroke="#333" stroke-width="0.7" />
<line x1="276.47" y1="545.50" x2="276.47" y2="546.90" stroke="#333" stroke-width="0.7" />
<line x1="277.48" y1="545.50" x2="277.48" y2="546.90" stroke="#333" stroke-width="0.7" />
<line x1="278.35" y1="545.50" x2="278.35" y2="546.90" stroke="#333" stroke-width="0.7" />
<line x1="279.11" y1="545.50" x2="279.11" y2="546.90" stroke="#333" stroke-width="0.7" />
<line x1="279.70" y1="545.50" x2="279.70" y2="548.10" stroke="#222" stroke-width="0.9" />
<line x1="284.22" y1="545.50" x2="284.22" y2="546.90" stroke="#333" stroke-width="0.7" />
<line x1="286.86" y1="545.50" x2="286.86" y2="546.90" stroke="#333" stroke-width="0.7" />
<line x1="288.73" y1="545.50" x2="288.73" y2="546.90" stroke="#333" stroke-width="0.7" />
<line x1="290.18" y1="545.50" x2="290.18" y2="546.90" stroke="#333" stroke-width="0.7" />
<line x1="291.37" y1="545.50" x2="291.37" y2="546.90" stroke="#333" stroke-width="0.7" />
<line x1="292.38" y1="545.50" x2="292.38" y2="546.90" stroke="#333" stroke-width="0.7" />
<line x1="293.25" y1="545.50" x2="293.25" y2="546.90" stroke="#333" stroke-width="0.7" />
<line x1="294.01" y1="545.50" x2="294.01" y2="546.90" stroke="#333" stroke-width="0.7" />
<line x1="294.30" y1="545.50" x2="294.30" y2="548.10" stroke="#222" stroke-width="0.9" />
<line x1="244.60" y1="545.50" x2="244.60" y2="546.90" stroke="#333" stroke-width="0.7" />
<line x1="245.88" y1="545.50" x2="245.88" y2="546.90" stroke="#333" stroke-width="0.7" />
<line x1="246.80" y1="545.50" x2="246.80" y2="546.90" stroke="#333" stroke-width="0.7" />
<line x1="247.50" y1="545.50" x2="247.50" y2="546.90" stroke="#333" stroke-width="0.7" />
<line x1="248.08" y1="545.50" x2="248.08" y2="546.90" stroke="#333" stroke-width="0.7" />
<line x1="248.57" y1="545.50" x2="248.57" y2="546.90" stroke="#333" stroke-width="0.7" />
<line x1="248.99" y1="545.50" x2="248.99" y2="546.90" stroke="#333" stroke-width="0.7" />
<line x1="249.37" y1="545.50" x2="249.37" y2="546.90" stroke="#333" stroke-width="0.7" />
<text transform="translate(241.30 556.90) rotate(-45)" font-size="6.0" text-anchor="end" fill="#262626" x="2.6" y="2">0</text>
<text transform="translate(250.40 555.10) rotate(-45)" font-size="6.0" text-anchor="end" fill="#262626" x="2.8" y="2">10<tspan font-size="4.0" dy="-2.6">2</tspan></text>
<text transform="translate(265.50 555.10) rotate(-45)" font-size="6.0" text-anchor="end" fill="#262626" x="2.8" y="2">10<tspan font-size="4.0" dy="-2.6">3</tspan></text>
<text transform="translate(280.40 555.10) rotate(-45)" font-size="6.0" text-anchor="end" fill="#262626" x="2.8" y="2">10<tspan font-size="4.0" dy="-2.6">4</tspan></text>
<text transform="translate(295.00 555.10) rotate(-45)" font-size="6.0" text-anchor="end" fill="#262626" x="2.8" y="2">10<tspan font-size="4.0" dy="-2.6">5</tspan></text>
<line x1="262.70" y1="490.10" x2="297.00" y2="490.10" stroke="#333" stroke-width="1.0" />
<line x1="262.70" y1="488.70" x2="262.70" y2="491.50" stroke="#333" stroke-width="1.0" />
<line x1="297.00" y1="488.70" x2="297.00" y2="491.50" stroke="#333" stroke-width="1.0" />
<text x="282.55" y="488.20" font-size="6.3" text-anchor="middle" fill="#262626" textLength="12.60" lengthAdjust="spacingAndGlyphs" >99.3</text>
<text x="339.00" y="476.90" font-size="8.3" text-anchor="start" fill="#262626" textLength="49.30" lengthAdjust="spacingAndGlyphs" class="b" >WAS PRE GT</text>
<clipPath id="clip21"><rect x="331.30" y="481.90" width="63.50" height="62.70"/></clipPath>
<g clip-path="url(#clip21)">
<polyline points="332.10,545.50 332.66,545.50 333.23,545.50 333.79,545.50 334.35,545.50 334.91,545.49 335.48,545.49 336.04,545.47 336.60,545.45 337.16,545.41 337.73,545.33 338.29,545.21 338.85,545.01 339.42,544.69 339.98,544.21 340.54,543.48 341.10,542.43 341.67,540.97 342.23,538.99 342.79,536.39 343.35,533.11 343.92,529.10 344.48,524.37 345.04,519.02 345.61,513.21 346.17,507.18 346.73,501.26 347.29,495.81 347.86,491.20 348.42,487.75 348.98,485.75 349.54,485.39 350.11,487.33 350.67,491.60 351.23,497.69 351.80,504.89 352.36,512.47 352.92,519.78 353.48,526.32 354.05,531.81 354.61,536.14 355.17,539.37 355.73,541.66 356.30,543.20 356.86,544.18 357.42,544.77 357.99,545.12 358.55,545.31 359.11,545.41 359.67,545.46 360.24,545.48 360.80,545.49 361.36,545.50 361.92,545.50 362.49,545.50 363.05,545.50 363.61,545.50 364.18,545.50 364.74,545.50 365.30,545.50 365.86,545.50 366.43,545.50 366.99,545.50 367.55,545.50 368.11,545.50 368.68,545.50 369.24,545.50 369.80,545.50 370.37,545.50 370.93,545.50 371.49,545.50 372.05,545.50 372.62,545.50 373.18,545.50 373.74,545.50 374.30,545.50 374.87,545.50 375.43,545.50 375.99,545.50 376.56,545.50 377.12,545.50 377.68,545.50 378.24,545.50 378.81,545.50 379.37,545.50 379.93,545.50 380.49,545.50 381.06,545.50 381.62,545.50 382.18,545.50 382.75,545.50 383.31,545.50 383.87,545.50 384.43,545.50 385.00,545.50 385.56,545.50 386.12,545.50 386.68,545.50 387.25,545.50 387.81,545.50 388.37,545.50 388.94,545.50 389.50,545.50 390.06,545.50 390.62,545.50 391.19,545.50 391.75,545.50 392.31,545.50 392.87,545.50 393.44,545.50 394.00,545.50" fill="none" stroke="#cf2f7e" stroke-width="1.1" stroke-linejoin="round" />
<polyline points="332.10,545.50 332.66,545.50 333.23,545.50 333.79,545.50 334.35,545.50 334.91,545.50 335.48,545.50 336.04,545.50 336.60,545.50 337.16,545.49 337.73,545.48 338.29,545.46 338.85,545.43 339.42,545.37 339.98,545.26 340.54,545.07 341.10,544.76 341.67,544.28 342.23,543.53 342.79,542.43 343.35,540.86 343.92,538.70 344.48,535.83 345.04,532.17 345.61,527.69 346.17,522.43 346.73,516.52 347.29,510.20 347.86,503.82 348.42,497.78 348.98,492.53 349.54,488.49 350.11,486.01 350.67,485.34 351.23,488.24 351.80,495.15 352.36,504.59 352.92,514.80 353.48,524.21 354.05,531.86 354.61,537.43 355.17,541.09 355.73,543.27 356.30,544.46 356.86,545.05 357.42,545.32 357.99,545.43 358.55,545.48 359.11,545.49 359.67,545.50 360.24,545.50 360.80,545.50 361.36,545.50 361.92,545.50 362.49,545.50 363.05,545.50 363.61,545.50 364.18,545.50 364.74,545.50 365.30,545.50 365.86,545.50 366.43,545.50 366.99,545.50 367.55,545.50 368.11,545.50 368.68,545.50 369.24,545.50 369.80,545.50 370.37,545.50 370.93,545.50 371.49,545.50 372.05,545.50 372.62,545.50 373.18,545.50 373.74,545.50 374.30,545.50 374.87,545.50 375.43,545.50 375.99,545.50 376.56,545.50 377.12,545.50 377.68,545.50 378.24,545.50 378.81,545.50 379.37,545.50 379.93,545.50 380.49,545.50 381.06,545.50 381.62,545.50 382.18,545.50 382.75,545.50 383.31,545.50 383.87,545.50 384.43,545.50 385.00,545.50 385.56,545.50 386.12,545.50 386.68,545.50 387.25,545.50 387.81,545.50 388.37,545.50 388.94,545.50 389.50,545.50 390.06,545.50 390.62,545.50 391.19,545.50 391.75,545.50 392.31,545.50 392.87,545.50 393.44,545.50 394.00,545.50" fill="none" stroke="#4fb0d6" stroke-width="1.1" stroke-linejoin="round" style="mix-blend-mode:multiply"/>
</g>
<rect x="331.30" y="481.90" width="63.50" height="63.60" fill="none" stroke="#111" stroke-width="1.3"/>
<line x1="328.30" y1="545.50" x2="331.30" y2="545.50" stroke="#222" stroke-width="1.0" />
<text x="325.80" y="547.50" font-size="6.5" text-anchor="end" fill="#262626" textLength="3.50" lengthAdjust="spacingAndGlyphs" >0</text>
<line x1="329.90" y1="543.09" x2="331.30" y2="543.09" stroke="#333" stroke-width="0.8" />
<line x1="329.90" y1="540.68" x2="331.30" y2="540.68" stroke="#333" stroke-width="0.8" />
<line x1="329.90" y1="538.28" x2="331.30" y2="538.28" stroke="#333" stroke-width="0.8" />
<line x1="329.90" y1="535.87" x2="331.30" y2="535.87" stroke="#333" stroke-width="0.8" />
<line x1="328.30" y1="533.46" x2="331.30" y2="533.46" stroke="#222" stroke-width="1.0" />
<text x="325.80" y="535.46" font-size="6.5" text-anchor="end" fill="#262626" textLength="7.00" lengthAdjust="spacingAndGlyphs" >20</text>
<line x1="329.90" y1="531.05" x2="331.30" y2="531.05" stroke="#333" stroke-width="0.8" />
<line x1="329.90" y1="528.64" x2="331.30" y2="528.64" stroke="#333" stroke-width="0.8" />
<line x1="329.90" y1="526.24" x2="331.30" y2="526.24" stroke="#333" stroke-width="0.8" />
<line x1="329.90" y1="523.83" x2="331.30" y2="523.83" stroke="#333" stroke-width="0.8" />
<line x1="328.30" y1="521.42" x2="331.30" y2="521.42" stroke="#222" stroke-width="1.0" />
<text x="325.80" y="523.42" font-size="6.5" text-anchor="end" fill="#262626" textLength="7.00" lengthAdjust="spacingAndGlyphs" >40</text>
<line x1="329.90" y1="519.01" x2="331.30" y2="519.01" stroke="#333" stroke-width="0.8" />
<line x1="329.90" y1="516.60" x2="331.30" y2="516.60" stroke="#333" stroke-width="0.8" />
<line x1="329.90" y1="514.20" x2="331.30" y2="514.20" stroke="#333" stroke-width="0.8" />
<line x1="329.90" y1="511.79" x2="331.30" y2="511.79" stroke="#333" stroke-width="0.8" />
<line x1="328.30" y1="509.38" x2="331.30" y2="509.38" stroke="#222" stroke-width="1.0" />
<text x="325.80" y="511.38" font-size="6.5" text-anchor="end" fill="#262626" textLength="7.00" lengthAdjust="spacingAndGlyphs" >60</text>
<line x1="329.90" y1="506.97" x2="331.30" y2="506.97" stroke="#333" stroke-width="0.8" />
<line x1="329.90" y1="504.56" x2="331.30" y2="504.56" stroke="#333" stroke-width="0.8" />
<line x1="329.90" y1="502.16" x2="331.30" y2="502.16" stroke="#333" stroke-width="0.8" />
<line x1="329.90" y1="499.75" x2="331.30" y2="499.75" stroke="#333" stroke-width="0.8" />
<line x1="328.30" y1="497.34" x2="331.30" y2="497.34" stroke="#222" stroke-width="1.0" />
<text x="325.80" y="499.34" font-size="6.5" text-anchor="end" fill="#262626" textLength="7.00" lengthAdjust="spacingAndGlyphs" >80</text>
<line x1="329.90" y1="494.93" x2="331.30" y2="494.93" stroke="#333" stroke-width="0.8" />
<line x1="329.90" y1="492.52" x2="331.30" y2="492.52" stroke="#333" stroke-width="0.8" />
<line x1="329.90" y1="490.12" x2="331.30" y2="490.12" stroke="#333" stroke-width="0.8" />
<line x1="329.90" y1="487.71" x2="331.30" y2="487.71" stroke="#333" stroke-width="0.8" />
<line x1="328.30" y1="485.30" x2="331.30" y2="485.30" stroke="#222" stroke-width="1.0" />
<text x="325.80" y="487.30" font-size="6.5" text-anchor="end" fill="#262626" textLength="10.50" lengthAdjust="spacingAndGlyphs" >100</text>
<line x1="337.80" y1="545.50" x2="337.80" y2="547.90" stroke="#222" stroke-width="0.9" />
<line x1="345.10" y1="545.50" x2="345.10" y2="548.10" stroke="#222" stroke-width="0.9" />
<line x1="349.62" y1="545.50" x2="349.62" y2="546.90" stroke="#333" stroke-width="0.7" />
<line x1="352.26" y1="545.50" x2="352.26" y2="546.90" stroke="#333" stroke-width="0.7" />
<line x1="354.13" y1="545.50" x2="354.13" y2="546.90" stroke="#333" stroke-width="0.7" />
<line x1="355.58" y1="545.50" x2="355.58" y2="546.90" stroke="#333" stroke-width="0.7" />
<line x1="356.77" y1="545.50" x2="356.77" y2="546.90" stroke="#333" stroke-width="0.7" />
<line x1="357.78" y1="545.50" x2="357.78" y2="546.90" stroke="#333" stroke-width="0.7" />
<line x1="358.65" y1="545.50" x2="358.65" y2="546.90" stroke="#333" stroke-width="0.7" />
<line x1="359.41" y1="545.50" x2="359.41" y2="546.90" stroke="#333" stroke-width="0.7" />
<line x1="360.20" y1="545.50" x2="360.20" y2="548.10" stroke="#222" stroke-width="0.9" />
<line x1="364.72" y1="545.50" x2="364.72" y2="546.90" stroke="#333" stroke-width="0.7" />
<line x1="367.36" y1="545.50" x2="367.36" y2="546.90" stroke="#333" stroke-width="0.7" />
<line x1="369.23" y1="545.50" x2="369.23" y2="546.90" stroke="#333" stroke-width="0.7" />
<line x1="370.68" y1="545.50" x2="370.68" y2="546.90" stroke="#333" stroke-width="0.7" />
<line x1="371.87" y1="545.50" x2="371.87" y2="546.90" stroke="#333" stroke-width="0.7" />
<line x1="372.88" y1="545.50" x2="372.88" y2="546.90" stroke="#333" stroke-width="0.7" />
<line x1="373.75" y1="545.50" x2="373.75" y2="546.90" stroke="#333" stroke-width="0.7" />
<line x1="374.51" y1="545.50" x2="374.51" y2="546.90" stroke="#333" stroke-width="0.7" />
<line x1="375.10" y1="545.50" x2="375.10" y2="548.10" stroke="#222" stroke-width="0.9" />
<line x1="379.62" y1="545.50" x2="379.62" y2="546.90" stroke="#333" stroke-width="0.7" />
<line x1="382.26" y1="545.50" x2="382.26" y2="546.90" stroke="#333" stroke-width="0.7" />
<line x1="384.13" y1="545.50" x2="384.13" y2="546.90" stroke="#333" stroke-width="0.7" />
<line x1="385.58" y1="545.50" x2="385.58" y2="546.90" stroke="#333" stroke-width="0.7" />
<line x1="386.77" y1="545.50" x2="386.77" y2="546.90" stroke="#333" stroke-width="0.7" />
<line x1="387.78" y1="545.50" x2="387.78" y2="546.90" stroke="#333" stroke-width="0.7" />
<line x1="388.65" y1="545.50" x2="388.65" y2="546.90" stroke="#333" stroke-width="0.7" />
<line x1="389.41" y1="545.50" x2="389.41" y2="546.90" stroke="#333" stroke-width="0.7" />
<line x1="389.70" y1="545.50" x2="389.70" y2="548.10" stroke="#222" stroke-width="0.9" />
<line x1="340.00" y1="545.50" x2="340.00" y2="546.90" stroke="#333" stroke-width="0.7" />
<line x1="341.28" y1="545.50" x2="341.28" y2="546.90" stroke="#333" stroke-width="0.7" />
<line x1="342.20" y1="545.50" x2="342.20" y2="546.90" stroke="#333" stroke-width="0.7" />
<line x1="342.90" y1="545.50" x2="342.90" y2="546.90" stroke="#333" stroke-width="0.7" />
<line x1="343.48" y1="545.50" x2="343.48" y2="546.90" stroke="#333" stroke-width="0.7" />
<line x1="343.97" y1="545.50" x2="343.97" y2="546.90" stroke="#333" stroke-width="0.7" />
<line x1="344.39" y1="545.50" x2="344.39" y2="546.90" stroke="#333" stroke-width="0.7" />
<line x1="344.77" y1="545.50" x2="344.77" y2="546.90" stroke="#333" stroke-width="0.7" />
<text transform="translate(336.70 556.90) rotate(-45)" font-size="6.0" text-anchor="end" fill="#262626" x="2.6" y="2">0</text>
<text transform="translate(345.80 555.10) rotate(-45)" font-size="6.0" text-anchor="end" fill="#262626" x="2.8" y="2">10<tspan font-size="4.0" dy="-2.6">2</tspan></text>
<text transform="translate(360.90 555.10) rotate(-45)" font-size="6.0" text-anchor="end" fill="#262626" x="2.8" y="2">10<tspan font-size="4.0" dy="-2.6">3</tspan></text>
<text transform="translate(375.80 555.10) rotate(-45)" font-size="6.0" text-anchor="end" fill="#262626" x="2.8" y="2">10<tspan font-size="4.0" dy="-2.6">4</tspan></text>
<text transform="translate(390.40 555.10) rotate(-45)" font-size="6.0" text-anchor="end" fill="#262626" x="2.8" y="2">10<tspan font-size="4.0" dy="-2.6">5</tspan></text>
<line x1="354.20" y1="488.60" x2="388.60" y2="488.60" stroke="#333" stroke-width="1.0" />
<line x1="354.20" y1="487.20" x2="354.20" y2="490.00" stroke="#333" stroke-width="1.0" />
<line x1="388.60" y1="487.20" x2="388.60" y2="490.00" stroke="#333" stroke-width="1.0" />
<text x="371.40" y="486.70" font-size="6.3" text-anchor="middle" fill="#262626" textLength="9.00" lengthAdjust="spacingAndGlyphs" >3.1</text>
<text x="423.30" y="476.90" font-size="8.3" text-anchor="start" fill="#262626" textLength="72.80" lengthAdjust="spacingAndGlyphs" class="b" >WAS POST GT (3Y)</text>
<clipPath id="clip22"><rect x="427.60" y="481.90" width="63.70" height="62.70"/></clipPath>
<g clip-path="url(#clip22)">
<polyline points="428.40,545.50 428.96,545.50 429.53,545.50 430.09,545.50 430.66,545.50 431.22,545.50 431.79,545.50 432.35,545.49 432.92,545.49 433.48,545.48 434.05,545.46 434.61,545.44 435.17,545.41 435.74,545.36 436.30,545.28 436.87,545.17 437.43,545.01 438.00,544.79 438.56,544.47 439.13,544.04 439.69,543.46 440.26,542.70 440.82,541.70 441.38,540.44 441.95,538.87 442.51,536.93 443.08,534.61 443.64,531.88 444.21,528.77 444.77,525.75 445.34,523.83 445.90,521.72 446.47,516.07 447.03,509.06 447.59,503.81 448.16,500.64 448.72,498.85 449.29,495.33 449.85,490.29 450.42,486.98 450.98,485.58 451.55,485.46 452.11,488.99 452.68,496.38 453.24,506.07 453.80,516.28 454.37,525.50 454.93,532.86 455.50,538.12 456.06,541.52 456.63,543.52 457.19,544.59 457.76,545.11 458.32,545.35 458.89,545.45 459.45,545.48 460.01,545.49 460.58,545.50 461.14,545.50 461.71,545.50 462.27,545.50 462.84,545.50 463.40,545.50 463.97,545.50 464.53,545.50 465.10,545.50 465.66,545.50 466.22,545.50 466.79,545.50 467.35,545.50 467.92,545.50 468.48,545.50 469.05,545.50 469.61,545.50 470.18,545.50 470.74,545.50 471.31,545.50 471.87,545.50 472.43,545.50 473.00,545.50 473.56,545.50 474.13,545.50 474.69,545.50 475.26,545.50 475.82,545.50 476.39,545.50 476.95,545.50 477.52,545.50 478.08,545.50 478.64,545.50 479.21,545.50 479.77,545.50 480.34,545.50 480.90,545.50 481.47,545.50 482.03,545.50 482.60,545.50 483.16,545.50 483.73,545.50 484.29,545.50 484.85,545.50 485.42,545.50 485.98,545.50 486.55,545.50 487.11,545.50 487.68,545.50 488.24,545.50 488.81,545.50 489.37,545.50 489.94,545.50 490.50,545.50" fill="none" stroke="#cf2f7e" stroke-width="1.1" stroke-linejoin="round" />
<polyline points="428.40,545.50 428.96,545.50 429.53,545.50 430.09,545.50 430.66,545.50 431.22,545.50 431.79,545.50 432.35,545.50 432.92,545.50 433.48,545.50 434.05,545.50 434.61,545.50 435.17,545.50 435.74,545.50 436.30,545.50 436.87,545.50 437.43,545.50 438.00,545.50 438.56,545.50 439.13,545.50 439.69,545.50 440.26,545.50 440.82,545.50 441.38,545.49 441.95,545.49 442.51,545.48 443.08,545.47 443.64,545.45 444.21,545.41 444.77,545.36 445.34,545.28 445.90,545.16 446.47,544.99 447.03,544.74 447.59,544.39 448.16,543.91 448.72,543.25 449.29,542.38 449.85,541.24 450.42,539.79 450.98,537.97 451.55,535.75 452.11,533.08 452.68,529.95 453.24,526.36 453.80,522.35 454.37,517.99 454.93,513.35 455.50,508.58 456.06,503.82 456.63,499.25 457.19,495.10 457.76,492.31 458.32,494.69 458.89,498.54 459.45,492.02 460.01,486.80 460.58,489.66 461.14,495.80 461.71,502.93 462.27,510.01 462.84,516.48 463.40,522.08 463.97,526.77 464.53,530.61 465.10,533.68 465.66,536.13 466.22,538.07 466.79,539.59 467.35,540.79 467.92,541.73 468.48,542.47 469.05,543.05 469.61,543.52 470.18,543.88 470.74,544.17 471.31,544.41 471.87,544.60 472.43,544.75 473.00,544.87 473.56,544.97 474.13,545.06 474.69,545.12 475.26,545.18 475.82,545.23 476.39,545.27 476.95,545.30 477.52,545.33 478.08,545.35 478.64,545.37 479.21,545.38 479.77,545.40 480.34,545.41 480.90,545.42 481.47,545.43 482.03,545.44 482.60,545.44 483.16,545.45 483.73,545.46 484.29,545.46 484.85,545.46 485.42,545.47 485.98,545.47 486.55,545.47 487.11,545.48 487.68,545.48 488.24,545.48 488.81,545.48 489.37,545.48 489.94,545.48 490.50,545.49" fill="none" stroke="#4fb0d6" stroke-width="1.1" stroke-linejoin="round" style="mix-blend-mode:multiply"/>
</g>
<rect x="427.60" y="481.90" width="63.70" height="63.60" fill="none" stroke="#111" stroke-width="1.3"/>
<line x1="424.60" y1="545.50" x2="427.60" y2="545.50" stroke="#222" stroke-width="1.0" />
<text x="422.10" y="547.50" font-size="6.5" text-anchor="end" fill="#262626" textLength="3.50" lengthAdjust="spacingAndGlyphs" >0</text>
<line x1="426.20" y1="543.09" x2="427.60" y2="543.09" stroke="#333" stroke-width="0.8" />
<line x1="426.20" y1="540.68" x2="427.60" y2="540.68" stroke="#333" stroke-width="0.8" />
<line x1="426.20" y1="538.28" x2="427.60" y2="538.28" stroke="#333" stroke-width="0.8" />
<line x1="426.20" y1="535.87" x2="427.60" y2="535.87" stroke="#333" stroke-width="0.8" />
<line x1="424.60" y1="533.46" x2="427.60" y2="533.46" stroke="#222" stroke-width="1.0" />
<text x="422.10" y="535.46" font-size="6.5" text-anchor="end" fill="#262626" textLength="7.00" lengthAdjust="spacingAndGlyphs" >20</text>
<line x1="426.20" y1="531.05" x2="427.60" y2="531.05" stroke="#333" stroke-width="0.8" />
<line x1="426.20" y1="528.64" x2="427.60" y2="528.64" stroke="#333" stroke-width="0.8" />
<line x1="426.20" y1="526.24" x2="427.60" y2="526.24" stroke="#333" stroke-width="0.8" />
<line x1="426.20" y1="523.83" x2="427.60" y2="523.83" stroke="#333" stroke-width="0.8" />
<line x1="424.60" y1="521.42" x2="427.60" y2="521.42" stroke="#222" stroke-width="1.0" />
<text x="422.10" y="523.42" font-size="6.5" text-anchor="end" fill="#262626" textLength="7.00" lengthAdjust="spacingAndGlyphs" >40</text>
<line x1="426.20" y1="519.01" x2="427.60" y2="519.01" stroke="#333" stroke-width="0.8" />
<line x1="426.20" y1="516.60" x2="427.60" y2="516.60" stroke="#333" stroke-width="0.8" />
<line x1="426.20" y1="514.20" x2="427.60" y2="514.20" stroke="#333" stroke-width="0.8" />
<line x1="426.20" y1="511.79" x2="427.60" y2="511.79" stroke="#333" stroke-width="0.8" />
<line x1="424.60" y1="509.38" x2="427.60" y2="509.38" stroke="#222" stroke-width="1.0" />
<text x="422.10" y="511.38" font-size="6.5" text-anchor="end" fill="#262626" textLength="7.00" lengthAdjust="spacingAndGlyphs" >60</text>
<line x1="426.20" y1="506.97" x2="427.60" y2="506.97" stroke="#333" stroke-width="0.8" />
<line x1="426.20" y1="504.56" x2="427.60" y2="504.56" stroke="#333" stroke-width="0.8" />
<line x1="426.20" y1="502.16" x2="427.60" y2="502.16" stroke="#333" stroke-width="0.8" />
<line x1="426.20" y1="499.75" x2="427.60" y2="499.75" stroke="#333" stroke-width="0.8" />
<line x1="424.60" y1="497.34" x2="427.60" y2="497.34" stroke="#222" stroke-width="1.0" />
<text x="422.10" y="499.34" font-size="6.5" text-anchor="end" fill="#262626" textLength="7.00" lengthAdjust="spacingAndGlyphs" >80</text>
<line x1="426.20" y1="494.93" x2="427.60" y2="494.93" stroke="#333" stroke-width="0.8" />
<line x1="426.20" y1="492.52" x2="427.60" y2="492.52" stroke="#333" stroke-width="0.8" />
<line x1="426.20" y1="490.12" x2="427.60" y2="490.12" stroke="#333" stroke-width="0.8" />
<line x1="426.20" y1="487.71" x2="427.60" y2="487.71" stroke="#333" stroke-width="0.8" />
<line x1="424.60" y1="485.30" x2="427.60" y2="485.30" stroke="#222" stroke-width="1.0" />
<text x="422.10" y="487.30" font-size="6.5" text-anchor="end" fill="#262626" textLength="10.50" lengthAdjust="spacingAndGlyphs" >100</text>
<line x1="434.10" y1="545.50" x2="434.10" y2="547.90" stroke="#222" stroke-width="0.9" />
<line x1="441.40" y1="545.50" x2="441.40" y2="548.10" stroke="#222" stroke-width="0.9" />
<line x1="445.92" y1="545.50" x2="445.92" y2="546.90" stroke="#333" stroke-width="0.7" />
<line x1="448.56" y1="545.50" x2="448.56" y2="546.90" stroke="#333" stroke-width="0.7" />
<line x1="450.43" y1="545.50" x2="450.43" y2="546.90" stroke="#333" stroke-width="0.7" />
<line x1="451.88" y1="545.50" x2="451.88" y2="546.90" stroke="#333" stroke-width="0.7" />
<line x1="453.07" y1="545.50" x2="453.07" y2="546.90" stroke="#333" stroke-width="0.7" />
<line x1="454.08" y1="545.50" x2="454.08" y2="546.90" stroke="#333" stroke-width="0.7" />
<line x1="454.95" y1="545.50" x2="454.95" y2="546.90" stroke="#333" stroke-width="0.7" />
<line x1="455.71" y1="545.50" x2="455.71" y2="546.90" stroke="#333" stroke-width="0.7" />
<line x1="456.50" y1="545.50" x2="456.50" y2="548.10" stroke="#222" stroke-width="0.9" />
<line x1="461.02" y1="545.50" x2="461.02" y2="546.90" stroke="#333" stroke-width="0.7" />
<line x1="463.66" y1="545.50" x2="463.66" y2="546.90" stroke="#333" stroke-width="0.7" />
<line x1="465.53" y1="545.50" x2="465.53" y2="546.90" stroke="#333" stroke-width="0.7" />
<line x1="466.98" y1="545.50" x2="466.98" y2="546.90" stroke="#333" stroke-width="0.7" />
<line x1="468.17" y1="545.50" x2="468.17" y2="546.90" stroke="#333" stroke-width="0.7" />
<line x1="469.18" y1="545.50" x2="469.18" y2="546.90" stroke="#333" stroke-width="0.7" />
<line x1="470.05" y1="545.50" x2="470.05" y2="546.90" stroke="#333" stroke-width="0.7" />
<line x1="470.81" y1="545.50" x2="470.81" y2="546.90" stroke="#333" stroke-width="0.7" />
<line x1="471.40" y1="545.50" x2="471.40" y2="548.10" stroke="#222" stroke-width="0.9" />
<line x1="475.92" y1="545.50" x2="475.92" y2="546.90" stroke="#333" stroke-width="0.7" />
<line x1="478.56" y1="545.50" x2="478.56" y2="546.90" stroke="#333" stroke-width="0.7" />
<line x1="480.43" y1="545.50" x2="480.43" y2="546.90" stroke="#333" stroke-width="0.7" />
<line x1="481.88" y1="545.50" x2="481.88" y2="546.90" stroke="#333" stroke-width="0.7" />
<line x1="483.07" y1="545.50" x2="483.07" y2="546.90" stroke="#333" stroke-width="0.7" />
<line x1="484.08" y1="545.50" x2="484.08" y2="546.90" stroke="#333" stroke-width="0.7" />
<line x1="484.95" y1="545.50" x2="484.95" y2="546.90" stroke="#333" stroke-width="0.7" />
<line x1="485.71" y1="545.50" x2="485.71" y2="546.90" stroke="#333" stroke-width="0.7" />
<line x1="486.00" y1="545.50" x2="486.00" y2="548.10" stroke="#222" stroke-width="0.9" />
<line x1="436.30" y1="545.50" x2="436.30" y2="546.90" stroke="#333" stroke-width="0.7" />
<line x1="437.58" y1="545.50" x2="437.58" y2="546.90" stroke="#333" stroke-width="0.7" />
<line x1="438.50" y1="545.50" x2="438.50" y2="546.90" stroke="#333" stroke-width="0.7" />
<line x1="439.20" y1="545.50" x2="439.20" y2="546.90" stroke="#333" stroke-width="0.7" />
<line x1="439.78" y1="545.50" x2="439.78" y2="546.90" stroke="#333" stroke-width="0.7" />
<line x1="440.27" y1="545.50" x2="440.27" y2="546.90" stroke="#333" stroke-width="0.7" />
<line x1="440.69" y1="545.50" x2="440.69" y2="546.90" stroke="#333" stroke-width="0.7" />
<line x1="441.07" y1="545.50" x2="441.07" y2="546.90" stroke="#333" stroke-width="0.7" />
<text transform="translate(433.00 556.90) rotate(-45)" font-size="6.0" text-anchor="end" fill="#262626" x="2.6" y="2">0</text>
<text transform="translate(442.10 555.10) rotate(-45)" font-size="6.0" text-anchor="end" fill="#262626" x="2.8" y="2">10<tspan font-size="4.0" dy="-2.6">2</tspan></text>
<text transform="translate(457.20 555.10) rotate(-45)" font-size="6.0" text-anchor="end" fill="#262626" x="2.8" y="2">10<tspan font-size="4.0" dy="-2.6">3</tspan></text>
<text transform="translate(472.10 555.10) rotate(-45)" font-size="6.0" text-anchor="end" fill="#262626" x="2.8" y="2">10<tspan font-size="4.0" dy="-2.6">4</tspan></text>
<text transform="translate(486.70 555.10) rotate(-45)" font-size="6.0" text-anchor="end" fill="#262626" x="2.8" y="2">10<tspan font-size="4.0" dy="-2.6">5</tspan></text>
<line x1="455.10" y1="489.60" x2="486.00" y2="489.60" stroke="#333" stroke-width="1.0" />
<line x1="455.10" y1="488.20" x2="455.10" y2="491.00" stroke="#333" stroke-width="1.0" />
<line x1="486.00" y1="488.20" x2="486.00" y2="491.00" stroke="#333" stroke-width="1.0" />
<text x="470.75" y="487.70" font-size="6.3" text-anchor="middle" fill="#262626" textLength="12.60" lengthAdjust="spacingAndGlyphs" >71.9</text>
<line x1="211.9" y1="549.20" x2="211.9" y2="523.40" stroke="#222" stroke-width="1.35"/>
<path d="M211.9 518.30 L214.6 525.10 L211.9 524.10 L209.2 525.10 Z" fill="#111"/>
<text x="214.00" y="504.80" font-size="8.4" text-anchor="middle" fill="#262626" textLength="19.20" lengthAdjust="spacingAndGlyphs" transform="rotate(-90 214.00 504.80)" class="b" >% Max</text>
<line x1="219.60" y1="571.00" x2="430.00" y2="571.00" stroke="#222" stroke-width="1.35" />
<path d="M434.6 571.00 L427.8 568.20 L428.9 571.00 L427.8 573.80 Z" fill="#111"/>
<text x="443.80" y="573.60" font-size="7.3" text-anchor="start" fill="#262626" textLength="17.60" lengthAdjust="spacingAndGlyphs" >WASp</text>
<line x1="458.50" y1="587.90" x2="473.60" y2="587.90" stroke="#70b0c8" stroke-width="1.3" />
<text x="476.60" y="589.80" font-size="6.3" text-anchor="start" fill="#262626" textLength="16.40" lengthAdjust="spacingAndGlyphs" >WASp</text>
<line x1="458.50" y1="597.20" x2="473.60" y2="597.20" stroke="#d83a7a" stroke-width="1.3" />
<text x="476.60" y="598.60" font-size="6.3" text-anchor="start" fill="#262626" textLength="19.10" lengthAdjust="spacingAndGlyphs" >Isotype</text>
<rect x="0.5" y="0.5" width="519" height="606" fill="none" stroke="#4a4a4a" stroke-width="1"/>
</svg>
</body></html>
